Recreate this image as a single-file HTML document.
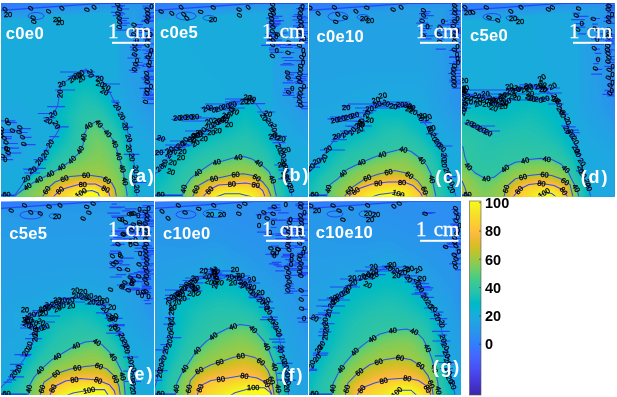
<!DOCTYPE html>
<html><head><meta charset="utf-8"><style>
html,body{margin:0;padding:0;background:#fff;}
svg{display:block;}
.t{letter-spacing:0.3px;font:bold 16.6px "Liberation Sans",Arial,sans-serif;fill:#fff;}
.s{font:21px "Liberation Serif","Times New Roman",serif;fill:#fff;stroke:#fff;stroke-width:0.3px;}
.l{letter-spacing:1.8px;font:bold 18px "Liberation Sans",Arial,sans-serif;fill:#fff;}
.cb{font:bold 14.5px "Liberation Sans",Arial,sans-serif;fill:#000;}
.n{font:7.4px "Liberation Sans",Arial,sans-serif;fill:#000;stroke:#000;stroke-width:0.3px;}
</style></head><body>
<svg width="617" height="397" viewBox="0 0 617 397">
<clipPath id="ca"><rect x="1" y="2.9" width="153" height="193.4"/></clipPath>
<g clip-path="url(#ca)">
<rect x="-11" y="-9" width="177" height="217" fill="#3479fd"/>
<path fill="#317dfb" d="M97.5 -3 166 -3.3 166 208 -11 208 -11 5.1Z"/>
<path fill="#2f80fa" d="M93.7 -1 104 -1.7 166 -1.5 166 208 -11 208 -11 6.9Z"/>
<path fill="#2e83f9" d="M89.9 1 104 0 166 0.2 166 208 -11 208 -11 8.6Z"/>
<path fill="#2e85f8" d="M100.5 2 166 2 166 208 -11 208 -11 10.1Z"/>
<path fill="#2d88f6" d="M95 3 104 2.4 166 2.4 166 208 -11 208 -11 10.7Z"/>
<path fill="#2d8af4" d="M101 3 166 2.9 166 208 -11 208 -11 11.2Z"/>
<path fill="#2d8df2" d="M93.1 4 104 3.2 166 3.4 166 208 -11 208 -11 11.7Z"/>
<path fill="#2c8ff1" d="M99.1 4 166 4 166 208 -11 208 -11 12.1Z"/>
<path fill="#2b91ef" d="M91.2 5 104 4.1 146 4.1 151.4 5 152 55 154 98 156.6 103 166 104.7 166 208 -11 208 -11 12.5Z"/>
<path fill="#2994ed" d="M97.2 5 148.7 5 149.6 61 152 103 154 106 166 108.4 166 208 -11 208 -11 12.9Z"/>
<path fill="#2896eb" d="M103.2 5 146.1 5 146.9 58 149.7 103 154 109.6 166 112.3 166 208 -11 208 -11 13.6Z"/>
<path fill="#2698ea" d="M90.4 7 104 6.1 140 6.1 142.8 7 143.7 55 147.3 103 154 113.3 166 116.1 166 208 -11 208 -11 14.5Z"/>
<path fill="#269be8" d="M92.8 8 104 7.2 137 7.3 139.4 8 140.6 57 142.4 83 144.7 103 154 117.1 166 120.1 166 208 -11 208 -11 15.7Z"/>
<path fill="#259de7" d="M95.2 9 104 8.4 136.1 9 137.4 58 139.4 84 141.9 103 154 121.2 166 124.1 166 208 -11 208 -11 16.9Z"/>
<path fill="#249fe5" d="M97.6 10 130.5 10 132.6 53 139.1 103 144 111.3 154 125.3 166 128 166 208 -11 208 -11 18 40 14.3 54 12.6ZM13 135.8 11 137.3 10.5 140 11.2 142 13 143.1 15.2 142 16.1 139 15 136.4Z"/>
<path fill="#22a1e4" d="M100.1 11 124.9 11 125.6 35 127.6 56 132.4 85 136.3 103 148 122.2 154 129.6 166 132.1 166 208 -11 208 -11 19.2 40 15.4 54 13.2 69 13.2ZM11 132 7.4 136 7.1 142 10 146.9 14 147.8 17 146.1 18.5 144 19.5 141 19.5 137 18 134 16 132.2 14 131.5Z"/>
<path fill="#21a3e3" d="M102.6 12 119.3 12 119.9 34 121.8 52 128.4 86 132.7 103 145 123.1 151.9 132 154 133.8 166 136.1 166 208 -11 208 -11 20.1 35 17 44.1 16 55 13.7 74.8 14ZM10 128.8 7.2 131 5.3 134 4.2 138 4.3 142 5.5 146 7.7 149 11 150.9 14 151.2 18 149.3 20.5 146 22.1 141 22 136 20 132 17 129.2 14 128.2Z"/>
<path fill="#1fa5e2" d="M92.2 13 104 12.2 118 12.2 118.8 13 119 65.7 129.1 103 143.5 127 149 134.1 154 138.2 166 140.2 166 208 -11 208 -11 20.3 36 17.2 47.5 16 55 14.2 63 14.7ZM12 124.9 8 126.4 4.4 130 2.1 135 1.5 140 2.6 146 5 150.3 9 153.5 13 154.4 17.8 153 21.1 150 24 144 24.7 138 23.5 133 20.1 128 16 125.3Z"/>
<path fill="#1ea7e1" d="M94.5 13 104 12.5 118.5 13 119 82 125.6 103 143 133.1 148.4 139 154 142.7 166 144.3 166 208 -11 208 -11 20.6 37 17.4 55 14.7 65 15.1ZM9 121.8 4.3 125 0.8 130 -1.1 136 -1.1 143 0.6 149 4 154 9 157.2 14 157.7 20 155.2 23.8 151 26.7 144 27.3 136 24.5 129 20 123.6 15 121.3Z"/>
<path fill="#1ca9df" d="M96.8 13 118.3 13 119 95 123.1 105 133 122.2 138.4 134 142.5 140 147 144 153 147 166 148.4 166 208 -11 208 -11 20.8 39 17.6 54 15.1 67 15.4ZM9 116.7 3 120 -1.8 126 -4.7 134 -5.2 142 -3.3 150 1 157 7 161.2 13 162.1 19.7 160 25.2 155 29.4 146 30.7 136 27.4 127 22 119.8 16 116.5Z"/>
<path fill="#1aabdd" d="M99.8 13 118 13 118.2 83 118.9 103 129.8 124 135 138.6 139.5 146 145 149.9 153 151.9 166 152.6 166 208 -11 208 -11 162.4 -4 167.9 4 170.4 12 169.8 21 166.2 26.3 162 30.6 156 34.5 146 36.6 135 27 112.3 22 106.1 17 102.6 10 100.5 3 100.9 -4 103.6 -11 109.3 -11 22 -10 21 3 21 4 20 16 20 17.7 19 30 19 31 18 42 17.9 43.8 17 55 15.3 71 15.8 72 15 85 14.9 85.9 14 98 14Z"/>
<path fill="#18addb" d="M52.5 16 60 15.6 64.6 16 64.9 17 64 18.6 62 19.8 56 20.8 50 19.8 48 18.6 47.1 17ZM84 70 86 69 91 74 99 77 104.9 83 105 84 108 87 111.9 95 112 97 113.9 99 126.9 125 128 133 128.9 134 129 138 129.9 139 130 143 130.9 144 131 149 132 150 132 155 133 156 133 159 134 160 134 163 135 164 135 183 136 184 136 189 136.9 190 137 196 138 197 138 200 139 201 139 208 7 208 7 201 10 198 14 196 14 195 20 188 23 182 32 173 33 173 33 172 36 169 36 168 40 164 41 159 48 145 52 140 52 139 55 136 56.1 133 59 129 59 128 56.1 125 56 124 52 124 51 123 47 123 46 122 46 121 55 111 57 107 57 104 58 103 58.1 98 59 97 59.1 92 60 91 60 86 68 79 79 73 81 71.1Z"/>
<path fill="#15afd9" d="M53.6 16 62.3 16 62.7 17 60.8 19 56 19.9 51.2 19 49.3 17ZM84.6 70 86 69.5 91 74.5 99 77.6 106.5 86 126.6 125 130.6 145 131.8 155 134.7 165 134.8 183 136.6 191 136.8 196 137.7 197 137.8 200 138.8 201 138.9 208 7.1 208 7.1 201 10 198.2 14 196.1 14.1 195 20.1 188 23.3 182 33.2 173 40.2 164 42.4 157 47.4 147 55.3 136 59.3 129 59.5 128 56 123.7 46.7 122 55 111.5 57.3 107 61.5 85 68 79.7Z"/>
<path fill="#12b1d7" d="M55 16 60.4 16 60.9 17 59 18.7 56 19.1 53 18.7 51 17ZM85.6 70 91 74.9 100 78.8 106 86.1 126.2 125 131.6 155 134.4 165 134.7 183 136.7 196 137.7 200 138.6 201 138.8 208 7.2 208 7.3 201 10 198.4 14 196.2 14.2 195 20.2 188 24.4 181 33.3 173 40.4 164 42.7 157 46.7 149 59.6 129 59.9 128 56 123.4 48 122 47.5 121 55 111.9 57.6 107 61.9 85 68.6 80Z"/>
<path fill="#0eb2d4" d="M57.9 16 59.2 17 57 18.3 54 18.1 52.8 17ZM84.9 71 86 70.9 91 75.6 99.4 79 106 86.8 125.9 125 131.5 155 134.2 165 134.5 183 136.5 196 137.5 200 138.5 201 138.7 208 7.2 208 7.4 201 14 196.2 20.3 188 24.5 181 33.5 173 40.6 164 47 149.2 56.7 135 60.3 128 56 123.2 48 121 55.5 112 58.4 106 62 85.9 68.2 81Z"/>
<path fill="#09b4d1" d="M83.3 73 86 72.2 90 76 99 79.6 105.3 87 125.4 125 133.9 165 134.3 183 136.4 196 138.5 202 138.6 208 7.3 208 7.5 201 14 196.3 24.7 181 33.7 173 40.8 164 48 148.3 56.6 136 60.4 129 60.2 127 57 123.2 49 121 55.6 113 58.7 107 63 86 69.8 81Z"/>
<path fill="#06b5ce" d="M83.9 74 85 73.4 86 73.8 89.6 77 98 80.2 105 87.9 125 125 133.5 165 133.7 180 136.2 196 138.4 202 138.6 208 7.4 208 7.7 201 14 196.4 24.9 181 33.8 173 40.3 165 48 149.3 57.3 136 61 129 61 127 57 122.3 50.9 120 56.6 113 59.6 107 63.8 87 70 82.2Z"/>
<path fill="#03b7cc" d="M83.3 76 85 75 89 78.2 97 81.1 104 88.3 124.8 126 133.2 165 133.5 180 136.2 197 138.2 202 138.5 208 7.5 208 7.8 201 14 196.5 25.1 181 34 173 40.8 165 49 149 58 136.4 61.8 129 61.8 127 58 121.9 53.2 120 53.1 119 57.1 114 60.7 107 65 88 71 83.2Z"/>
<path fill="#01b8c9" d="M83.2 78 85 77.3 88 79.5 97 82.8 103 89 124.1 126 132.8 165 133.2 180 136.4 199 138.1 202 138.4 208 7.5 208 7.9 201 14 196.5 26 180.3 34 173.5 41.3 165 49.3 150 59.3 136 62.6 129 62.7 127 58.7 121 54.9 119 58.5 114 61.9 107 66.5 89 71.2 85Z"/>
<path fill="#01bac6" d="M83.6 80 85 79.9 95.7 84 101.9 90 111 104.2 123.3 126 132.3 165 132.9 180 136.2 200 138 202.2 138.3 208 7.6 208 8 201.2 14 196.6 26 180.7 34 174 42 165 50 150.6 59.9 137 63.6 129 63.7 127 60 120.5 57.3 118 63 108 68.2 90 73 86.1Z"/>
<path fill="#03bbc3" d="M82.7 83 84 82.3 94 85.4 100.5 91 110 104.7 122.4 126 125.4 136 131.8 165 132.6 181 135.7 200 136.6 202 138 202.9 138.3 208 7.7 208 8 201.6 14 196.7 26 181 34.5 174 42 165.9 51 151 60.8 138 64.4 130 64.9 127 60 117 64.7 108 70.2 91Z"/>
<path fill="#07bcbf" d="M82.3 86 84 85.1 93 87.4 98.8 92 109 105.5 121.8 127 124.9 137 131.2 165 132 180 134.6 197 135.8 202 138 203.9 138.2 208 7.8 208 8 202.1 14 196.8 26.5 181 35 174.1 42.8 166 52 151.6 61.8 139 65.7 130 66.1 127 65.6 124 62.1 117 66.2 109 72.5 92Z"/>
<path fill="#0cbdbc" d="M82.3 89 84 88.1 91 89.4 97 93.5 108 106.5 120.6 127 124 136.9 130.5 165 131.5 180 134.7 201 136 203.7 138 205.3 138.1 208 7.8 208 8 202.9 14 196.8 27 181.1 35 174.8 43.8 166 49 157.9 63 139.9 66.8 131 67.6 127 67 123 64.4 117 64.8 116 75 93.6Z"/>
<path fill="#12beb9" d="M82.9 92 85 91.4 90 92.2 94.7 95 100 99.8 107.9 109 119.8 128 123.1 137 129.8 165 130.9 180 134.3 202 138 208 7.9 208 8 204.1 16 194.1 27 181.6 35.5 175 44 167 64.2 141 68 131.9 69.1 127 68.9 123 67.1 116 77.8 95Z"/>
<path fill="#18bfb6" d="M84 95 87 94.9 91 96.4 102 104.8 107 110.5 118.4 128 122.1 137 129 165 133.5 202 135.3 208 8 208 8 206.5 11.4 200 16 194.2 27.2 182 45.3 167 65.1 143 66.9 140 70.7 128 70.9 123 69.6 116 80.6 97Z"/>
<path fill="#1dc0b3" d="M83.9 99 87 99 93 101.5 103 108.6 116.7 128 120 134.8 128.4 166 131.9 194 132.8 208 10.5 208 11.4 201 16 194.3 27.9 182 46 167.8 66.7 144 69 140 72.5 128 73 115Z"/>
<path fill="#23c1af" d="M84.9 104 88 104.1 94 105.7 99 108.2 102.6 111 115.6 129 119.7 137 127.9 169 131.7 200 130.3 208 13 208 11.9 201 16 194.4 28 182.6 47.4 168 68 145.9 70.9 141 74.3 129 76.2 115Z"/>
<path fill="#27c2ac" d="M85.8 109 95 109.5 101.7 113 113.7 129 118.8 138 126.5 166 130.3 193 130.9 201 128 208 13.1 208 12.6 200 16 194.5 29 182.5 48 169 70 147 72.9 142 79.6 116Z"/>
<path fill="#2ac3a9" d="M90.5 113 96 112.8 101 115.3 112.3 130 117.8 139 126 169 130 200 129.6 202 128 204 127.9 208 13.1 208 12.9 200 16 194.6 29.3 183 50 169 65 155.9 71.5 149 75.4 142 77.3 133 81.4 120 86.1 114Z"/>
<path fill="#2dc4a5" d="M94.2 116 97 115.9 100 117.4 111 131.4 116.7 140 125.2 170 128.8 194 129 200 128 202.2 127.9 208 13.2 208 13.3 200 16 194.8 31.7 182 49 171.4 57.6 165 67 157.3 73.2 151 77.8 143 79.3 134 83.8 122 88 117.9Z"/>
<path fill="#30c5a2" d="M95 119 97 118.5 99 119.7 115.6 141 124.1 170 127.9 194 127.8 208 13.3 208 13.2 201 16 194.9 32 182.6 49 173 61 165.1 68 159.7 75 152.9 80.3 144 81.7 134 85.9 124 90 121.1Z"/>
<path fill="#32c69e" d="M95 122 97 121 109.9 135 114.9 142 115 144 115.9 145 116 147 120.7 160 121 163 122.8 167 123 170 123.8 171 126 187 126.8 188 127.8 208 13.3 208 13.3 201 16 195 19 192.4 33 182.2 50 174 57 169.1 62 167 65 164.1 69 162 77 154.1 78 154 81.1 147 83 145 83.1 136 87 127 90 124.1Z"/>
<path fill="#35c79a" d="M95.3 122 97 121.2 98.7 123 109.5 135 114.7 142 123.6 171 126.7 189 127.7 208 13.4 208 13.4 201 16 195.2 19 192.6 33 182.4 50 174.1 57 169.4 62 167.1 69 162.2 78.2 154 81.4 147 83.2 145 83.5 136 87.3 127 90 124.5Z"/>
<path fill="#38c896" d="M95.6 122 97 121.5 99.4 124 114.4 142 123.4 171 126.5 189 127.7 208 13.4 208 13.5 201 16 195.4 19 192.7 33 182.6 50 174.2 62 167.2 69 162.3 78 154.3 83.3 145 83.8 136 87.6 127Z"/>
<path fill="#3cc992" d="M95.8 122 97 121.7 99.2 124 114.2 142 123.2 171 126.4 189 127.6 208 13.5 208 13.7 201 16 195.7 19 192.9 33 182.8 50 174.3 62 167.4 69 162.4 78 154.5 83.5 145 84.2 136 87.8 127Z"/>
<path fill="#3fca8e" d="M96.7 122 111 138 114 142.3 123 171 126.3 190 127.6 208 13.5 208 13.8 201 16 195.9 19 193 33 183 62 167.5 69 162.6 78 154.7 83.7 145 84.9 134 88.1 127Z"/>
<path fill="#44cb89" d="M95.5 123 97 122.7 110 137.3 114 143.3 123 171.8 126.2 190 127.5 208 13.6 208 13.9 201 16.2 196 18.1 194 33.4 183 62 167.6 69 162.7 78 154.8 83.8 145 85 134.7 88.7 127Z"/>
<path fill="#49cb85" d="M95.1 124 97 123.7 113 142 123 172.9 126 190 127.4 208 13.7 208 14 201 17.4 195 33.8 183 62 167.7 71 161.3 78 155 83.6 146 85.5 135 89 127.6Z"/>
<path fill="#4fcc80" d="M95.3 125 97 125.2 109 138.1 113 143.9 122 169.7 126 191.1 126.2 200 127.2 201 127.4 208 13.7 208 14 201.5 15 200.9 18 195 34.3 183 62 167.9 70 162.5 78.6 155 84.6 145 86 135.9 89.8 128Z"/>
<path fill="#55cc7c" d="M94 127 96 126 108 138.4 112 143.7 122 171.4 126 192.8 126.1 200 127.1 201 127.3 208 13.8 208 14 202.2 15.7 201 17.8 196 22.6 192 33.3 184 63 167.4 71 162.1 79.3 155 85.1 146 87 136 88 134 90.7 129Z"/>
<path fill="#5bcc77" d="M93.5 129 96 128.2 107 139.2 111 144.3 122 173.5 125.8 194 126 200 127.1 202 127.3 208 13.8 208 14 203.1 16 202 18 197 23.6 192 34.2 184 71 162.7 80 155.2 86.2 146 88.4 136 91.9 130Z"/>
<path fill="#61cd71" d="M93.7 131 95 130.4 96 131 108.5 143 114 154.4 120 169 122 175.9 125 191 125.6 200 127 201.7 127.2 208 13.9 208 14 204.4 17 202.4 19.2 197 29.8 188 40 181 71 163.4 80.4 156 87.6 146 89.9 137Z"/>
<path fill="#67cd6c" d="M94.5 134 95 133.3 96 134.1 107.7 145 119 168.8 123.7 186 125.2 200 127 202.3 127.2 208 14 208 14 206.1 16 205.3 18 203.2 20 197.8 34 185.7 72 163.5 81 156.8 88.9 147 92.4 137Z"/>
<path fill="#6dcd67" d="M95.3 138 96 137.6 105.7 146 118.9 171 123 185.5 124.8 201 127 203.2 127.1 208 15.4 208 18.8 205 21.7 198 34.9 186 43.9 180 72 164.5 82 157.6 90.7 148Z"/>
<path fill="#74cc62" d="M96.9 143 98 143 103 147 111 158.9 118 171.9 122.4 186 124.2 201 125 202.9 127 204.6 127.1 208 19.2 208 23 199 35.2 187 46.9 179 73 165 83 158.7 93.2 149Z"/>
<path fill="#7bcc5d" d="M98.9 148 109 159.8 118 174.9 121.8 187 123.6 202 125 204.9 127 206.9 127 208 22.3 208 24 201 26.1 198 33.6 190 40.7 184 52 176.8 84.2 160Z"/>
<path fill="#82cc58" d="M97.9 154 99 153.4 107 161.4 117.6 177 120.9 187 122.8 203 124.2 208 25.3 208 26 202.5 28.5 198 35.6 190 43 183.5 53 177.1 85 161.8Z"/>
<path fill="#88cb53" d="M97.2 159 99 158.8 106 164.5 117 178.9 119.9 187 121.1 194 121.7 201 121 208 28.5 208 28.5 204 31 198 36.8 191 44.1 184 53.1 178 69 170.5Z"/>
<path fill="#8fcb4e" d="M95.6 164 98 163.3 105 167.7 115.9 180 119 188 120.7 200 118 208 32.3 208 32.2 202 34.3 197 44.8 185 53 179.1 69 172Z"/>
<path fill="#96ca49" d="M96.5 168 104 170.9 114.7 181 117.7 188 119.5 199 119.5 201 118 203.2 117.9 208 38.5 208 36.6 206 35.3 202 36.4 198 45.7 186 53.6 180 70 173.2 88 168.8Z"/>
<path fill="#9cc944" d="M87.2 172 96 172.1 102 173.6 113 181.6 116.5 189 118.4 200 117.8 208 40.1 208 40 203.1 38.3 201 38.6 199 46.8 187 54 181.2 70 174.9Z"/>
<path fill="#a3c83f" d="M76.1 176 79 175.2 88 175 101 176.3 111 182.1 112.8 184 115.7 190 117 200 117.8 201 117.8 208 40.2 208 40.1 201 42.1 197 46.2 190 53 183.3 56 181.2 70 176.2Z"/>
<path fill="#a9c73a" d="M78.5 176 88 175.3 99 176.5 103 177.8 111 182.5 114.5 188 115.5 191 116.8 200 117.6 201 117.7 208 40.3 208 40.4 201 47.5 189 52 184.7 56 181.7 70 176.7Z"/>
<path fill="#afc636" d="M81.2 176 89 175.6 101 177.4 111 183 115.1 191 116.6 200 117.5 201 117.6 208 40.3 208 40.7 201 47.9 189 54.6 183 70 177.1Z"/>
<path fill="#b5c533" d="M84.6 176 89 175.9 101 177.7 111 183.4 114.6 190 116.4 200 117.5 202 117.6 208 40.4 208 41 201.1 48.3 189 55 183 70 177.5Z"/>
<path fill="#bbc42f" d="M77 177 88 176.1 101 177.9 111 183.8 114.3 190 116.2 200 117.3 202 117.5 208 40.5 208 41 201.6 42.1 201 48.8 189 54.4 184 70 177.9Z"/>
<path fill="#c1c32c" d="M80.3 177 88 176.5 101 178.3 110.7 184 114.1 190 116 200 117.2 202 117.4 208 40.6 208 41 202.3 42.7 201 49 189.3 55 184 70 178.3Z"/>
<path fill="#c7c12a" d="M85.4 177 101 178.7 110.1 184 113.7 190 115.8 200 117.1 202 117.3 208 40.7 208 41 203.1 43 201.5 48 191.6 49.9 189 56 183.7 70 178.7Z"/>
<path fill="#ccc028" d="M78 178 88 177.2 98 178.5 101 179.2 110 184.4 113.4 190 115.8 201 117 202.1 117.3 208 40.8 208 41 204.2 43.5 202 48.2 192 56 184.3 70 179.2Z"/>
<path fill="#d2bf27" d="M82.6 178 88 177.7 100 179.4 110 185 113 190 115.4 201 117 202.8 117.2 208 40.9 208 41 205.5 43.7 203 48.8 192 56 184.8 71 179.4Z"/>
<path fill="#d7be28" d="M77 179 88 178.1 97 179.1 101 180.1 109 184.7 112.6 190 115 201 117 203.8 117.1 208 41 208 44 204.3 49 192.5 56 185.5 70 180.2Z"/>
<path fill="#dcbd29" d="M80.2 179 88 178.6 97 179.5 101 180.7 109 185.3 112.6 191 115 202.3 117 205.3 117.1 208 43.2 208 49.2 193 57 185.3 71 180.5Z"/>
<path fill="#e1bc2b" d="M76.7 180 88 179.1 96 179.7 100.5 181 108 185.1 112.2 191 114.8 204 116.6 208 45.3 208 46.7 200 49.2 194 51.4 191 56.9 186 71 181Z"/>
<path fill="#e5bb2d" d="M79.5 180 88 179.6 96 180.2 100 181.3 108.4 186 112.1 192 113.9 200 113.7 208 47.2 208 47.2 201 49.4 195 52 191.2 57 186.6 71 181.6Z"/>
<path fill="#eabb30" d="M76.8 181 88 180.1 96 180.6 100 181.9 108 186.3 111.3 191 113.6 200 112 208 49.2 208 48 203.3 48.1 200 50.5 194 53 191 59 186.1Z"/>
<path fill="#eeba34" d="M79.4 181 96 181.1 100 182.4 108 187 111.3 192 113.1 199 111.9 208 51.7 208 49.6 205 48.7 201 50.6 195 53 191.8 59 186.7 71 182.8Z"/>
<path fill="#f2ba38" d="M77.1 182 87 181.2 96 181.6 107 186.8 110.9 192 112.7 199 111.9 208 52.1 208 52 205.7 50 203.3 49.5 200 51.2 195 53 192.6 59 187.3Z"/>
<path fill="#f6ba3b" d="M79.6 182 96 182 107 187.5 110.4 192 112.3 199 111.8 208 52.1 208 52 203.9 50.5 202 50.2 200 51.8 195 54 192.5 59 188Z"/>
<path fill="#f9bb3d" d="M77.7 183 81 182.4 96 182.6 106 187.4 110.3 193 112.2 200 111.7 208 52.2 208 52 202.5 50.9 200 52.5 195 54 193.4 60 188.2Z"/>
<path fill="#fcbc3d" d="M79.9 183 96 183.1 106 188 109.9 193 111.8 200 111.7 208 52.3 208 51.6 200 52.7 196 59 189.5Z"/>
<path fill="#febe3c" d="M78.3 184 95 183.5 106 188.8 109.8 194 111.6 201 111.6 208 52.4 208 52.3 200 53.4 196 59.4 190Z"/>
<path fill="#fec13a" d="M76.6 185 81 184 95 184 105 188.5 109.4 194 111.5 201 111.6 208 52.5 208 52.5 201 54 196 60 190.2Z"/>
<path fill="#fec438" d="M77.6 185 81 184.3 95 184.2 105 189 109 194 111.3 201 111.5 208 52.5 208 52.8 201 54.3 197 60 190.9Z"/>
<path fill="#fec636" d="M78.6 185 95 184.5 105 189.3 108.2 193 111.1 201 111.4 208 52.6 208 53 201.3 54 200.5 54.9 197 60.7 191Z"/>
<path fill="#fec934" d="M79.7 185 95 184.7 105 189.7 108 193.4 110 200 111 201 111.4 208 52.7 208 53 202.2 54.7 201 55.8 197 61 191.6Z"/>
<path fill="#fdcc32" d="M83.6 185 95 185 104.8 190 107.9 194 109.6 200 111 201.6 111.3 208 52.8 208 53 203.3 55.1 202 56.9 197 61.7 192 77.6 186Z"/>
<path fill="#fccf31" d="M78.8 186 95 185.3 104.2 190 107.4 194 109.5 201 111 202.2 111.3 208 52.9 208 53 204.6 55.6 203 57.3 198 61.6 193 69 189.4Z"/>
<path fill="#fbd22f" d="M80 186 95 185.6 103.5 190 106.9 194 109 201.1 111 203 111.2 208 52.9 208 53 206.3 56.3 204 58.4 198 62 193.7 68.9 190Z"/>
<path fill="#fad52e" d="M84.1 186 95 186 104 190.9 106.8 195 108.8 202 111 204 111.1 208 53.7 208 57 205.2 59 199 63 194 72 189.4 80 186.4Z"/>
<path fill="#f9d72c" d="M79.6 187 94 186.2 102.2 190 106.3 195 108.2 202 111 205.3 111.1 208 56.8 208 59 204.1 60.2 199 63.2 195 69.6 191Z"/>
<path fill="#f8da2b" d="M80.9 187 94 186.6 101.5 190 105.7 195 108 203.4 111 208 58.9 208 60.9 200 64 195.5 70.9 191Z"/>
<path fill="#f6dd29" d="M86.5 187 95 187.2 102.1 191 105.1 195 109.1 208 60.8 208 62 200.6 65 196 70.4 192 74.6 190 81 187.4Z"/>
<path fill="#f6e028" d="M80.6 188 93 187.2 101 190.6 104.5 195 105.7 198 106.9 208 62.6 208 63.1 201 65 197.4 71.6 192Z"/>
<path fill="#f5e327" d="M83 188 93 187.5 100.8 191 103.9 195 105.4 199 105 208 64.4 208 64.1 202 65.9 198 72.9 192Z"/>
<path fill="#f5e626" d="M88.9 188 95 188.5 100 190.9 102 193 105.1 200 104.6 204 102.7 208 66.3 208 65.4 203 66 200 71.3 194 81 188.8Z"/>
<path fill="#f5e924" d="M82 189 92 188.2 100 191.4 103.2 196 104.5 200 104 203.1 102 206 101.9 208 68.4 208 66.8 203 68.6 198 73.6 193Z"/>
<path fill="#f5ec22" d="M86.4 189 93 188.7 100 192 103.9 200 103.6 202 102 204.2 101.8 208 71 208 69 205.3 68.3 203 69.9 198 74.9 193 82 189.5Z"/>
<path fill="#f5ef21" d="M91 189 94 189.4 99 191.7 101.3 195 103.4 200 102 202.9 101.7 208 73.1 208 73 206.1 70.5 204 69.8 201 70.4 199 73.4 195 82 190Z"/>
<path fill="#f6f11e" d="M84.9 190 92 189.3 99 192.2 102.8 200 101.8 203 101.6 208 73.2 208 73 203.7 71.1 201 71.5 199 75 194.4 82 190.5Z"/>
<path fill="#f7f41c" d="M89.1 190 93 190 99 193 102.2 200 101.5 208 73.4 208 73 202 72.1 200 75 195.2 83 190.7Z"/>
<path fill="#f8f719" d="M84.1 191 92 190.2 98.5 193 101.6 200 101.4 208 73.5 208 73.1 200 75.2 196Z"/>
<path fill="#f9fa16" d="M88 191 93 191 98 193 101 200 101.3 208 73.7 208 73.8 201 76 196 82.7 192Z"/>
<path fill="#f9fb15" d="M84 194 92 193.2 96 194.9 99 201.4 101 202.5 101.2 208 73.8 208 74 202.5 76 201.4 78 197.8Z"/>
<path fill="#f9fb15" d="M88.2 196 91 195.7 94 196.8 97 203 99 204.6 101 205 101 208 73.9 208 74 205 77 204 80 199.5 85 196.4Z"/>
<path fill="none" stroke="#2f4fe6" stroke-width="1.05" d="M8 200 14 196 20 188 25 180 33 173 40 164 43 156 47 148 51.4 140.8 56 134.8 59.7 128 56 124 46 122 54.5 112 57.5 106 59.4 95.6 61 85 68 79.7 77 74.4 85.9 69 91 74.4 100 78 107 86.7 112 97 117.6 108 123 118.5 126.4 125 129.4 140 132 155 134.4 165 134.4 180 137 196 138 200M14 200 16 195 22.6 190 32.7 183 42 178 50 174 62 167 70 161.5 78 154 83 145 84 135 88 126 97 121 102 127 110 136 114 141 119 156.5 123 170 125.6 185 127 194 127 200M41 200 43 196 48 188 55 182 70 176.6 88 175 101.8 177 111.8 183 115 189 117 200M53 200 54 196 60.3 190 68 187.5 80.4 184 95.5 184 105.5 189 109 193 111 200M74 200 76 196 83 191.6 92 190.5 98 193 101 200"/>
<path fill="none" stroke="#2249f5" stroke-width="1.2" d="M-1 10.6 L101 3.4 L154 3.2M116.2 5.7h8.9M111.4 6.6h11.7M118 9h11.2M111.1 12.4h12.6M117.8 13.8h7.4M112.8 15.6h9.9M117.7 18.4h11.3M119.7 20.6h7.2M118.1 23.1h11.6M118.9 25.4h8.2M116.1 30.1h10.5M135 24.6h7.9M136.8 27.3h5M133.5 30.4h12.3M135.6 32.6h8.4M130 35.6h7M136.5 37.1h6.1M132.9 40.6h6.2M130 43h13.7M132.2 45.3h11.7M129.9 47.2h11.9M130.4 49.9h10.8M131.2 54.6h7M127.4 58h13.2M131.8 62.5h10.8M132.9 65.3h11.1M133.1 67.9h7.4M128.9 70.4h9.1M131.6 72.5h5.7M142.2 6h8.1M142.9 8.1h10.6M145.6 12.7h9.8M142.9 16.2h12.7M145.5 17.7h13.1M141.9 20.3h12.4M141.2 21.5h12.2M140 28.4h12.7M146.8 30.2h11.4M147.3 34h5.8M148.2 35.3h5.4M143.2 38.1h8.3M143.5 39.7h7.2M143 42.3h6.2M147.8 44h6.7M142.1 50h13.7M146.2 51.5h8M143.8 53.5h12.2M144.3 56.7h6.5M143.8 58.3h9.5M147.3 60.5h8.2M143.4 64.2h5.2M142.2 66.5h13.2M147 68h6.4M147 70.1h7.3M143.4 71.4h10M145.9 76.4h7.6M140.8 77.9h13.3M142.3 79.6h11.7M143.4 82.7h6.4M145.1 84.3h6.5M139.4 88.3h12.4M149.7 89.5h5.6M143.3 91.8h8.6M142.9 94.2h13.3M143 95.7h10.6M142.1 97.9h13.4M147.2 99.4h7.4M147.6 103.6h8.7M24.4 173h15.7M23.1 169.1h15.6M29.3 168.3h16.5M33.6 159.6h13.4M43.6 150.4h5.5M49.4 136.6h9.7M55.2 126.9h13.5M43.3 117.8h12.1M37.8 113.5h17.7M47.2 106.7h17.9M67.8 76.5h9.3M83.2 70.7h5.7M103.1 92.4h8.7M111 101h8.1M112.2 102.5h7.6M121.8 127.2h11.1M126 141h6.1M123.7 154.3h15.7M130.8 182.4h15.6M1 120.8h14.4M8.7 122.7h8.2M0.6 130h9.8M-0.8 132.3h13.4M-0.5 136.6h12.4M4.9 138.7h6.7M17.3 128.7h13.6M19.4 132.5h8.2M21.8 137.3h9.7M21.6 144.7h14M1.4 147.9h11.6M6.1 148.1h13M5.7 153h15.7M2.8 155.9h7.9M0 159.6h13.1M3.1 143.5h14.7M12.1 130.6h9.8M60 72H95M70 76H100M55 90H75M100 84H120"/>
<g fill="none" stroke="#2249f5" stroke-width="1"><ellipse cx="36" cy="16" rx="8" ry="3.5"/></g>
<path d="M1 195.2H14" stroke="#1433e8" stroke-width="1.6" fill="none"/>
<text class="n" x="2.5" y="196.5">60</text>
<g class="n"><text transform="translate(23.5 182.8) rotate(-26)">20</text><text transform="translate(30.1 174.2) rotate(-28)">20</text><text transform="translate(38.7 166) rotate(-52)">20</text><text transform="translate(44.4 158.9) rotate(-50)">20</text><text transform="translate(49.7 148.4) rotate(-54)">20</text><text transform="translate(52.3 122.3) rotate(62)">20</text><text transform="translate(43.4 120.7) rotate(30)">20</text><text transform="translate(50.5 117.9) rotate(-25)">20</text><text transform="translate(62.2 98.2) rotate(-85)">20</text><text transform="translate(58.4 87.5) rotate(-15)">20</text><text transform="translate(70.7 83.5) rotate(-38)">20</text><text transform="translate(73.4 78.5) rotate(-5)">20</text><text transform="translate(78.4 78) rotate(-35)">20</text><text transform="translate(78.9 83) rotate(-30)">20</text><text transform="translate(86.7 70.6) rotate(70)">20</text><text x="95.5" y="80.5">20</text><text transform="translate(95.5 85.5) rotate(13)">20</text><text transform="translate(101.6 87.1) rotate(30)">20</text><text transform="translate(99.6 92.1) rotate(26)">20</text><text transform="translate(112.7 105) rotate(53)">20</text><text transform="translate(117.6 113.4) rotate(63)">20</text><text transform="translate(122.6 122.5) rotate(85)">20</text><text transform="translate(125.2 134.7) rotate(73)">20</text><text transform="translate(126.1 144.5) rotate(85)">20</text><text transform="translate(129.1 153.4) rotate(85)">20</text><text transform="translate(132.9 165.3) rotate(85)">20</text><text transform="translate(131.9 175) rotate(85)">20</text><text transform="translate(133.9 185.1) rotate(85)">20</text><text transform="translate(25.7 191) rotate(-35)">40</text><text transform="translate(36.3 184) rotate(-28)">40</text><text transform="translate(48 178.2) rotate(-30)">40</text><text transform="translate(59.2 171.6) rotate(-30)">40</text><text transform="translate(70.7 164.4) rotate(-43)">40</text><text transform="translate(80.6 154.8) rotate(-61)">40</text><text transform="translate(85.9 142) rotate(-84)">40</text><text transform="translate(86.1 130) rotate(-29)">40</text><text transform="translate(94.4 122) rotate(50)">40</text><text transform="translate(102.9 131.9) rotate(48)">40</text><text transform="translate(111.2 140.7) rotate(72)">40</text><text transform="translate(115.2 153.1) rotate(72)">40</text><text transform="translate(118.9 165.4) rotate(73)">40</text><text transform="translate(121.7 177.8) rotate(80)">40</text><text transform="translate(46.6 195.1) rotate(-58)">60</text><text transform="translate(61.5 182.4) rotate(-20)">60</text><text transform="translate(82.2 178.1) rotate(-5)">60</text><text transform="translate(102.2 180.3) rotate(31)">60</text><text transform="translate(58.7 195.1) rotate(-44)">80</text><text x="78.7" y="186.6">80</text><text transform="translate(100.8 189.5) rotate(27)">80</text><text transform="translate(77.1 198.4) rotate(-32)">100</text><text transform="translate(118.9 7.5) rotate(-62)">0</text><text transform="translate(121.1 12) rotate(-65)">0</text><text transform="translate(119.6 16.5) rotate(-66)">0</text><text transform="translate(121 21) rotate(-72)">0</text><text transform="translate(120.5 25.5) rotate(-55)">0</text><text transform="translate(120.7 30) rotate(-66)">0</text><text transform="translate(135.7 27.5) rotate(-70)">0</text><text transform="translate(136.1 32.5) rotate(-62)">0</text><text transform="translate(135.1 37.5) rotate(-61)">0</text><text x="134.8" y="42.5">0</text><text transform="translate(135.8 47.5) rotate(-56)">0</text><text transform="translate(136.1 52.5) rotate(-54)">0</text><text transform="translate(135.9 57.5) rotate(-65)">0</text><text x="135.1" y="62.5">0</text><text transform="translate(137 67.5) rotate(-61)">0</text><text transform="translate(135.4 72.5) rotate(-59)">0</text><text x="149.6" y="8.5">0</text><text transform="translate(148.7 12.5) rotate(-67)">0</text><text transform="translate(148.7 16.5) rotate(-57)">0</text><text transform="translate(149.1 20.5) rotate(-57)">0</text><text transform="translate(147.4 24.5) rotate(-51)">0</text><text transform="translate(147.6 32.5) rotate(-73)">0</text><text x="148.5" y="36.5">0</text><text transform="translate(149.4 40.5) rotate(-58)">0</text><text transform="translate(148.9 44.5) rotate(-62)">0</text><text transform="translate(147.8 48.5) rotate(-53)">0</text><text x="149.2" y="52.5">0</text><text x="148" y="56.5">0</text><text transform="translate(148.9 60.5) rotate(-56)">0</text><text x="147.7" y="64.5">0</text><text transform="translate(149.4 68.5) rotate(-51)">0</text><text transform="translate(147.4 76.5) rotate(-54)">0</text><text transform="translate(148.2 80.5) rotate(-64)">0</text><text transform="translate(148.9 84.5) rotate(-72)">0</text><text x="148.9" y="88.5">0</text><text transform="translate(148.7 92.5) rotate(-68)">0</text><text transform="translate(147.4 96.5) rotate(-50)">0</text><text transform="translate(147.3 104.5) rotate(-72)">0</text><text transform="translate(5.5 12.5) rotate(-47)">0</text><text x="4" y="16.5">20</text><text transform="translate(31.5 11.5) rotate(-54)">0</text><text transform="translate(49.5 14.5) rotate(-55)">0</text><text transform="translate(62.5 11.5) rotate(-49)">0</text><text transform="translate(88.5 12.5) rotate(-68)">0</text><text transform="translate(94.5 10.5) rotate(-46)">0</text><text transform="translate(34.5 20.5) rotate(-64)">0</text><text transform="translate(35.5 24.5) rotate(-71)">0</text><text x="53" y="21.5">20</text><text x="56" y="24.5">20</text><text x="4.8" y="122.9">0</text><text transform="translate(10 125.9) rotate(-73)">0</text><text transform="translate(2.5 132) rotate(-56)">0</text><text transform="translate(2.5 135) rotate(-68)">0</text><text transform="translate(2.5 138.5) rotate(-69)">0</text><text transform="translate(5.6 141.1) rotate(-62)">0</text><text transform="translate(20.7 130.5) rotate(-55)">0</text><text transform="translate(20.7 135) rotate(-69)">0</text><text transform="translate(23.7 140.3) rotate(-61)">0</text><text transform="translate(25.2 147.1) rotate(-65)">0</text><text x="4" y="150.9">0</text><text transform="translate(9.3 151.5) rotate(-70)">0</text><text transform="translate(10 155.5) rotate(-73)">0</text><text transform="translate(4 158.5) rotate(-75)">0</text><text x="3.3" y="161.5">0</text><text transform="translate(7 145.5) rotate(-57)">0</text><text transform="translate(14 133.5) rotate(-67)">0</text></g>
<text x="128.2" y="181.5" class="l">(a)</text>
</g>
<text x="5.8" y="38.6" class="t">c0e0</text>
<text x="108" y="37.8" class="s">1<tspan dx="7.3">cm</tspan></text>
<rect x="112" y="41.8" width="38.5" height="2" fill="#fff"/>
<clipPath id="cb"><rect x="155" y="2.9" width="153" height="193.4"/></clipPath>
<g clip-path="url(#cb)">
<rect x="143" y="-9" width="177" height="217" fill="#3479fd"/>
<path fill="#317dfb" d="M254 -3 320 -3.3 320 208 143 208 143 5.1Z"/>
<path fill="#2f80fa" d="M250.5 -1 320 -1.5 320 208 143 208 143 6.9Z"/>
<path fill="#2e83f9" d="M247 1 258 0.2 320 0.2 320 208 143 208 143 8.6Z"/>
<path fill="#2e85f8" d="M257.4 2 320 2 320 208 143 208 143 10.1Z"/>
<path fill="#2d88f6" d="M249.8 3 258 2.4 320 2.4 320 208 143 208 143 10.7Z"/>
<path fill="#2d8af4" d="M255.7 3 320 2.9 320 208 143 208 143 11.2Z"/>
<path fill="#2d8df2" d="M247.9 4 258 3.3 320 3.4 320 208 143 208 143 11.7Z"/>
<path fill="#2c8ff1" d="M253.7 4 320 4 320 208 143 208 143 12.1Z"/>
<path fill="#2b91ef" d="M245.9 5 258 4.1 300 4.1 305.3 5 305.8 67 307.1 103 308 104.3 320 105.6 320 208 143 208 143 12.5Z"/>
<path fill="#2994ed" d="M251.8 5 302.7 5 303.1 67 304.6 103 308 108 320 109.5 320 208 143 208 143 12.9Z"/>
<path fill="#2896eb" d="M257.9 5 300 5 300.5 66 302.1 103 308 111.6 320 113.3 320 208 143 208 143 13.6Z"/>
<path fill="#2698ea" d="M246.1 7 258 6.2 294 6.2 296.7 7 297.3 66 299.5 103 308 115.4 320 117.1 320 208 143 208 143 14.5Z"/>
<path fill="#269be8" d="M248.4 8 258 7.3 291 7.3 293.4 8 294 67 296.4 103 308 119.1 320 120.9 320 208 143 208 143 15.7Z"/>
<path fill="#259de7" d="M250.7 9 258 8.5 290 9 290.7 67 293.4 103 302.9 117 308 122.9 320 124.6 320 208 143 208 143 16.9Z"/>
<path fill="#249fe5" d="M253 10 284.4 10 285.6 65 287.5 85 290.3 103 297.2 114 308 126.7 320 128.4 320 208 143 208 143 18Z"/>
<path fill="#22a1e4" d="M255.3 11 278.7 11 280.2 65 282.5 86 285.8 103 297.1 119 306.2 129 308 130.5 320 132.2 320 208 143 208 143 19.2 193 15.5 208 13.8Z"/>
<path fill="#21a3e3" d="M257.8 12 273 12 273.4 44 274.5 64 276.9 83 281.3 103 296 122.9 304 131.2 308 134.3 320 136 320 208 143 208 143 20.1 189 17 208 14.4 230 14Z"/>
<path fill="#1fa5e2" d="M246.3 13 258 12.3 272 12.3 272.7 13 273 89.2 273.9 93 276.7 103 297 129.4 303 134.8 308 138.2 320 139.8 320 208 143 208 143 20.3 190 17.2 207 15.1 217 15.1Z"/>
<path fill="#1ea7e1" d="M248.6 13 272.4 13 273 104.4 287.3 124 297 135 308 142.1 320 143.6 320 208 143 208 143 20.6 191 17.3 208 15.3 218 15.3Z"/>
<path fill="#1ca9df" d="M250.9 13 272.2 13 273 111.6 286 130.1 295.8 140 302 143.7 308 146.2 320 147.5 320 208 143 208 143 20.8 193 17.4 209 15.5 220 15.5Z"/>
<path fill="#1aabdd" d="M240 14 272 51.6 272.2 103 273 119.2 284 136.7 292 144.4 297 147.2 304 149.6 320 151.3 320 208 143 208 143 21.2 195 17.7 209 15.7 239 14.9Z"/>
<path fill="#18addb" d="M208.6 16 217.1 16 218.4 18 216 20.8 209 22.4 202 21.4 198.6 19 198.4 18 199.5 17ZM159.7 20 168.5 20 235 104 237 102 246 98 251 98 256 103 256 104 259 107 259 108 262 111 262 112 265 115 265 116 268 119 268 120 270 122 271 125 273.9 129 276 136 277.9 139 278 141 279.9 144 280 146 282 149 282 152 283 153 283 157 284 158 284 163 285 164 285 167 317.5 208 143 208 143 21.8 146 21 158 20.8ZM292 196 292 200Z"/>
<path fill="#15afd9" d="M211.6 16 213.7 16 215.2 17 215.2 19 212 20.6 208 20.9 203.8 20 202 18 202.4 17ZM143 85 152.3 98 158.2 108 161.7 117 162.7 125 160.1 138 150.1 162 143 167.8ZM246.8 99 251 98.7 257.4 106 267.3 119 274.4 132 282.5 153 284.5 165 284.8 172 291.6 192 292.9 208 143 208 143 185.9 149.4 177 159 171 167.5 158 177 148.6 189 139.4 210 127.7 222 122.3 228.6 112 236 103.5 244 99.5Z"/>
<path fill="#12b1d7" d="M204.8 17 212 16.7 213.6 18 212 19.5 208 20 204.8 19 204.2 18ZM244.2 100 251 99.4 266 118.1 272.2 128 281.3 150 283.3 159 284.6 172 291.2 192 292.8 208 143 208 143 186.6 149.8 177 159 171.5 168 158.1 177.3 149 189 139.8 210.4 128 222 122.6 229.9 111 235.9 104Z"/>
<path fill="#0eb2d4" d="M208.8 17 211.3 18 209 19 206.5 18ZM248.7 100 251 100.5 255 104.8 267 120.3 272 128.5 280 147.8 283.2 160 284.4 172 291.1 193 292.7 208 143 208 143 187.4 150.3 177 159.1 172 168.7 158 177.9 149 187.9 141 211.3 128 222 123 231 110.6 236.9 104 245 100.5Z"/>
<path fill="#09b4d1" d="M248.9 101 250.1 101 254 105 267 121.6 271 128 280 149 283 160.8 284.2 172 291 194 292.7 208 143 208 143 188.7 151 177.2 159.7 172 169 158.4 177.6 150 188.9 141 223 123.1 231.7 111 237.2 105 245 101.5Z"/>
<path fill="#06b5ce" d="M244.8 103 249 102.3 253 105.8 266 121.8 271 129.9 280.2 151 282.6 161 284 172 290 190.7 291 200 292.3 202 292.6 208 143 208 143 190.4 151.4 178 160 172.8 169.3 159 178 150.6 189 141.8 210.5 130 223.2 124 232.3 112 237.9 106Z"/>
<path fill="#03b7cc" d="M247.6 104 249 104 252 107 265 122.5 269.9 130 279 149.8 282.1 161 283.5 172 289.6 191 290.6 200 292.1 202 292.5 208 143 208 143 192.5 152 178.9 160.9 173 170.5 159 178.8 151 190 142.3 212 130.3 224 124.8 233.3 113 239 107Z"/>
<path fill="#01b8c9" d="M246.7 106 248 105.9 251 108.6 265 124.9 268.5 130 278.6 151 281.4 161 283.1 172 289.1 191 290.3 201 292 202.2 292.4 208 143 208 143 194.6 153 179.6 161 174.4 170.1 161 173 158 179.2 152 190.8 143 211.2 132 225 125.6 239.6 109Z"/>
<path fill="#01bac6" d="M244.7 109 247 108.2 248 108.8 262.3 124 267.4 131 277 149.8 280.7 161 282.5 172 288.5 191 289.7 201 292 203 292.3 208 143 208 143 196.8 145.7 194 153.7 181 162 175 171 161.8 174 158.6 180 152.9 191 144.3 206.2 136 226 126.6 237 114.3 241 110.6Z"/>
<path fill="#03bbc3" d="M243.5 112 247 111.2 261 125.5 266 132 276 150.3 280 161.5 281.9 172 288 191.7 289 201 290 202.9 292 204.1 292.2 208 143 208 143 199.4 146.7 196 154.9 182 162.8 176 172 162.6 175.5 159 192 145.3 205.3 138 227 128 238 116.5Z"/>
<path fill="#07bcbf" d="M243.9 115 246 114.2 262 129.9 275.5 152 279.2 162 281.2 172 287.3 192 288.5 202 290 204.3 292 205.5 292.1 208 143 208 143 202.7 148 198 156 183.7 163.9 177 173.5 163 181.9 155 192.3 147 200.9 142 228 129.5Z"/>
<path fill="#0cbdbc" d="M243.7 119 246 118.3 261 132.2 274 152.1 278.1 162 286.5 192 287.5 202 289 205 292 208 143 208 143 206.9 147 203.6 149.8 200 157.6 185 165.2 178 175 163.8 183 156.3 193 148.6 201 143.8 230 130.8Z"/>
<path fill="#12beb9" d="M243.9 123 245 122.2 246 122.5 259.3 134 272.8 153 278 165.3 285.6 192 286.8 203 289.3 208 147.9 208 152 201.9 159.1 187 166.6 179 176.3 165 184 157.9 194.2 150 202.7 145 232 132.3Z"/>
<path fill="#18bfb6" d="M244.5 127 246 126.8 248 128.2 257 135.6 271.4 154 276.7 165 280.7 178 285 194 285.6 203 286.8 208 152.8 208 161 188.8 168 180.4 177.2 167 181 163.1 195 152 203 147.1 232.5 135Z"/>
<path fill="#1dc0b3" d="M243.5 132 246 131.2 248 132.4 259 141.8 269 153.5 274 162.3 279.7 178 283.7 193 284.6 208 157.3 208 163 191 181 165.9 196 153.9 204 149 234 137.3Z"/>
<path fill="#23c1af" d="M244.2 136 246 135.6 248 136.8 259 145.7 267.6 155 274.3 166 278.7 178 283 195 283.2 202 282.2 208 161.6 208 162.7 201 165.5 193 172.7 181 183 167.1 198 155.4 206 150.5 235.4 140Z"/>
<path fill="#27c2ac" d="M242 141 246 140.1 257 147.7 266 156.4 273.8 168 277.9 179 281.8 195 281.9 202 279.2 208 166.1 208 166.2 202 167.8 196 174.3 183 184 169.4 195.9 160 207 152.7Z"/>
<path fill="#2ac3a9" d="M241.5 145 245 144.3 256 150.7 265 158.7 272.7 169 276.7 179 280.7 196 280.5 202 279 204.7 277 206.2 277 208 170.9 208 170.3 200 175.5 186 185 172 194.9 164 208.4 155Z"/>
<path fill="#2dc4a5" d="M240.9 149 245 148.7 255 153.7 263.1 160 271.6 170 275.4 179 279.3 196 279.3 201 277 203.6 276.9 208 176.9 208 174.9 205 174.2 201 178.1 187 187 173.8 196 166.7 210 157.3Z"/>
<path fill="#30c5a2" d="M240.2 153 244 152.5 253 156.1 262 162.1 270.4 171 274.4 180 277.9 196 276.9 208 181 208 181 204.2 179 202.7 178.3 200 180.8 188 189 175.8 211 160.1Z"/>
<path fill="#32c69e" d="M239 157 240 156.1 245 156 249 158 251 158 260 163 269.9 172 273.9 181 275 190 276.9 195 276.8 208 181.1 208 181 201 182 200 182.1 194 183 193 183 189 188.1 181 195 174.1 213 162.1 222 161 223 160.1 229 159 230 158.1 233 158 234 157.1Z"/>
<path fill="#35c79a" d="M239.4 157 241 156.3 245 156.3 253 159.2 260 163.2 269.7 172 273.7 181 274.9 190 276.7 195 276.8 208 181.2 208 181.2 201 182.1 200 183.2 189 188.3 181 194 175.2 213 162.3 222 161.1 234 157.3Z"/>
<path fill="#38c896" d="M239.8 157 245 156.5 253 159.4 260 163.4 269.5 172 273.6 181 274.8 190 276.6 195 276.7 208 181.2 208 181.3 201 182.2 200 183.4 189 189.3 180 194 175.4 213 162.5 222 161.3 234 157.6Z"/>
<path fill="#3cc992" d="M240.3 157 244 156.5 253 159.6 260 163.6 269.3 172 273.4 181 274.7 190 276.4 195 276.7 208 181.3 208 181.4 201 182.3 200 183.5 189 189.5 180 194 175.6 213 162.7 222 161.4 234 157.8Z"/>
<path fill="#3fca8e" d="M240.9 157 244 156.7 253 159.8 260 163.8 269.1 172 273.2 181 274.6 190 276.5 196 276.6 208 181.4 208 181.5 201 182.5 200 183.7 189 189.7 180 193 176.6 213 163 222 161.6 231 158.7Z"/>
<path fill="#44cb89" d="M241.9 157 244 156.9 253 159.9 260 163.9 269 172.2 273 181 274.5 190 276.4 196 276.5 208 181.4 208 181.6 201 182.6 200 183.8 189 189.8 180 193 176.8 213 163.2Z"/>
<path fill="#49cb85" d="M236.7 158 244 157.1 252.7 160 261 165 268.6 172 273 181.5 276.2 196 276.5 208 181.5 208 181.7 201 182.7 200 184 189 192 177.8 211.5 164Z"/>
<path fill="#4fcc80" d="M238.7 158 244 157.5 252.1 160 260.6 165 268.3 172 272 179 276.1 196 276.4 208 181.5 208 181.7 202 182.8 200 184.3 189 192 177.9 211.9 164Z"/>
<path fill="#55cc7c" d="M241.4 158 244.6 158 253.2 161 260.2 165 268.1 172 272 179.6 276 196 276.4 208 181.6 208 181.8 202 182.9 200 184.6 189 192 178.2 213 164Z"/>
<path fill="#5bcc77" d="M238 159 244 158.4 252 160.9 260 165.3 268 172.5 271.9 180 273 184.1 275.8 196 276.3 208 181.7 208 181.9 202 183.1 200 184.9 189 192 178.6 213 164.5Z"/>
<path fill="#61cd71" d="M242.3 159 251 161 258.6 165 267.8 173 271.5 180 273 185.2 275.5 196 276.3 208 181.7 208 182 201.8 183.5 200 185.3 189 192 179 213 165Z"/>
<path fill="#67cd6c" d="M240.5 160 244 159.8 251.4 162 259.1 166 267.2 173 271.1 180 273 186.5 275.3 196 276.2 208 181.8 208 182 202.4 183.7 201 185.9 189 192.8 179 213 165.8Z"/>
<path fill="#6dcd67" d="M239.6 161 244 160.7 251 162.7 259 166.8 267 173.8 271 181 272 184.2 275 195.5 276.2 208 181.9 208 182 203.4 184.3 201 186.2 190 193 179.5 203.8 172 213 166.7Z"/>
<path fill="#74cc62" d="M239.8 162 244 161.7 251.5 164 258 167.1 266.2 174 270 180.2 272 185.7 274.8 196 275.1 201 276 202.2 276.1 208 181.9 208 182 204.8 184 203.2 185 201 186.9 190 193.4 180 205 172.1 214 167.3Z"/>
<path fill="#7bcc5d" d="M241.2 163 244 162.9 249 164.2 257 167.6 265.9 175 269.7 181 271.9 187 274.4 196 274.6 201 276 203.4 276.1 208 182 208 185.3 203 187.7 190 194 180.4 205 173 214 168.5Z"/>
<path fill="#82cc58" d="M236.2 165 243 164.1 249 165.5 257 168.8 264.6 175 268.8 181 271 186 274 196 274.3 202 276 208 185.1 208 188.3 191 194.6 181 205.2 174 214 169.9Z"/>
<path fill="#88cb53" d="M240.3 166 245 166 256 169.7 263 175 266 178.3 270.7 187 273.5 196 273.4 203 272.2 208 188.3 208 187.6 200 188.5 194 189.9 190 195 181.8 206 174.8 215 171Z"/>
<path fill="#8fcb4e" d="M237.8 168 244 167.5 255 170.8 265 178.8 270 187 273 196 271.9 208 192 208 189 202.7 189 197 190.6 191 195.2 183 206 176.1 215 172.7Z"/>
<path fill="#96ca49" d="M236.9 170 244 169.4 255 172.4 264.5 180 269.6 188 272.4 196 271.9 208 192.1 208 192 203.7 189.9 201 190.3 196 192 191.1 196 183.8 207.3 177 217 173.9Z"/>
<path fill="#9cc944" d="M237.8 172 244 171.5 254 173.9 263.6 181 268.7 188 271.7 196 271.8 208 192.2 208 192 201.5 191.1 200 191.6 196 197 184.6 208 178.3Z"/>
<path fill="#a3c83f" d="M240.1 174 244 173.2 254 175.3 263.9 183 268.6 189 270.6 194 271 200 271.7 201 271.7 208 192.2 208 192.5 197 195.2 190 198 185.2 209 179.3 232 175 233 174.2Z"/>
<path fill="#a9c73a" d="M242.5 174 254 176 263.5 183 268.2 189 270.6 195 271.7 208 192.3 208 192.4 201 193.5 195 198 185.8 210 179.6 234 174.7Z"/>
<path fill="#afc636" d="M235.2 175 244 174.2 253 176 262 181.8 267.3 188 270.4 195 271.6 208 192.4 208 192.5 202 193.6 196 198.5 186 209 180.3Z"/>
<path fill="#b5c533" d="M238.3 175 244 174.6 253 176.3 262 182.2 267 188 270.1 195 270.4 200 271.4 202 271.5 208 192.5 208 192.7 202 193.9 196 198 187 199 186.1 209 180.6Z"/>
<path fill="#bbc42f" d="M241.8 175 254 177 262.5 183 267.4 189 270 195.4 270.2 200 271.3 202 271.5 208 192.6 208 192.8 202 194.4 196 199 186.6 209 180.9 232.4 176Z"/>
<path fill="#c1c32c" d="M235.5 176 244 175.3 253 177 262 182.8 267.2 189 270 196 270 200 271.2 202 271.4 208 192.6 208 193 202 194 200.7 194.8 196 199.2 187 209 181.3Z"/>
<path fill="#c7c12a" d="M239.7 176 244 175.7 253 177.4 262 183.2 266.9 189 269 194.1 269.8 200 271.1 202 271.3 208 192.7 208 193 202.6 194.4 201 195.3 196 200 187.1 209 181.7 219.9 179Z"/>
<path fill="#ccc028" d="M233.8 177 244 176.1 253 177.8 261.4 183 266.6 189 268 192.3 269.4 196 269.8 201 271 202.1 271.3 208 192.8 208 193 203.5 195 201 196.2 195 200 187.7 209 182.1 217 179.9Z"/>
<path fill="#d2bf27" d="M238.4 177 244 176.6 253 178.2 261 183.1 267 190.5 269.1 196 269.4 201 271 202.8 271.2 208 192.9 208 193 204.6 195.2 202 196 197 198 191.9 200 188.5 204.9 185 209 182.6 217 180.2Z"/>
<path fill="#d7be28" d="M233.1 178 243 177 247 177.4 253 178.7 260.4 183 266.5 190 268.8 196 269 201 271 203.8 271.1 208 192.9 208 193 206.2 195.9 202 197.6 194 201 188.4 210 182.8 218 180.4Z"/>
<path fill="#dcbd29" d="M237.9 178 244 177.5 252 178.9 258 181.7 261 183.9 266.2 190 268.4 196 269 202.3 271 205.3 271.1 208 193.6 208 196 204 197.1 197 199 192.2 201.1 189 206.7 185 217 181Z"/>
<path fill="#e1bc2b" d="M232.9 179 246 178.2 253 179.7 259.3 183 265.8 190 268.1 196 269 204.6 270.6 208 196 208 198 196 202 189.1 209 184.3 217 181.4Z"/>
<path fill="#e5bb2d" d="M238.1 179 245 178.6 252 179.8 258 182.5 261 184.9 265 189.2 267.7 196 267.7 208 198 208 197.8 200 199.3 194 201.9 190 207 186 218 181.6Z"/>
<path fill="#eabb30" d="M233.2 180 246 179.2 253 180.7 257 182.3 260 184.5 265 189.8 267.4 196 267.6 201 266 208 200 208 198.6 203 198.7 198 199.9 194 202.9 190 208 186 217 182.2Z"/>
<path fill="#eeba34" d="M239 180 246 179.7 252 180.9 258 183.3 264 189 267.2 197 265.9 208 202 208 199.2 202 199.6 197 200.6 194 202.7 191 207.5 187 218 182.4Z"/>
<path fill="#f2ba38" d="M233.9 181 246 180.2 257 183.1 259.4 185 264.4 190 266.7 196 266.9 200 266 202.4 265.9 208 202.1 208 202 204.9 199.7 201 200.2 197 203 191.7 207.2 188 218 182.8Z"/>
<path fill="#f6ba3b" d="M240.5 181 246 180.8 257 183.5 263.1 189 266.3 196 265.8 208 202.2 208 202 203.4 200.3 200 201.4 195 204 191.6 209 187.3 218 183.3Z"/>
<path fill="#f9bb3d" d="M235.5 182 246 181.3 256 183.6 258.2 185 263.5 190 265.9 196 265.7 208 202.2 208 202 202.1 201 200 202 195.2 209 188 218 183.7Z"/>
<path fill="#fcbc3d" d="M242.8 182 246 181.9 256 184.1 263.1 190 265.6 196 265.7 208 202.3 208 201.6 200 202.4 196 210 188.1 219 184Z"/>
<path fill="#febe3c" d="M237.9 183 246 182.5 256 184.5 259 186.8 263 190.6 265.2 196 265.6 208 202.3 208 202.2 201 203 196 209.7 189 219 184.5Z"/>
<path fill="#fec13a" d="M233 184 246 183 257 185.5 262.9 191 264.5 195 265.5 208 202.4 208 202.4 201 203.6 196 210 189.3 219 184.9Z"/>
<path fill="#fec438" d="M236 184 246 183.4 257 185.9 262.5 191 264.1 195 265.3 201 265.5 208 202.5 208 202.7 201 204.1 196 210 189.8 219 185.3Z"/>
<path fill="#fec636" d="M240.5 184 246 183.8 256 185.7 262 190.9 265.1 201 265.4 208 202.5 208 202.7 202 204.6 196 210.4 190 219 185.6Z"/>
<path fill="#fec934" d="M231.5 185 246 184.2 256 186.2 262 192 263.5 196 263.9 200 265 201.3 265.4 208 202.6 208 202.8 202 204.1 200 204.7 197 211 190 219 185.9Z"/>
<path fill="#fdcc32" d="M237.4 185 246 184.7 256 186.9 261.5 192 263 196 263.7 201 265 201.9 265.3 208 202.7 208 203 202 204.3 201 205.2 197 211 190.4 219 186.4Z"/>
<path fill="#fccf31" d="M228 186 246 185.2 256 187.6 261 192.3 262.4 196 263.1 201 265 202.7 265.2 208 202.7 208 203 202.7 204.9 201 205.7 197 210.9 191 219 186.8Z"/>
<path fill="#fbd22f" d="M235.6 186 246 185.8 255.6 188 260.7 193 262.1 197 262.5 201 265 203.6 265.2 208 202.8 208 203 203.6 205.1 202 206.4 197 211.7 191 219 187.3Z"/>
<path fill="#fad52e" d="M225.4 187 245 186.3 255 188.3 260.1 193 262.2 202 265 204.8 265.1 208 202.9 208 203 204.8 205.2 203 207 197.1 211.2 192 219 187.9Z"/>
<path fill="#f9d72c" d="M234.7 187 246 186.9 255 189.1 259.4 193 260.9 197 261.8 203 265 206.4 265 208 202.9 208 203 206.4 206.2 203 207.2 198 212 191.9 220 188.1Z"/>
<path fill="#f8da2b" d="M223.9 188 241 187.3 254 189.3 259 193.7 261.4 204 264.2 208 203.8 208 206.6 204 207.8 198 212 192.5 219 189Z"/>
<path fill="#f6dd29" d="M234.9 188 246 188.2 254 190 255.5 191 258.9 195 261.8 208 206.2 208 208.6 198 213 192.4 220 189.2Z"/>
<path fill="#f6e028" d="M223.7 189 241 188.4 254 190.8 257.7 194 258.9 197 259.9 208 208.1 208 208.9 199 212 194 219.4 190Z"/>
<path fill="#f5e327" d="M236.5 189 246 189.5 253 191.1 255.9 193 257.4 195 258.6 199 258.1 208 209.9 208 209.5 199 213 193.7 223 189.7Z"/>
<path fill="#f5e626" d="M223.9 190 240 189.5 254 192.4 256.7 195 257.9 199 257.7 203 256 208 212 208 210.5 204 210 200 212.5 195 215 193.1Z"/>
<path fill="#f5e924" d="M222 191 240 190 253 192.6 256.3 196 257.3 200 256.8 203 254 208 214 208 211.2 203 211 199 214 194.3Z"/>
<path fill="#f5ec22" d="M224.4 191 240 190.6 254 194 255.6 196 256.6 200 256 202.7 254 205.2 253.9 208 214.1 208 214 205.2 211.5 201 213.2 196 215 194.3Z"/>
<path fill="#f5ef21" d="M222.7 192 240 191.3 253 194.2 254.8 196 255.9 200 254 203.6 253.7 208 214.3 208 214 203.6 212.6 202 212.2 200 213.9 196 215 194.9Z"/>
<path fill="#f6f11e" d="M226.7 192 240 191.9 253 195 254 196.1 255.2 200 254 202.3 253.6 208 214.4 208 214 202.3 212.9 200 214.6 196 221 193.1Z"/>
<path fill="#f7f41c" d="M223.3 193 240 192.5 252 195.4 253.1 196 254.5 200 253.5 208 214.5 208 213.6 200 215 196.5Z"/>
<path fill="#f8f719" d="M222.3 194 225 193.2 239 193.1 252 196.2 253.7 200 253.4 208 214.6 208 214.3 200 215.4 197Z"/>
<path fill="#f9fa16" d="M224 194 240 194 252 197 253.2 201 253.3 208 214.7 208 214.8 201 216 197Z"/>
<path fill="#f9fb15" d="M223.1 197 226 196.2 239 196.2 249.8 199 251 201.4 253 202.5 253.2 208 214.8 208 215 202.5 217 201.4 218 199Z"/>
<path fill="#f9fb15" d="M224.9 199 239 198.7 247.6 201 250 204 253 205 253 208 215 208 215 205 218 204 220 200.9Z"/>
<path fill="none" stroke="#2f4fe6" stroke-width="1.05" d="M140 190 150 176 158.5 171.6 167.6 158 176.7 149 188 140 199 134 210.7 127.4 222 122 230 110 236 103 245 99 251 98.5 256 104 262 112 268 120 272.6 127.7 277.5 140 281.7 150.5 283.8 161 284.8 171.6 288 182 291 190.6 292 196 292 200M182 200 182.6 195.8 183.7 188.5 191 178 199.5 171.6 212 163 222.7 161 233 158 243.7 156.4 252 159 260.6 164 269 171.6 273 180 275 190.6 276.4 196 276.5 200M192.5 200 193 196 197.4 186 208 180 222.7 176.9 233 174.8 243.7 173.7 254 175.8 262.7 182 268 188.5 271 196 271 200M203 200 203.7 196 210 189.5 218.5 185 233 184 245.8 183 256.4 185 262.7 190.6 264.8 196 265 200M215 200 216 197 224.8 193.7 239.5 193.7 252 197 253 200"/>
<path fill="none" stroke="#2249f5" stroke-width="1.2" d="M153 10.6 L255 3.4 L308 3.2M267.8 9.3h7.6M270.3 11.6h5.4M270.1 13.9h5.2M269 16.3h13.4M270.3 18.2h5.2M270.3 20.6h13.6M266.8 23.6h13M269.5 24.8h9.8M267.6 27h8M268.8 32.6h10.2M266.5 34.3h10.1M270 37.1h5.5M266.9 40.5h9.1M275.3 45.9h5.2M269.2 48h5.1M269 49.8h8.5M269.8 52.4h13.8M282.5 43.1h12.2M285.3 45.3h11.5M280 47.3h12.9M289.3 52.6h5.1M281.5 57.7h11.7M284.1 60.5h13M282.9 63.5h8.8M280.3 64.8h13.9M285.6 72.7h12.2M288.5 74.8h5.5M285.5 78h11.3M287 80.7h5.9M282.6 82.8h11.2M284.2 88.5h9.3M283.9 90.2h5.3M282.8 92.6h11.2M282.3 95.4h12.3M299.6 5.4h5.5M296.2 8.7h11.5M300.5 9.9h5.2M294.4 14.5h8.3M292.3 16.3h13.8M296.8 17.9h13.1M292.7 20h13.4M295.7 22.6h12.3M293 25.9h12M295.2 27.5h11.1M297 30.1h7.3M299.7 31.6h9.1M299.7 33.6h11.4M295.4 36h7.4M298.2 38.3h14M299.9 40.3h10.3M294.8 42.6h13M294.4 48h10.9M296.5 60.7h9.1M300.2 74.3h8.7M295.1 76.6h11.7M294.4 78.5h11.5M298.3 80.2h8.4M294.3 81.9h10.2M295.1 83.5h8.9M300.1 87.8h9.5M296.3 94.2h8.1M292.8 97.5h12.4M295.9 102.5h11.7M295.6 106.4h14M301.3 108.7h6.5M275.9 44.6h9.7M264.9 34.5h11.6M276.3 40.2h5.7M266.2 18.1h12.5M265.2 26.2h5.7M268.8 36.5h7.3M267.9 26.4h9.4M275.6 24h5.8M261.1 45.3h13.2M268.8 21.6h12.1M281.6 33h5.9M266.9 39.6h7.4M167.1 156.2h5.3M170.7 150.6h6.1M169.8 147.7h15.7M174.3 146h15.9M181.6 144.4h7M187.9 137h12.9M194.9 134.1h12.3M200.7 130.9h9.4M216.3 121.1h8M220.7 120.4h8M223.4 110h10.5M228.7 107.6h5.5M225 102h15.1M230.6 101h14.9M251.2 103.6h14M257.3 112h17.9M269.7 136.4h17.3M270.7 139.9h10.3M272.5 142.6h12.9M274.2 165h13M278.4 170.2h12M282.7 176h10.6M278.2 178.8h14.3M174 118 181 117.5 189 117 197 116.5M203 110 209 107 215 110 222 107.5 229 105.5 236 103.5M157 137 163 139M155 152 161 152M171.4 119.3h11.1M179.6 117.4h6.8M184.4 116.1h9.2M188.4 116.7h13.1M200.7 107.8h10.9M207.2 109.4h10.4M215.1 107.9h7.6M221.2 106.5h8.6M227.4 104.6h9.6M155.4 139.1h10.8M153.1 152.3h11.9M176 118H215M182 121H205M205 104H250M212 108H245M225 99H255M160 150H185M165 145H195M170 141H200M185 131H215"/>
<g fill="none" stroke="#2249f5" stroke-width="1"><ellipse cx="186" cy="16" rx="10" ry="4"/><ellipse cx="209" cy="18" rx="6" ry="2.5"/></g>
<path d="M155 195.2H182" stroke="#1433e8" stroke-width="1.6" fill="none"/>
<text class="n" x="156.5" y="196.5">60</text>
<g class="n"><text transform="translate(158.6 172.5) rotate(-40)">20</text><text transform="translate(165.6 168.1) rotate(-72)">20</text><text transform="translate(166.4 173.1) rotate(15)">20</text><text transform="translate(169.3 159.2) rotate(-60)">20</text><text transform="translate(167.1 154.2) rotate(-29)">20</text><text transform="translate(168.2 164.2) rotate(11)">20</text><text transform="translate(175.2 155.3) rotate(-59)">20</text><text x="176.8" y="160.3">20</text><text transform="translate(178.2 149.3) rotate(-33)">20</text><text x="178.3" y="154.3">20</text><text transform="translate(184.4 145.9) rotate(-55)">20</text><text transform="translate(187 140.9) rotate(19)">20</text><text transform="translate(191.5 142.5) rotate(-50)">20</text><text x="191.7" y="137.5">20</text><text transform="translate(193.3 147.5) rotate(-30)">20</text><text transform="translate(193.3 139.5) rotate(-23)">20</text><text transform="translate(194.2 134.5) rotate(19)">20</text><text transform="translate(200.9 135.7) rotate(-40)">20</text><text transform="translate(199.4 140.7) rotate(4)">20</text><text transform="translate(205.1 129.9) rotate(-8)">20</text><text transform="translate(205.9 124.9) rotate(-16)">20</text><text x="207.2" y="134.9">20</text><text transform="translate(213.1 127.9) rotate(-31)">20</text><text x="213" y="122.9">20</text><text transform="translate(213.5 132.9) rotate(3)">20</text><text transform="translate(217.7 124.9) rotate(-22)">20</text><text transform="translate(220.1 119.9) rotate(25)">20</text><text transform="translate(222.9 122.4) rotate(-38)">20</text><text transform="translate(221.6 117.4) rotate(11)">20</text><text x="225" y="127.4">20</text><text transform="translate(231.8 116.7) rotate(-70)">20</text><text transform="translate(230.3 111.7) rotate(26)">20</text><text transform="translate(242.9 99.3) rotate(10)">20</text><text transform="translate(240.2 104.3) rotate(-3)">20</text><text transform="translate(247 98.9) rotate(26)">20</text><text x="245.8" y="103.9">20</text><text transform="translate(259.8 114.4) rotate(62)">20</text><text transform="translate(265.3 120.3) rotate(58)">20</text><text transform="translate(263.4 115.3) rotate(14)">20</text><text transform="translate(271 124.1) rotate(82)">20</text><text transform="translate(271.6 134.5) rotate(53)">20</text><text transform="translate(269.2 139.5) rotate(-15)">20</text><text transform="translate(275.3 145.1) rotate(66)">20</text><text transform="translate(277 140.1) rotate(13)">20</text><text transform="translate(278 152.4) rotate(56)">20</text><text transform="translate(280.9 158.6) rotate(85)">20</text><text transform="translate(283.3 153.6) rotate(-16)">20</text><text transform="translate(282.8 164.9) rotate(85)">20</text><text transform="translate(280.8 172.8) rotate(56)">20</text><text transform="translate(278.2 167.8) rotate(-12)">20</text><text transform="translate(280.4 177.8) rotate(26)">20</text><text transform="translate(285.2 179.7) rotate(73)">20</text><text transform="translate(287.4 185.6) rotate(73)">20</text><text transform="translate(185.6 193.4) rotate(-81)">40</text><text transform="translate(196.3 177.3) rotate(-37)">40</text><text transform="translate(213.3 165.4) rotate(-11)">40</text><text transform="translate(234.6 160.4) rotate(-9)">40</text><text transform="translate(253.9 163.1) rotate(30)">40</text><text transform="translate(268.6 176.8) rotate(65)">40</text><text transform="translate(196.6 194.2) rotate(-66)">60</text><text transform="translate(210.5 182.1) rotate(-12)">60</text><text transform="translate(231.7 177.5) rotate(-6)">60</text><text transform="translate(251.8 177.4) rotate(35)">60</text><text transform="translate(208.4 194.9) rotate(-46)">80</text><text transform="translate(228 186.9) rotate(-4)">80</text><text transform="translate(251.2 186.7) rotate(11)">80</text><text transform="translate(273.7 7.5) rotate(-59)">0</text><text transform="translate(274.3 12) rotate(-55)">0</text><text transform="translate(274.3 16.5) rotate(-54)">0</text><text transform="translate(273 25.5) rotate(-60)">0</text><text transform="translate(274.5 30) rotate(-69)">0</text><text transform="translate(273.2 34.5) rotate(-56)">0</text><text x="274.2" y="39">0</text><text transform="translate(273.8 43.5) rotate(-51)">0</text><text transform="translate(273.4 48) rotate(-54)">0</text><text x="274.7" y="52.5">0</text><text transform="translate(290.6 45.5) rotate(-67)">0</text><text transform="translate(289.8 55.5) rotate(-71)">0</text><text transform="translate(289 75.5) rotate(-67)">0</text><text transform="translate(289.4 80.5) rotate(-64)">0</text><text x="290.3" y="90.5">0</text><text transform="translate(289.6 95.5) rotate(-55)">0</text><text x="300.6" y="8.5">0</text><text transform="translate(301.7 12.5) rotate(-54)">0</text><text transform="translate(301.5 16.5) rotate(-59)">0</text><text transform="translate(301.2 20.5) rotate(-67)">0</text><text transform="translate(302.5 24.5) rotate(-67)">0</text><text transform="translate(302.7 28.5) rotate(-67)">0</text><text transform="translate(300.6 32.5) rotate(-61)">0</text><text transform="translate(300.9 36.5) rotate(-68)">0</text><text x="302.3" y="40.5">0</text><text transform="translate(302.5 44.5) rotate(-53)">0</text><text transform="translate(301 48.5) rotate(-66)">0</text><text x="301.2" y="52.5">0</text><text x="302.1" y="56.5">0</text><text transform="translate(302.6 60.5) rotate(-53)">0</text><text x="300.9" y="64.5">0</text><text transform="translate(302.5 68.5) rotate(-72)">0</text><text transform="translate(302 72.5) rotate(-64)">0</text><text transform="translate(301.5 76.5) rotate(-65)">0</text><text transform="translate(300.4 80.5) rotate(-73)">0</text><text transform="translate(301.7 84.5) rotate(-74)">0</text><text x="302" y="88.5">0</text><text transform="translate(301.6 92.5) rotate(-51)">0</text><text transform="translate(301.3 96.5) rotate(-56)">0</text><text transform="translate(300.4 100.5) rotate(-58)">0</text><text transform="translate(301.3 104.5) rotate(-67)">0</text><text transform="translate(302 108.5) rotate(-61)">0</text><text transform="translate(278.7 37.4) rotate(-64)">0</text><text transform="translate(272.2 17.8) rotate(-68)">0</text><text x="268.3" y="40.3">0</text><text transform="translate(273.4 21.2) rotate(-74)">0</text><text transform="translate(273.3 12.7) rotate(-68)">0</text><text transform="translate(273.4 59.1) rotate(-59)">0</text><text transform="translate(162.5 14.5) rotate(-63)">0</text><text transform="translate(172.5 16.5) rotate(-51)">0</text><text transform="translate(181.5 10.5) rotate(-45)">0</text><text transform="translate(184.5 17.5) rotate(-51)">0</text><text transform="translate(187.5 21.5) rotate(-50)">0</text><text transform="translate(202.5 14.5) rotate(-74)">0</text><text transform="translate(214.5 10.5) rotate(-61)">0</text><text x="209" y="21.5">20</text><text transform="translate(240.5 12.5) rotate(-63)">0</text><text transform="translate(240.5 18.5) rotate(-58)">0</text><text transform="translate(248.5 10.5) rotate(-45)">0</text><text transform="translate(173.3 120.7) rotate(-4)">20</text><text transform="translate(179.2 120.2) rotate(-4)">20</text><text transform="translate(185.2 119.8) rotate(-4)">20</text><text transform="translate(191.2 119.5) rotate(-4)">20</text><text transform="translate(203.8 112.5) rotate(-27)">20</text><text transform="translate(207.7 109.3) rotate(27)">20</text><text transform="translate(216 112.4) rotate(-20)">20</text><text transform="translate(222.5 110.1) rotate(-16)">20</text><text transform="translate(229.2 108.1) rotate(-16)">20</text><text transform="translate(156.3 139.5) rotate(18)">20</text><text x="155.1" y="154.6">20</text></g>
<text x="281.8" y="180.9" class="l">(b)</text>
</g>
<text x="160.0" y="38.2" class="t">c0e5</text>
<text x="262" y="37.8" class="s">1<tspan dx="7.3">cm</tspan></text>
<rect x="266" y="41.8" width="38.5" height="2" fill="#fff"/>
<clipPath id="cc"><rect x="309" y="2.9" width="152" height="193.4"/></clipPath>
<g clip-path="url(#cc)">
<rect x="297" y="-9" width="176" height="217" fill="#3479fd"/>
<path fill="#317dfb" d="M408.1 -3 473 -3.3 473 208 297 208 297 5.1Z"/>
<path fill="#2f80fa" d="M404.6 -1 473 -1.5 473 208 297 208 297 6.9Z"/>
<path fill="#2e83f9" d="M401.2 1 412 0.2 473 0.2 473 208 297 208 297 8.6Z"/>
<path fill="#2e85f8" d="M411.6 2 473 2 473 208 297 208 297 10.1Z"/>
<path fill="#2d88f6" d="M403.8 3 412 2.4 473 2.4 473 208 297 208 297 10.7Z"/>
<path fill="#2d8af4" d="M409.7 3 473 2.9 473 208 297 208 297 11.2Z"/>
<path fill="#2d8df2" d="M401.9 4 412 3.3 473 3.4 473 208 297 208 297 11.7Z"/>
<path fill="#2c8ff1" d="M407.8 4 473 4 473 208 297 208 297 12.1Z"/>
<path fill="#2b91ef" d="M399.9 5 412 4.1 453 4.1 458.3 5 458.7 65 460.3 103 461 104.1 473 105.8 473 208 297 208 297 12.5Z"/>
<path fill="#2994ed" d="M405.8 5 455.7 5 456.1 65 457.8 103 461 108.4 473 110.2 473 208 297 208 297 12.9Z"/>
<path fill="#2896eb" d="M411.9 5 453 5 453.4 66 455.3 103 461 112.5 473 114.5 473 208 297 208 297 13.6Z"/>
<path fill="#2698ea" d="M400.2 7 412 6.2 447 6.2 449.7 7 450.2 66 452.7 103 456.4 110 461 116.5 473 118.7 473 208 297 208 297 14.5 328 12.7 331 13.1 333 15.3 337 16.4 340 15 339.4 13 340.5 12 344 11.3Z"/>
<path fill="#269be8" d="M402.5 8 412 7.3 444 7.3 446.4 8 447 67 449.7 103 456 114 461 120.5 473 122.8 473 208 297 208 297 15.7 325 14 328 14.4 334 17.2 338 17.6 340.5 17 344.3 13 348 12.1Z"/>
<path fill="#259de7" d="M404.7 9 412 8.5 443 9 443.7 68 446.6 103 454.2 116 461 124.4 473 126.9 473 208 297 208 297 16.9 324 15.2 328 15.9 333 18 338 18.5 342 17.7 346 14.2 350 13.1Z"/>
<path fill="#249fe5" d="M407 10 437.4 10 438.6 67 440.1 82 443.6 103 449.9 115 460 127.4 462 128.7 473 130.9 473 208 297 208 297 18 323 16.3 327 16.8 333 19.2 339 19.5 344.9 18 348 14.9 356 13.3Z"/>
<path fill="#22a1e4" d="M357 14 365 13.3 373.6 14 379 18 382 18.6 431 18.7 431.7 23 432.2 52 433.5 72 435.3 85 439.3 103 448.2 118 458 129.7 461 132.3 473 135 473 208 297 208 297 19.9 300 19 317 19 331 21.6 342 21.7 349 20.1 352.2 15Z"/>
<path fill="#21a3e3" d="M361.7 14 366.5 14 369 14.8 370.7 16 370.8 18 368 19.9 363 20.7 358 19.9 355.2 18 355.4 16 356.6 15ZM353.8 49 378 48.1 426 48.7 429.2 81 435 103.4 447 122 456 132.2 461 136.3 473 139.1 473 208 297 208 297 51Z"/>
<path fill="#1fa5e2" d="M360 15 366 15 368.7 17 368.3 18 366 19.2 360 19.2 357.7 18 357.3 17ZM369.3 71 378 70.2 409 70.3 425 72.7 426.1 91 430.3 103 437 114.4 448 128.8 458 138.3 462 140.8 473 143.1 473 208 297 208 297 82.4 320 80.7 350 74.2Z"/>
<path fill="#1ea7e1" d="M360.4 16 364 15.6 366.6 17 365 18.3 362 18.5 359.4 17ZM377.5 84 392 84.6 410 84.2 417 86.1 425 90.3 426 103.4 434 117 445.1 131 451 137.3 459.3 144 464 145.7 473 147.2 473 208 297 208 297 112 336 103.3 347.8 94 354 90.3 359 88.4Z"/>
<path fill="#1ca9df" d="M376.6 93 392 93.5 407 92.7 413 94.5 425 103 426 111.8 428 115 439 130 451.9 144 456 147.2 461 149.5 473 151.4 473 208 297 208 297 139.7 309 133.7 324 124.2 349.2 114 355.6 103 359 99.3 363 97.2Z"/>
<path fill="#1aabdd" d="M378.1 99 392 99.7 408 99.1 420.7 109 425 114.2 426 118.8 428.2 122 448 147.7 454.8 153 459 160.4 464 166.5 469 170.7 473 172.9 473 208 297 208 297 163.1 311.7 153 330 133.6 339 128.2 356.8 120 362.4 106 364 104.1Z"/>
<path fill="#18addb" d="M378 104 379 103.1 392 104.1 407 103.2 417.9 113 441.9 147 442 149 443.9 152 444 155 445 156 445 160 446 161 446 165 447 166 447 169 448 170 448 173 449 174 449 177 452 183 452 185 454 188 455 193 456 194 457 208 299 208 299 186 306.1 175 309 172 309.1 171 320 160 329.1 146 336 138 343 133.1 349 130.2 351 130 355 127.1 362 124 362.2 121 366 111 366.1 109 370 106.2Z"/>
<path fill="#15afd9" d="M378.6 104 392 104.5 406 103.5 416 111.6 419.4 116 435.4 138 442.5 150 444.5 156 445.8 165 446.6 166 448.8 177 455.6 194 455.8 200 456.8 201 456.9 208 299.1 208 299.3 186 307.4 174 321.1 159 327.6 149 335 139.4 343 133.7 351 130.3 362 124.3 366.7 109 368 107.6Z"/>
<path fill="#12b1d7" d="M405.9 104 416 112.3 435 138.1 441.3 148 443.3 153 448.6 177 455.4 195 456.8 208 299.2 208 299.6 186 308.7 173 321.5 159 335 139.7 343.4 134 362 124.6 368 108.2 380 104.1 392 104.9Z"/>
<path fill="#0eb2d4" d="M378.5 105 392 105.6 406 104.6 416 113 423 122.2 440 146.1 443 153.1 448.3 177 455.1 195 455.3 200 456.5 202 456.7 208 299.2 208 299.8 186 309 173 321.8 159 335.2 140 342.4 135 362 125 362.9 124 367.9 109Z"/>
<path fill="#09b4d1" d="M378.3 106 392 106.3 406 105.5 415.1 113 423 123.1 436 140.8 440 146.9 442 151.6 448.4 178 455 195.6 456.6 208 299.3 208 300 186.2 310 172.4 321 160.7 335.9 140 343 135.3 363 125 368.4 110Z"/>
<path fill="#06b5ce" d="M378.8 107 406 106.8 414.8 114 422 123 436 141.8 439.4 147 442 152.9 448.3 179 454.6 196 454.7 200 456.2 202 456.5 208 299.4 208 300 186.9 301.5 186 310.2 173 321.6 161 336.1 141 343.3 136 363 126 364.4 124 369.2 111Z"/>
<path fill="#03b7cc" d="M400.1 108 405 107.7 414 114.8 427 130.9 439 147.5 442 154.5 447.8 179 454.1 196 454.5 201 456 202 456.4 208 299.4 208 300 187.8 302 186.6 311 173 322.4 161 337 141.3 344 136.7 364 126.5 371 111.3 380 108 392 108.6Z"/>
<path fill="#01b8c9" d="M379.2 110 405 109.5 413 115.7 425 129.8 438 147.3 441.1 154 447.2 179 453.4 196 453.7 201 456 202.8 456.3 208 299.5 208 300 188.9 302.9 187 311.2 174 322.7 162 337.8 142 345 137.4 365 127.2 371.7 113Z"/>
<path fill="#01bac6" d="M402.9 111 404.1 111 412 116.9 425 131.6 438 149 440.6 155 446.6 179 452.6 196 452.9 201 454 202.8 456 203.9 456.2 208 299.6 208 300 190.2 303.5 188 312 174.5 323.9 162 338.6 143 345 138.8 366 128.1 374 113.8 381 111.6 392 111.8Z"/>
<path fill="#03bbc3" d="M401.5 113 404 113.3 411 118.4 423 131.1 436.8 149 439.7 155 446.2 180 451.1 194 452.3 202 454 204.3 456 205.3 456.1 208 299.7 208 300 191.9 304 189.5 312.9 175 324.6 163 332.6 152 339.6 144 346 139.9 367 129.3 369.1 127 374.8 116 376 115.3 381 113.7Z"/>
<path fill="#07bcbf" d="M391.3 116 402 115.1 408.8 119 422 132.2 435.5 149 439 156.1 445.3 180 450.7 196 451.3 202 452.9 205 456 207.1 456 208 299.7 208 300 194 305 190.5 313.6 176 325.3 164 333.6 153 340 145.9 347 141.2 368 130.7 370.7 128 377 117.5 381 116.1Z"/>
<path fill="#0cbdbc" d="M395.4 118 402 117.6 407.6 121 421 133.4 434.7 150 438.8 159 444.4 180 449.1 194 450.4 203 453.6 208 299.8 208 300 196.6 305.9 192 315 176.2 326.2 165 335 153.6 342 146.4 369.5 132 372.7 129 379 119.6 382 118.6Z"/>
<path fill="#12beb9" d="M392.6 121 401 120.2 406 122.9 420 134.9 433 150 436.9 157 441 170 447.9 194 449.1 203 450.9 208 299.9 208 300 199.9 304 197.1 307 193.7 316 177.2 327.3 166 336 155 343 148.1 371 133.6 375 130 381.1 122Z"/>
<path fill="#18bfb6" d="M391.9 124 400 123 405 125.6 419 136.5 432 151.1 435.9 158 440.2 171 447 195.3 448.6 208 300 208 300 204.7 308 196.1 317.3 178 328.6 167 340 153.6 345 149.2 349 146.8 373 135 377.8 131 383.1 125Z"/>
<path fill="#1dc0b3" d="M393 127 399 126.2 406 129.8 418 138.3 431 152.5 434.8 159 439 171 446 197 446.3 208 303.6 208 310.2 197 318.6 179 330 168 340 156.4 350 148.9 374.7 137 385.4 128Z"/>
<path fill="#23c1af" d="M395.4 130 398 129.7 403 131.6 416 139.5 426.8 150 432 157 437.7 171 443.9 194 444.7 200 443.9 208 309 208 319.4 181 322 177.7 331 169.7 340.3 159 349 152.2 376 139.4 388 131Z"/>
<path fill="#27c2ac" d="M393.3 134 396 133.5 402 134.8 415 141.7 425.1 151 431 158.7 436.7 172 442.6 195 443.1 202 441.1 208 313.7 208 314.7 200 321 181.9 323.3 179 332.5 171 341 161.4 353 153 377.4 142 390 134.6Z"/>
<path fill="#2ac3a9" d="M392.8 138 402 138.5 414 144 424.3 153 430.4 161 435.5 173 441 195 441.3 202 439 206.3 437 208 318.5 208 317.4 204 317.6 200 322.7 183 325 180.1 333.5 173 342 163.7 355 155.1Z"/>
<path fill="#2dc4a5" d="M398.8 142 403 142.4 413 146.4 423 154.8 429.7 163 434 173 439.3 195 439.7 201 437 204.5 436.9 208 325.6 208 322 205.4 320.8 203 320.5 200 325 183.3 335 174.7 344 165.2 356 157.9 372 150.8 393 142.5Z"/>
<path fill="#30c5a2" d="M398.3 146 402 145.6 412 148.9 421.1 156 428.2 164 432.7 174 437.5 195 437.9 200 437 201.8 436.9 208 326.1 208 326 203.4 324 202 323.5 200 327 184.3 336 177 345 167.7 358.8 160 373 153.9 393 146.9Z"/>
<path fill="#32c69e" d="M397 150 398 149.1 405 149.1 406 150 409 150.1 411 151 417 155.1 427.9 166 431.9 175 433 183 433.9 184 434 187 434.9 188 435 192 435.9 193 436 200 436.9 201 436.8 208 326.1 208 326.1 195 327 194 327.1 191 328 190 328.1 186 331 183.1 336 180 347 169 365 160.1 367 160 370 158.1 372 158 375 156.1 377 156 378 155.1 380 155 381 154.1 383 154 384 153.1 386 153 390 151.1Z"/>
<path fill="#35c79a" d="M397.4 150 399 149.3 404 149.2 411 151.2 418 156.3 427.6 166 431.7 175 432.9 183 433.7 184 434.9 192 435.7 193 435.9 200 436.8 201 436.8 208 326.2 208 326.3 196 327.3 191 328.1 190 328.4 186 336 180.2 347 169.2 363 161.3 372 158.1 375 156.3 387 152.3Z"/>
<path fill="#38c896" d="M397.8 150 404 149.4 411 151.4 418 156.5 427.3 166 431.5 175 432.8 183 433.5 184 434.8 192 435.5 193 435.8 200 436.7 201 436.7 208 326.3 208 326.5 196 328.6 186 336.3 180 347 169.4 361 162.4 375 156.5 387 152.6Z"/>
<path fill="#3cc992" d="M398.3 150 404 149.6 411 151.6 418 156.7 426.4 165 431.3 175 435.5 194 435.7 200 436.6 201 436.7 208 326.3 208 326.7 196 328.9 186 336.5 180 347 169.6 361 162.6 375 156.8Z"/>
<path fill="#3fca8e" d="M398.8 150 404 149.8 411 151.8 419 157.7 426.2 165 431.1 175 435.4 194 435.6 200 436.5 201 436.6 208 326.4 208 326.9 196 329.1 186 337.8 179 347 169.8 361 162.8 373 157.8Z"/>
<path fill="#44cb89" d="M399.5 150 403.9 150 411 152 419 157.9 426.1 165 431 175.3 435.2 194 435.5 200 436.4 201 436.5 208 326.5 208 327.2 196 329.4 186 338 179 347 170 361 163 373 158 388 152.9Z"/>
<path fill="#49cb85" d="M400.7 150 411 152.4 419 158.3 426 165.3 431 176.1 435.1 194 435.4 200 436.3 201 436.5 208 326.5 208 327.5 196 329.7 186 338 179.4 347.5 170 361.5 163 373.6 158 388.6 153Z"/>
<path fill="#4fcc80" d="M398.1 151 402 150.3 410 152.3 419 158.7 426 165.9 431 177.2 435 194.5 435.2 200 436.2 201 436.4 208 326.6 208 326.8 202 329.9 186 338 179.7 348 170 374.4 158Z"/>
<path fill="#55cc7c" d="M400.3 151 402 150.8 410.4 153 418.6 159 425.6 166 429.7 174 431 178.5 435 195.6 435.1 200 436.1 201 436.4 208 326.7 208 327 201.3 327.9 200 330.5 186 339 179.3 347.4 171 360.9 164 375 158.2 387.9 154Z"/>
<path fill="#5bcc77" d="M398.7 152 402 151.5 410 153.5 418 159.2 425 166 430 176.2 434 192.1 435 200 436 201 436.3 208 326.7 208 327 201.9 328.4 200 330.6 187 348 171.1 362 164 374.4 159Z"/>
<path fill="#61cd71" d="M397.6 153 402 152.3 410 154.5 418 160.1 424.8 167 429 174.7 431 181.7 434 193.6 434.7 200 436 201.5 436.3 208 326.8 208 327 202.8 328.8 201 331.4 187 348 171.9 361.3 165 375 159.4Z"/>
<path fill="#67cd6c" d="M397.1 154 402 153.3 409 155 417 160.5 424 167.2 428.4 175 431 183.5 433.9 195 434.3 200 436 202.1 436.2 208 326.9 208 327 203.9 329.7 201 332 187.7 349 172.1 360.8 166 375.6 160Z"/>
<path fill="#6dcd67" d="M397.6 155 402 154.5 409 156.3 417 161.8 423.4 168 427.6 175 431 185.4 433.2 194 434.1 201 436 202.9 436.1 208 326.9 208 327 205.6 329 204.2 330.3 202 332.9 188 349.4 173 360.7 167 375.5 161Z"/>
<path fill="#74cc62" d="M399.8 156 402 155.8 409.3 158 416 162.5 423 169.4 426.6 175 430 184.5 432.9 195 433.5 201 436 204.1 436.1 208 327 208 330 205.3 331.2 203 334 188.6 350 173.8 361 167.9 376 161.9 390 157.8Z"/>
<path fill="#7bcc5d" d="M395.3 158 402 157.4 407 158.6 414.3 163 421.2 169 425.9 176 429 184 432.1 194 433 202 436 206.2 436 208 330.7 208 332.7 203 333.4 196 335 189.4 350.5 175 361.3 169 376 163.2Z"/>
<path fill="#82cc58" d="M392.9 160 402 159.2 407 160.5 413 164 420 170 424.6 176 429.2 187 431.3 194 432.3 203 433.9 208 333.5 208 334.8 196 336.4 190 351 176.4 364 169.3 377 164.3Z"/>
<path fill="#88cb53" d="M391.8 162 401 161.2 406 162.3 413 166.2 422 174.7 428 186.5 430.5 194 431.2 200 430.4 208 336.4 208 336.1 199 337.7 191 347.8 181 352.8 177 363 171.3 377 166Z"/>
<path fill="#8fcb4e" d="M391.7 164 396 163.3 402 163.6 408 165.5 417 172 421.8 177 427.5 188 429.8 195 430.3 201 428 205.8 428 208 339.9 208 337.8 201 338.9 193 348 182.9 354 178.3 363 173 377 167.8Z"/>
<path fill="#96ca49" d="M392.6 166 402 166.1 408 168 420.4 178 426.8 189 428.8 195 429.3 200 428 202.8 427.9 208 344 208 344 206.6 341.9 205 340.1 202 340.4 195 341.1 193 349 184.5 364 174.6 378 169.6Z"/>
<path fill="#9cc944" d="M394.8 168 407 170.3 419 179.4 425.4 189 427.7 195 427.8 208 344.1 208 344 202.8 342.1 200 342.7 195 350.3 186 365 176.4 378 171.8Z"/>
<path fill="#a3c83f" d="M393 171 395 170.1 406 172.3 416 179.1 418.9 182 424.9 190 426.9 195 427 200 427.8 201 427.8 208 344.2 208 344.4 196 353 186.2 365 178.3 380 173.2Z"/>
<path fill="#a9c73a" d="M394 171 406 173.1 418.6 182 424.5 190 426.6 195 426.8 200 427.7 201 427.7 208 344.2 208 344.4 199 345.3 195 352 187.4 366 178.4 381 173.6Z"/>
<path fill="#afc636" d="M390.7 172 395 171.2 406 173.5 417 180.7 424.2 190 426.3 195 426.7 200 427.5 201 427.6 208 344.3 208 344.4 201 345.6 195 352 187.7 366 178.7 378 174.7Z"/>
<path fill="#b5c533" d="M392.5 172 395 171.6 406 173.8 417 181 423.9 190 425.3 193 426.3 196 426.5 200 427.3 201 427.6 208 344.4 208 345.4 196 352 188 366 179 378.3 175Z"/>
<path fill="#bbc42f" d="M394.9 172 405.5 174 417 181.4 423.6 190 425 193 426.1 196 426.3 200 427.4 202 427.5 208 344.5 208 345.6 196 352.3 188 366 179.3 379 175.1Z"/>
<path fill="#c1c32c" d="M391.7 173 395 172.5 405 174.2 417 181.8 423.4 190 425 193.4 426.2 200 427.3 202 427.4 208 344.5 208 344.6 202 345.7 196 352.7 188 366 179.6 379 175.5Z"/>
<path fill="#c7c12a" d="M394.6 173 405 174.6 416.9 182 423.2 190 425 193.9 426 200 427.2 202 427.4 208 344.6 208 344.7 202 345.9 196 353 188 366 180 379 175.9Z"/>
<path fill="#ccc028" d="M391.5 174 395 173.5 405 175 416.4 182 422.9 190 425 194.4 425.7 200 427.1 202 427.3 208 344.7 208 344.8 202 346.1 196 353 188.3 366.9 180 380 176.1Z"/>
<path fill="#d2bf27" d="M388.3 175 395 174 405 175.6 416 182 422.6 190 424.6 194 425.7 201 427 202.4 427.2 208 344.8 208 345 202 346.4 196 353 188.6 367 180.3 379 176.8Z"/>
<path fill="#d7be28" d="M391.9 175 395 174.6 405 176.1 416 182.5 422.3 190 424 193.2 425 196 425.4 201 427 203.1 427.1 208 344.8 208 345 202.5 345.9 201 346.6 196 353 188.9 367 180.7 380 177Z"/>
<path fill="#dcbd29" d="M388.5 176 395 175.2 404 176.3 416 182.9 422 190 424 193.8 425.1 201 427 204.4 427.1 208 344.9 208 345 203.5 346.2 201 346.9 196 353.3 189 367 181.1 380 177.5Z"/>
<path fill="#e1bc2b" d="M393.2 176 404.6 177 415.6 183 422 190.5 424 194.3 425 202.6 427 208 345 208 347.6 195 357 186.7 371 180.2Z"/>
<path fill="#e5bb2d" d="M389.5 177 395 176.4 404 177.4 415.1 183 422 190.9 424 195 424.2 208 347.1 208 346.8 200 347.4 196 354 189.2 358 186.5 369.8 181Z"/>
<path fill="#eabb30" d="M386.2 178 395 177.1 404 177.9 415 183.5 421.7 191 423.8 195 424.1 201 423 204.7 423 208 348.1 208 347 200 347.7 196 354 189.5 358 186.8 368 182.1Z"/>
<path fill="#eeba34" d="M391.7 178 404 178.5 415 184 421.3 191 423.5 195 423.9 200 423 202.8 422.9 208 348.1 208 347.3 200 348.4 195 357 187.7 371 181.5Z"/>
<path fill="#f2ba38" d="M387.2 179 395 178.4 404 179.1 414.5 184 421 191 423.2 195 423.6 200 422.8 208 348.2 208 347.6 200 348.2 196 354.3 190 358 187.4 371 181.9Z"/>
<path fill="#f6ba3b" d="M384.4 180 395 179.1 404 179.7 414 184.1 420.6 191 422.9 195 422.8 208 348.3 208 347.9 200 348.4 196 354 190.7 358 187.7 371 182.4Z"/>
<path fill="#f9bb3d" d="M390.5 180 404 180.3 414 184.7 420.2 191 422.6 195 422.7 208 348.3 208 348.1 200 349 195.3 358 188.1 372 182.6Z"/>
<path fill="#fcbc3d" d="M385.9 181 404 180.8 413.8 185 420 191.3 422.3 195 422.6 208 348.4 208 349 195.9 358 188.5 372 183Z"/>
<path fill="#febe3c" d="M383.1 182 388 181.4 404 181.4 413 184.9 420 191.8 422 195.1 422.6 208 348.5 208 349.3 196 355.1 191 359 188.3 372 183.5Z"/>
<path fill="#fec13a" d="M380 183 388 182 404 182 413 185.4 419.7 192 422 196 422.5 208 348.5 208 349.6 196 353 193 359 188.7 367 185.7 373 183.8Z"/>
<path fill="#fec438" d="M382.2 183 404 182.4 413 185.9 419.2 192 421.1 195 422.4 208 348.6 208 348.9 201 350 196 357.7 190 372 184.4Z"/>
<path fill="#fec636" d="M385.1 183 404 182.8 412.3 186 418.5 192 421 196 422.4 208 348.7 208 349 201.3 350.3 200 351 196 358.5 190 372 184.8Z"/>
<path fill="#fec934" d="M393.4 183 404 183.3 412.8 187 418.6 193 420.3 196 420.4 200 422 201.8 422.3 208 348.7 208 349 202.3 350.8 201 351.4 197 359.7 190 373 185Z"/>
<path fill="#fdcc32" d="M384.2 184 403 183.7 412 187 417.7 193 419.5 196 419.9 201 422 202.7 422.2 208 348.8 208 349 203.5 351.3 202 352.5 197 359.3 191 372 185.8Z"/>
<path fill="#fccf31" d="M388.6 184 403 184.3 412 187.8 418.7 196 419.1 201 420 202.6 422 203.8 422.2 208 348.9 208 349 204.8 352 202.8 353.1 198 360 191.4 373 186Z"/>
<path fill="#fbd22f" d="M384.3 185 395 184.4 403 184.8 411 187.8 417.3 195 418.6 202 420 204 422 205.1 422.1 208 349 208 349 206.6 353 203.4 354.3 198 360.4 192 372 186.9Z"/>
<path fill="#fad52e" d="M389.9 185 403 185.4 411 188.6 416.4 195 417.3 197 418.1 203 420 205.6 422 206.8 422 208 350.4 208 354 204.1 355.8 198 361.9 192 373 187.2Z"/>
<path fill="#f9d72c" d="M385 186 395 185.4 403 186.1 410.3 189 415.9 196 417.4 204 420.5 208 353.3 208 355.4 204 356.4 199 361.9 193 367 190 373 187.8Z"/>
<path fill="#f8da2b" d="M392.4 186 403 186.7 410.5 190 415.4 197 416 203 418 208 355.4 208 357.2 200 361 195 365 191.9 374 188.2Z"/>
<path fill="#f6dd29" d="M386.4 187 397 186.6 403 187.4 409.3 190 414.5 197 416.1 208 357.3 208 358.6 200 362 195.3 364.7 193 373 189.1Z"/>
<path fill="#f6e028" d="M383.2 188 396 187.1 403 188.1 409 190.7 413.8 198 414.3 208 359.1 208 359.5 201 364.8 194 368 191.8 373 189.8Z"/>
<path fill="#f5e327" d="M388.4 188 395 187.6 402 188.7 409 191.6 412.8 198 412.6 208 360.9 208 361 201 363.2 197 367.3 193 377 189.5Z"/>
<path fill="#f5e626" d="M385.3 189 396 188.3 403 189.6 408 191.8 412 199 410.7 208 362.9 208 362 203 362.4 201 363.8 198 367.3 194 374 190.9Z"/>
<path fill="#f5e924" d="M391.9 189 396 188.9 402 190.1 408.2 193 411.1 200 410.5 204 408.6 208 365 208 363.6 204 363.8 201 365.2 198 369 193.6 378 190.6Z"/>
<path fill="#f5ec22" d="M387.8 190 396 189.5 403 191.2 407 193 410.1 200 409.6 203 408 205.8 406 208 367.5 208 367 207.4 365.5 205 365.2 201 369 194.6 378 191.2Z"/>
<path fill="#f5ef21" d="M385.1 191 395 190 406 193.2 407.4 195 409.1 200 408.3 203 406 205.3 405.8 208 370.1 208 370 206.5 367.9 205 366.6 202 367.1 199 369.7 195 378 191.9Z"/>
<path fill="#f6f11e" d="M391.2 191 396 190.9 406 194.3 408.1 200 407.6 202 406 203.6 405.7 208 370.2 208 370 204 368.1 202 367.9 200 371 195 379 192.4Z"/>
<path fill="#f7f41c" d="M388.1 192 395 191.3 405 194.4 407.1 200 406 202 405.6 208 370.4 208 370 202.1 369 200 370.8 196 379 193.1Z"/>
<path fill="#f8f719" d="M394.4 192 404.4 195 406 200 405.5 208 370.5 208 370 200 372 196.2 379 193.8Z"/>
<path fill="#f9fa16" d="M391.8 193 396 193 404 196 405.2 201 405.3 208 370.6 208 370.8 201 372 197 378 195Z"/>
<path fill="#f9fb15" d="M387.5 196 395 195.3 401 197.2 402 198 403 201.4 405 202.5 405.2 208 370.8 208 371 202.5 373 201.4 374 199 380 196.9Z"/>
<path fill="#f9fb15" d="M391.9 198 395 197.9 399 199.2 402 204 405 205 405.1 208 370.9 208 371 205 374 204 376 200.9 380 199.5Z"/>
<path fill="none" stroke="#2f4fe6" stroke-width="1.05" d="M300 185 309 172 320.3 160 327.7 149 335 139 342.5 134 352.3 129.4 362 124 367 108 379.4 103.5 391.7 104.5 406.5 103.5 416.4 112 423.8 122 431 132 436 139 441 146.7 443.7 153.6 446 165 449.3 178.6 453.9 190 456 196 456 200M326.5 200 326.8 195.6 329 185.4 338 178.6 347 169.5 360.8 162.7 374.5 157 388 152.5 401.7 149 410.8 151.3 419.8 158 426.6 165 431 174 433.5 185.4 435.7 195.6 436 200M344.5 200 345 195.6 351.8 187.6 365.4 178.6 379 174 394.9 170.6 406 172.9 417.6 180.8 424.4 190 426.6 195.6 427 200M349 200 349.5 195.6 358.6 188.8 372 184 388 182 404 182 413 185.4 419.8 192 422 195.6 422 200M371 200 372 197 379 194.5 394.9 192.6 404 195.6 405 200"/>
<path fill="none" stroke="#2249f5" stroke-width="1.2" d="M307 10.6 L409 3.4 L461 3.2M420.5 11.7h10.1M419 13.6h10.1M423.3 15.6h10.5M419.6 18.3h8.5M416.3 23.2h12M423.7 25.9h9.1M421.1 28.7h10.3M419.1 30.7h6.7M421 33.6h6M422.8 35.8h12M420.4 38.9h11.2M440.6 21.1h7.5M437.9 24.9h11.1M438.7 28.6h5.3M436.6 31.8h12M437 35.2h5.7M437.1 38.8h7.3M435.9 42.7h9.9M435.8 49.2h10M453 5.7h5.4M449.4 10.5h13.2M453.6 11.5h11.4M450.3 14.4h9.6M452 17.7h6.2M449.5 20h7.3M450.2 22.4h9.5M447.5 24.4h11.6M449.9 28.1h14M450.1 30.1h11M450.2 31.8h12M454.2 33.4h10M449.2 36.6h9M452 37.3h12.4M455.1 42.5h7M449.3 50.3h7.2M452.6 51.7h11M449.6 56.6h13M449 57.3h12.3M456.1 60.1h6M453.2 61.9h11.9M448.9 63.5h8.8M450.7 67.8h8.1M451.4 70.1h12.1M447.9 73.5h12.5M453.4 76.4h8.3M449.4 80.2h10.9M449.3 82h12.4M453.2 83.8h9.9M451.9 88.1h11.5M307.1 167.2h12.9M311 163.7h8.1M318.6 158.1h6.8M331.2 141.5h6.1M331.6 139.6h15.3M333.9 135.8h11.8M344.1 133.4h10.1M347.6 126.5h7M354.6 121.4h15.1M356.1 112.8h17.1M362.6 110.7h13.8M369.1 105.7h11.1M371.8 106.1h14.3M391.5 105.2h17M392.5 104.5h16.1M397.8 107.1h17.7M407 106.1h6.9M421 120.8h8.2M420.2 122.6h11.4M426 133.8h12.4M435.6 142.6h6.2M435.5 144.2h6M434.8 146h17.7M440.8 156.1h7.5M444.1 176.7h12M331 121 338 119.5 346 117.5 352 116 357 114.5M342 107 349 107M327.5 118.9h13.9M337.8 118.6h7M341.2 115.9h13.7M350.5 114.2h8.6M341.7 105.7h8.6M330 117H362M336 121H358M348 104H392M355 108H400M372 102H410M320 150H345M340 131H365M345 126H372"/>
<g fill="none" stroke="#2249f5" stroke-width="1"><ellipse cx="338" cy="16.5" rx="10" ry="4.5"/><ellipse cx="363" cy="17" rx="6" ry="2.5"/></g>
<path d="M309 195.2H326.5" stroke="#1433e8" stroke-width="1.6" fill="none"/>
<text class="n" x="310.5" y="196.5">60</text>
<g class="n"><text transform="translate(309.4 172) rotate(-41)">20</text><text transform="translate(314 165.3) rotate(-22)">20</text><text transform="translate(324.5 163.2) rotate(-66)">20</text><text transform="translate(325.9 153.5) rotate(-33)">20</text><text transform="translate(332.9 139.6) rotate(-11)">20</text><text transform="translate(343.2 138.4) rotate(-41)">20</text><text transform="translate(351.5 135.9) rotate(-50)">20</text><text transform="translate(357.2 129) rotate(-41)">20</text><text transform="translate(356.2 124) rotate(29)">20</text><text transform="translate(356.9 134) rotate(-29)">20</text><text transform="translate(363.7 126.8) rotate(-85)">20</text><text transform="translate(365.2 121.8) rotate(10)">20</text><text transform="translate(366.9 119.1) rotate(-61)">20</text><text transform="translate(365.8 111.7) rotate(-5)">20</text><text transform="translate(374.7 108.4) rotate(-23)">20</text><text transform="translate(372.4 103.4) rotate(-14)">20</text><text transform="translate(381 103.7) rotate(26)">20</text><text transform="translate(379.1 98.7) rotate(-9)">20</text><text transform="translate(388.9 108) rotate(10)">20</text><text x="396.1" y="107.3">20</text><text transform="translate(402.4 106.1) rotate(29)">20</text><text transform="translate(405.1 111.1) rotate(3)">20</text><text transform="translate(408.5 112) rotate(27)">20</text><text transform="translate(406.5 107) rotate(29)">20</text><text transform="translate(416.8 114.1) rotate(69)">20</text><text transform="translate(419.3 119.1) rotate(-9)">20</text><text transform="translate(426.4 126.7) rotate(71)">20</text><text transform="translate(425.4 121.7) rotate(-28)">20</text><text transform="translate(427.9 131.7) rotate(-13)">20</text><text transform="translate(430.6 133.7) rotate(73)">20</text><text transform="translate(433.5 141.1) rotate(56)">20</text><text transform="translate(437.4 146.7) rotate(46)">20</text><text transform="translate(441.2 153.1) rotate(85)">20</text><text transform="translate(441.5 159.7) rotate(85)">20</text><text transform="translate(443.3 169) rotate(66)">20</text><text transform="translate(446.6 179.7) rotate(58)">20</text><text transform="translate(447.3 186.5) rotate(62)">20</text><text transform="translate(329.9 193.5) rotate(-78)">40</text><text transform="translate(341.9 178.3) rotate(-45)">40</text><text transform="translate(358.8 166.3) rotate(-23)">40</text><text transform="translate(379.1 158.2) rotate(-18)">40</text><text transform="translate(398.7 150.9) rotate(14)">40</text><text transform="translate(417.2 159.1) rotate(46)">40</text><text transform="translate(428.7 175.7) rotate(78)">40</text><text transform="translate(348.7 195.2) rotate(-50)">60</text><text transform="translate(364.2 181.7) rotate(-19)">60</text><text transform="translate(384.9 175.4) rotate(-12)">60</text><text transform="translate(404.5 175) rotate(34)">60</text><text transform="translate(420.7 187.6) rotate(69)">60</text><text transform="translate(354 195.5) rotate(-37)">80</text><text transform="translate(374.4 186.3) rotate(-7)">80</text><text x="398" y="184.6">80</text><text transform="translate(391.8 194.3) rotate(18)">100</text><text transform="translate(424.2 13.5) rotate(-53)">0</text><text transform="translate(424.4 18.5) rotate(-55)">0</text><text transform="translate(424 23.5) rotate(-75)">0</text><text x="425.6" y="28.5">0</text><text transform="translate(424.3 38.5) rotate(-57)">0</text><text x="441.1" y="23.5">0</text><text transform="translate(440.9 30.5) rotate(-57)">0</text><text transform="translate(440.2 37.5) rotate(-62)">0</text><text transform="translate(441.5 44.5) rotate(-72)">0</text><text transform="translate(455.8 8.5) rotate(-60)">0</text><text transform="translate(455.9 12.5) rotate(-57)">0</text><text transform="translate(455.7 16.5) rotate(-56)">0</text><text x="455.5" y="20.5">0</text><text transform="translate(456 24.5) rotate(-59)">0</text><text transform="translate(455.3 28.5) rotate(-75)">0</text><text x="455.2" y="32.5">0</text><text transform="translate(455.8 36.5) rotate(-59)">0</text><text transform="translate(454.8 40.5) rotate(-53)">0</text><text transform="translate(455.9 44.5) rotate(-60)">0</text><text x="455.5" y="48.5">0</text><text transform="translate(456 52.5) rotate(-70)">0</text><text x="455.1" y="56.5">0</text><text x="455.5" y="60.5">0</text><text x="455.9" y="64.5">0</text><text transform="translate(456.3 68.5) rotate(-71)">0</text><text transform="translate(455.3 72.5) rotate(-64)">0</text><text transform="translate(454.5 76.5) rotate(-60)">0</text><text transform="translate(455.6 80.5) rotate(-74)">0</text><text transform="translate(455.6 84.5) rotate(-66)">0</text><text transform="translate(455.5 88.5) rotate(-65)">0</text><text transform="translate(311.5 10.5) rotate(-69)">0</text><text transform="translate(318.5 16.5) rotate(-45)">0</text><text transform="translate(335.5 10.5) rotate(-58)">0</text><text transform="translate(338.5 17.5) rotate(-50)">0</text><text transform="translate(337.5 24.5) rotate(-73)">0</text><text transform="translate(346.5 20.5) rotate(-65)">0</text><text transform="translate(356.5 14.5) rotate(-49)">0</text><text transform="translate(368.5 10.5) rotate(-70)">0</text><text x="360" y="20.5">20</text><text x="366" y="22.5">20</text><text transform="translate(394.5 12.5) rotate(-63)">0</text><text transform="translate(401.5 10.5) rotate(-46)">0</text><text transform="translate(331.2 123.6) rotate(-12)">20</text><text transform="translate(338.1 122.2) rotate(-14)">20</text><text transform="translate(344.9 120.5) rotate(-14)">20</text><text transform="translate(351.8 118.8) rotate(-17)">20</text><text x="342.1" y="109.6">20</text></g>
<text x="435.3" y="182.5" class="l">(c)</text>
</g>
<text x="316.4" y="41.6" class="t">c0e10</text>
<text x="416" y="37.8" class="s">1<tspan dx="7.3">cm</tspan></text>
<rect x="420" y="41.8" width="38.5" height="2" fill="#fff"/>
<clipPath id="cd"><rect x="462" y="2.9" width="152.4" height="193.4"/></clipPath>
<g clip-path="url(#cd)">
<rect x="450" y="-9" width="177" height="217" fill="#3479fd"/>
<path fill="#317dfb" d="M560.6 -3 627 -3.3 627 208 450 208 450 5Z"/>
<path fill="#2f80fa" d="M557 -1 627 -1.5 627 208 450 208 450 6.8Z"/>
<path fill="#2e83f9" d="M553.5 1 565 0.2 627 0.2 627 208 450 208 450 8.5Z"/>
<path fill="#2e85f8" d="M563.9 2 627 2 627 208 450 208 450 10.1Z"/>
<path fill="#2d88f6" d="M556.7 3 565 2.4 627 2.4 627 208 450 208 450 10.7Z"/>
<path fill="#2d8af4" d="M562.6 3 627 2.9 627 208 450 208 450 11.2Z"/>
<path fill="#2d8df2" d="M554.7 4 565 3.3 627 3.4 627 208 450 208 450 11.6Z"/>
<path fill="#2c8ff1" d="M560.6 4 627 4 627 208 450 208 450 12.1Z"/>
<path fill="#2b91ef" d="M552.8 5 565 4.1 607 4.1 612.3 5 613.3 103 615 106 627 106.9 627 208 450 208 450 12.5Z"/>
<path fill="#2994ed" d="M558.7 5 609.7 5 610.8 103 615 110.5 627 111.6 627 208 450 208 450 12.9Z"/>
<path fill="#2896eb" d="M564.8 5 607 5 608.2 103 615 114.9 627 116.2 627 208 450 208 450 13.6Z"/>
<path fill="#2698ea" d="M552.8 7 565 6.1 601 6.2 603.7 7 604 58 605.3 103 610 112.1 615 119.4 627 120.9 627 208 450 208 450 14.5Z"/>
<path fill="#269be8" d="M555.1 8 565 7.3 598 7.3 600.4 8 600.7 59 602.2 103 609 115.8 615 124 627 125.6 627 208 450 208 450 15.6Z"/>
<path fill="#259de7" d="M557.4 9 565 8.5 597 9 597.4 59 599.1 103 604.3 114 614.5 128 627 130.2 627 208 450 208 450 16.8Z"/>
<path fill="#249fe5" d="M559.8 10 591.4 10 592.2 59 595.4 103 602.7 118 612 130.3 615 133 627 134.9 627 208 450 208 450 18Z"/>
<path fill="#22a1e4" d="M562.1 11 585.7 11 586.7 61 590.6 103 601 122.2 609.5 133 615 137.6 627 139.6 627 208 450 208 450 19.1 496 15.8 510 14 525 13.7Z"/>
<path fill="#21a3e3" d="M564.6 12 580.1 12 581.5 65 584.7 95 586.7 105 593.2 118 601 129.7 605 134.4 615 142.2 627 144.4 627 208 450 208 450 20.1 496 17 511 14.6 523 14.9Z"/>
<path fill="#1fa5e2" d="M553.3 13 565 12.3 579 12.3 579.7 13 580 96.3 581.1 103 588.5 120 601.8 138 608 143.1 614 146.6 627 149.2 627 208 450 208 450 20.3 497 17.1 511 15.1 524 15.2Z"/>
<path fill="#1ea7e1" d="M555.6 13 579.3 13 580 112.1 583.2 121 586 126.1 592.2 136 598 142.1 603 146.5 608 149.4 614 151.6 621.2 153 625 188 625.6 199 625.2 208 450 208 450 20.6 498 17.3 512 15.5 525 15.4Z"/>
<path fill="#1ca9df" d="M557.9 13 577 13 577.6 35 579 52.3 580 126.6 588 141.1 596 150 599.8 153 602.2 170 607.4 191 608.2 201 606.8 208 450 208 450 20.8 499 17.4 513 15.7 527 15.5Z"/>
<path fill="#1aabdd" d="M532.8 15 538.7 15 540.1 41 541.7 50 543.9 57 551.2 70 566 92.1 574.8 114 576.7 123 579 128.9 580 140.6 587.3 153 590.8 173 596.9 192 598 200 597.3 203 595 206 592 208 450 208 450 21.1 500 17.6 514 16 531 15.8Z"/>
<path fill="#18addb" d="M519.6 16 521.6 17 521.6 19 518 21.6 512 22.9 502 22.8 500.4 24 500.4 95 502 95 506 92 508 92 518 87.1 523 87 524 86 541 86 546 89 557.9 101 565.9 117 566 120 566.9 121 568 127 572.9 136 574 142 579.9 153 580 158 580.9 159 581 164 582 165 582 168 582.9 169 583 173 584 174 585 179 586.9 182 587 184 588.9 187 589 190 590.9 194 591 200 592 201 591.9 208 450 208 450 86 461 86 450 86 450 21.5 481 18.9 492 18.8 494 18 502 17.8 507 16.7Z"/>
<path fill="#15afd9" d="M506 17 516 16.6 518.6 17 518.9 18 518 19.5 516 20.5 510 21.1 507 20.5 504.4 19 504.1 18ZM455.4 21 461.6 21 460.4 41 459.1 49 456.9 56 454 61.4 450 65.9 450 21.9ZM450 87 450 86.4 461 86.5 472 97.4 484 99.5 495 99.5 509 91.7 519 87.9 526 86.6 540 86.5 547 90.6 556.4 100 561.1 109 565.5 118 567.6 127 572.5 137 573.7 142 578.4 151 579.5 154 582.8 173 588.4 187 590.6 195 590.8 200 591.8 201 591.8 208 450 208Z"/>
<path fill="#12b1d7" d="M507.3 17 515 16.8 516.3 17 516.9 18 515 19.7 511 20.2 507.1 19 506.5 18ZM450 87 461 86.9 472 97.7 484 100 495 100.1 507 93.3 517.2 89 527.6 87 540 86.9 546.5 91 555.8 100 559 106 565 118 567.3 127 578.4 152 582.6 173 588.4 188 590.3 195 590.7 200 591.6 201 591.8 208 450 208Z"/>
<path fill="#0eb2d4" d="M509.9 17 513.7 17 514.8 18 513 19.2 510 19 508.8 18ZM450 88 450 87.4 460 87.4 471.6 98 484 100.7 495 100.8 507 94.2 517.1 90 529 87.7 539 87.7 546.4 92 555 100.2 560 109.2 564.4 118 566.8 127 578.1 152 582.4 173 589.3 192 590.5 200 591.4 201 591.7 208 450 208Z"/>
<path fill="#09b4d1" d="M450 89 450 88.5 460 88.5 471 98.8 484 101.6 496 101.6 508 95.1 518 91 529 89 539 88.9 545.7 93 554.3 101 559 109.3 563.6 118 566.1 127 578 152.6 582.3 173 589.1 192 590.3 200 591.4 202 591.6 208 450 208Z"/>
<path fill="#06b5ce" d="M450 90 459 89.8 471 100 484 102.8 496 103 508 96.9 519 92.4 529 90.7 539 90.7 544.5 94 553 101.7 558 110 562.4 118 565.7 128 577.6 153 582.5 175 589 192.7 590.1 200 591.3 202 591.5 208 450 208Z"/>
<path fill="#03b7cc" d="M450 92 459 91.7 469 100.5 471 101.5 484 104.2 495 104.8 498 104.1 509 98.5 520 94.2 530 92.6 538 92.5 543.9 96 551.8 103 561 118.1 564.5 128 577 153 582.5 176 587 187 589.9 200 591 201.2 591.5 208 450 208Z"/>
<path fill="#01b8c9" d="M450 94 450 93.5 458 93.6 470 102.9 483 105.8 495 106.7 499 106 511 100.2 521 96.4 530 95 537 94.9 542 97.4 550 104.1 559 117.9 563.1 128 576.2 153 582.1 176 587 188.3 589.5 200 591 201.7 591.4 208 450 208Z"/>
<path fill="#01bac6" d="M450 96 457 95.8 467 103.6 470 104.9 483 107.8 495 109 500 108.4 521 99.2 530 97.7 537 97.8 544.8 103 548.3 106 558.1 120 561.9 129 575.8 154 581.6 176 588 193.3 589.3 201 591 202.4 591.3 208 450 208Z"/>
<path fill="#03bbc3" d="M450 99 450 98.4 456 98.5 465 105 469 106.9 483 110.1 496 111.7 502 111 513 105.5 522 102.1 530 100.9 536 100.8 545.3 107 556.1 121 559.9 129 574.8 154 581.1 176 586 188.2 588.7 201 591 203.2 591.2 208 450 208Z"/>
<path fill="#07bcbf" d="M450 102 450 101.3 455 101.5 463.2 107 468 109.1 483 112.7 497 114.9 501 114.9 518 107.2 523 105.5 530 104.4 535 104.3 542.5 109 553.6 122 573.6 154 580.4 176 585.4 188 588.1 201 589 202.8 591 204.3 591.1 208 450 208Z"/>
<path fill="#0cbdbc" d="M450 105 450 104.5 453 104.5 462 109.7 467 111.6 499 118.9 524 109.2 533 108 540 111.9 550.5 123 562.4 139 572.8 155 579.7 176 584.7 188 587.7 202 589 204.3 591 205.8 591.1 208 450 208Z"/>
<path fill="#12beb9" d="M450 108 452 108 464 113.9 498 123.1 504 121.5 525 113.2 532 112.4 536 114.4 547 124.3 560.6 140 571.4 155 584.1 188 586.1 195 587.1 203 590.8 208 450 208Z"/>
<path fill="#18bfb6" d="M450 112 460 116.1 476 120.1 497 127.9 527 117.5 531 117.4 536 120.7 543 126 558 140.5 570 155.4 574.9 166 578.5 177 583.3 188 587.7 208 450 208Z"/>
<path fill="#1dc0b3" d="M450 117 450 116.5 459 119.7 475 123.5 487 128.6 495 133 528 122.4 537.7 128 556 142.1 568.6 156 574 166.6 582.8 189 584.7 196 585.3 208 450 208Z"/>
<path fill="#23c1af" d="M450 122 450 121.4 474 127.2 485 133 493 139.1 526 128.4 553 143.6 566.5 156 573 167 581.2 187 583.7 195 584.2 202 582.8 208 450 208Z"/>
<path fill="#27c2ac" d="M450 127 450 126.4 466 129 473 131.2 481.6 137 490 146.5 507 140 523 135 541 141.4 554 148 565 157 572 167.7 580.7 188 582.7 195 583.3 201 582 204.9 580 208 450 208Z"/>
<path fill="#2ac3a9" d="M450 132 450 131.3 465 133 472 135.6 477.9 141 483.9 151 487 154.7 509 145.1 521 142.1 540 145.7 554 151.4 564 158.8 571.2 169 579.7 188 582 196 582.2 201 580 204.5 579.9 208 450 208Z"/>
<path fill="#2dc4a5" d="M450 137 450 136.4 464 137.4 469 139.2 472.7 143 479.9 158 484 161.2 488 163 502 154.4 511 150.5 518 149 527 148.9 540 150.2 554 154.5 563 160.6 570 169.4 578.6 188 581 196 581.3 200 580 202.5 579.9 208 450 208Z"/>
<path fill="#30c5a2" d="M450 142 463 142 466 143 467.8 145 470.4 154 473.9 162 480 167.2 487 170.7 491 169.9 505 160.1 514 155.9 528 154.5 540 154.5 553 157.1 562 162.4 569 170.4 577.4 188 579 192.9 580.1 197 579.8 208 450 208Z"/>
<path fill="#32c69e" d="M450 148 450 147 463 147 464 148 464 152 464.9 153 465 156 467.9 163 468 165 476 173 485 178 494 177 507 166 514 162 517 162 518 161 523 161 524 160 527 160 528 159 534 159 535 158.1 546 158.1 547 159 552 159 560 163 568.9 172 571.8 178 572 180 573.8 182 576.9 188 578 193 578.9 194 579 200 579.9 201 579.8 208 450 208Z"/>
<path fill="#35c79a" d="M450 148 450 147.2 463 147.3 463.7 148 465 156.9 468 165.3 475.8 173 485 178.2 494 177.2 507 166.3 514 162.4 517 162.1 518 161.3 523 161.1 528 159.2 534 159.1 536 158.3 545 158.3 547 159.1 552 159.2 560 163.2 568.7 172 571.9 180 576.7 188 578.7 194 578.9 200 579.8 201 579.7 208 450 208Z"/>
<path fill="#38c896" d="M450 148 450 147.3 463 147.6 464.8 157 468 165.5 475.5 173 485 178.4 494 177.3 507 166.5 515 162.3 523 161.3 528 159.4 534 159.3 536 158.5 544 158.5 552 159.4 560 163.4 568.5 172 577.7 191 578.7 195 578.8 200 579.7 201 579.7 208 450 208Z"/>
<path fill="#3cc992" d="M450 148 463 147.9 464.6 157 468 165.8 475.3 173 485 178.6 494 177.5 507 166.8 515 162.5 523 161.4 528 159.7 537 158.6 552 159.6 560 163.6 568.3 172 577.5 191 578.6 195 578.7 200 579.6 201 579.6 208 450 208Z"/>
<path fill="#3fca8e" d="M450 148 462.7 148 464.5 157 467.9 166 475.1 173 485 178.8 494 177.6 507.1 167 515 162.7 523 161.5 529 159.7 538 158.8 552 159.8 560 163.7 568.1 172 577.4 191 578.5 195 578.6 200 579.5 201 579.6 208 450 208Z"/>
<path fill="#44cb89" d="M450 148 462.3 148 464.3 157 467.7 166 475 173.2 485 179 494 177.7 509 165.8 515 162.8 523 161.7 529 159.8 538 158.9 552 159.9 560 163.9 568 172.1 577.3 191 578.3 195 578.5 200 579.5 201 579.5 208 450 208Z"/>
<path fill="#49cb85" d="M450 149 450 148.1 462 148.3 463.7 156 467.4 166 475 173.5 485 179.4 494 177.9 509 166 515.1 163 529 160 539.5 159 552 160.2 560 164.1 568 172.4 577.1 191 578.2 195 578.4 200 579.4 201 579.5 208 450 208Z"/>
<path fill="#4fcc80" d="M450 149 461.4 149 463.2 156 467.1 166 475 173.8 485 179.8 494 178.1 508 167 515.9 163 529 160.4 540 159.3 553.1 161 560.8 165 567 171 577 191.1 578.1 195 578.3 200 579.3 201 579.4 208 450 208Z"/>
<path fill="#55cc7c" d="M450 150 461 150 462.5 156 467 166.5 475 174.2 485 180.4 494 178.6 508.6 167 516 163.4 529 160.8 540 159.7 552.2 161 560.3 165 567 171.4 576.1 189 578 195 578.3 200 579.2 201 579.4 208 450 208Z"/>
<path fill="#5bcc77" d="M450 151 450 150.5 460 150.8 462.1 157 466.7 167 475 174.7 485 181.1 495 178.6 509 167.2 516 163.8 529 161.2 540 160.1 551 161.1 553.3 162 560 165.2 567 172 576 189 578 195.7 578.2 200 579.1 201 579.3 208 450 208Z"/>
<path fill="#61cd71" d="M450 152 459 151.9 465.9 167 474 174.7 485 182 495 179.3 509 167.9 516 164.5 529 161.8 540 160.7 552 162 560 165.9 567 172.7 576 189.4 578 196.5 578.1 200 579 201 579.3 208 450 208Z"/>
<path fill="#67cd6c" d="M450 154 450 153.2 458 153.7 465.8 168 474 175.6 485 183.2 495 180 509.9 168 516 165.2 530 162.3 540 161.3 552.6 163 559.1 166 566 171.9 572 181.7 577 193.8 577.9 200 579 201.4 579.2 208 450 208Z"/>
<path fill="#6dcd67" d="M450 155 456.1 155 464.4 168 474 176.7 485 184.7 495 181 509.8 169 516.2 166 530 163.1 540 162.1 550 163 553 164 559 166.8 565.3 172 572 182.1 575.6 190 577.5 197 577.6 200 579 201.9 579.2 208 450 208Z"/>
<path fill="#74cc62" d="M450 157 455 157.5 463.9 169 482 184.9 486 186.9 496 181.7 510 169.9 517 166.7 530 164 540 163.1 550 164 553.1 165 558 167.2 564.3 172 572 182.5 575.3 190 577.2 197 577.4 201 579 202.8 579.1 208 450 208Z"/>
<path fill="#7bcc5d" d="M450 160 450 159.3 453 159.5 461.7 169 468 173.6 482 187.3 486 189.6 496 183.2 511 170.5 517 167.9 530 165.1 540 164.2 550 165.1 553 166.1 558 168.3 564 172.7 572 183 575 190.3 576.8 197 577 201.3 579 204.1 579.1 208 450 208Z"/>
<path fill="#82cc58" d="M450 162 451 162 460 170 467.8 175 481 189.4 486 193.1 510 172.7 515.1 170 528 166.8 540 165.4 550 166.3 553 167.3 557 169 563 173 571.6 183 574.4 190 576.3 197 576.7 203 579 208 450 208Z"/>
<path fill="#88cb53" d="M450 166 467 176.1 480 192.1 486 198.4 501 182 513 172.3 528 168.2 540 166.8 553 168.7 563 174.3 571.7 184 575.8 197 575.6 203 574.6 208 450 208Z"/>
<path fill="#8fcb4e" d="M533.8 169 541 168.4 553 170.2 562 174.9 570 182.5 572 185.9 575.2 197 573.9 208 488.1 208 491.2 199 503.3 182 514 173.5 528 169.8ZM450 171 450 170.1 464 175.9 466.7 178 478.9 196 482.2 203 483.4 208 450 208Z"/>
<path fill="#96ca49" d="M531.6 171 541 170.2 553 171.9 562 176.5 570 183.2 571 184.4 574.5 197 573.9 208 496.3 208 495.1 204 495.5 200 503.6 184 514 175.3ZM450 175 450 174 463 177.5 465.4 179 475 196 476.6 203 475.4 208 450 208Z"/>
<path fill="#9cc944" d="M531.3 173 541 172.1 552 173.5 561 177.4 570 183.8 573.8 197 573.8 208 503 208 503 204.5 500.6 203 499.8 200 505 185.2 515 176.8ZM450 178 463 179.6 464.4 181 471.6 197 471.8 202 469 204.8 468.9 208 450 208Z"/>
<path fill="#a3c83f" d="M532.1 175 541 174 553 175.3 561 178.5 569.5 184 572.7 194 573 200 573.8 201 573.7 208 503.1 208 503.2 198 504 197 506.1 187 516 178.2 528 175.1ZM450 182 450 181 462 181.3 462.7 182 467.7 195 468 200 468.8 201 468.8 208 450 208Z"/>
<path fill="#a9c73a" d="M534.4 175 541 174.4 552 175.5 560 178.5 569 184.1 570.3 186 572.6 195 572.8 200 573.6 201 573.7 208 503.2 208 503.3 201 506.5 187 516 178.8 529 175.4ZM450 183 450 182.2 461.8 183 467 196.7 467.1 200 468.4 202 468.6 208 450 208Z"/>
<path fill="#afc636" d="M536.8 175 541 174.7 552 175.9 560 178.9 569 184.4 572.4 195 572.7 200 573.6 202 573.6 208 503.3 208 503.5 201 507 186.9 516 179.2 529 175.8ZM450 185 450 184.1 460 184.2 461 185 465.6 197 466 201 468 202.2 468.5 208 450 208Z"/>
<path fill="#b5c533" d="M539.7 175 552 176.3 560 179.3 569 184.7 572.1 195 572.5 200 573.3 201 573.5 208 503.4 208 503.6 202 507.5 187 516 179.7 529 176.2ZM450 187 459 186.3 463.5 197 464.3 202 466 203.5 468 203.9 468.3 208 450 208Z"/>
<path fill="#bbc42f" d="M533.4 176 541 175.4 552 176.7 560.7 180 568.9 185 572.1 196 572.3 200 573.2 201 573.5 208 503.5 208 503.7 202 508.1 187 516 180.1 526.9 177ZM455 189 457 188.8 458 190.3 461.2 198 462 203 465 205.6 468 205.9 468.1 208 450 208 450 189.4Z"/>
<path fill="#c1c32c" d="M536.9 176 541 175.7 552 177.1 560 180 568.2 185 572 196.4 572.2 200 573.3 202 573.4 208 503.6 208 503.9 202 508 188 508.8 187 517 180.2 529 176.9ZM450 193 455 192.3 457.5 198 458.7 204 461 206.7 463.2 208 450 208Z"/>
<path fill="#c7c12a" d="M531.2 177 540 176.1 551 177.3 560 180.5 568 185.3 571.7 196 572 200 573.2 202 573.3 208 503.6 208 504 202.2 505.1 201 508.6 188 517 180.7ZM450 197 452 197.1 453.7 204 456.1 208 450 208Z"/>
<path fill="#ccc028" d="M535.1 177 541 176.5 552 178 560 180.9 568 185.8 571.4 196 572 200.8 573.1 202 573.3 208 503.7 208 504 202.9 505.6 201 507 193.9 509.3 188 517 181.2 528 177.9Z"/>
<path fill="#d2bf27" d="M539.3 177 554 179.1 560 181.4 567.6 186 571 195.4 571.7 201 573 202.4 573.2 208 503.8 208 504 203.9 506 201.1 507.1 195 509.3 189 515 183.4 517 181.8 527 178.6Z"/>
<path fill="#d7be28" d="M534.1 178 541 177.4 551 178.7 559 181.5 566.9 186 570.9 196 571.4 201 573 203.1 573.1 208 503.9 208 504 205.3 506.3 202 508 193.7 510.9 188 518 182 527.2 179Z"/>
<path fill="#dcbd29" d="M538.6 178 551 179.2 559 182 566.1 186 567.1 187 570.6 196 571.1 201 573 204.4 573.1 208 504 208 506.6 203 508.1 195 510.2 190 516 184 518 182.6 528 179.3Z"/>
<path fill="#e1bc2b" d="M533.8 179 541 178.4 551 179.7 559 182.5 566 186.5 570.3 196 571 202.6 573 208 506.1 208 508.6 195 511.6 189 518 183.3 528 179.8Z"/>
<path fill="#e5bb2d" d="M538.5 179 550 180.1 555 181.4 565.9 187 570.2 197 570.2 208 508.2 208 508.1 200 509.1 195 511.6 190 516 185.6 518 184 528 180.3Z"/>
<path fill="#eabb30" d="M534 180 541 179.4 551 180.9 557.6 183 565.1 187 569.9 197 570.1 201 569 204.7 569 208 510.5 208 509 203.9 508.6 200 509.7 195 512.5 190 519 184.2 528 180.8Z"/>
<path fill="#eeba34" d="M539 180 555 182.4 565 187.6 569.6 197 568.9 208 512 208 512 206.5 509.6 203 509.1 200 510 195.6 513.4 190 518 185.5 527 181.7Z"/>
<path fill="#f2ba38" d="M534.7 181 541 180.5 551 182 555 183 564.8 188 569.3 197 568.8 208 512.1 208 512 204.5 510 202 509.7 200 510.4 196 513.4 191 519 185.6 528 181.9Z"/>
<path fill="#f6ba3b" d="M530.5 182 540 181 550 182.4 555 183.6 564 188.1 569 197 568.8 208 512.2 208 512 203.1 510.2 200 511 196 514 191.4 519 186.4Z"/>
<path fill="#f9bb3d" d="M535.9 182 541 181.6 554 183.9 564 188.8 568.6 197 568.7 208 512.3 208 512 202.1 510.8 200 511.1 198 511.6 196 515.3 191 519 187.2 528 183.1Z"/>
<path fill="#fcbc3d" d="M531.9 183 540 182.2 550 183.6 555 184.8 563.4 189 568.3 197 568.7 208 512.3 208 511.7 198 515 192.5 520 187.4 528 183.7Z"/>
<path fill="#febe3c" d="M537.5 183 541 182.8 554 185 563 189.4 568 197 568.6 208 512.4 208 511.9 200 512.4 197 519.1 189 529 183.9Z"/>
<path fill="#fec13a" d="M533.5 184 541 183.2 554 185.4 563 190 567.6 197 568.5 208 512.5 208 513 197 516.4 193 521 188.4 529 184.4Z"/>
<path fill="#fec438" d="M536.5 184 541 183.6 554 185.8 562.4 190 567.2 197 568.3 201 568.5 208 512.6 208 512.8 201 513.8 197 520 189.8 529 184.9Z"/>
<path fill="#fec636" d="M539.5 184 554 186.1 562 190.1 566.9 197 568.1 201 568.4 208 512.7 208 512.9 202 514.2 198 520.7 190 529 185.5Z"/>
<path fill="#fec934" d="M535.5 185 541 184.4 553 186.2 562 190.5 566.4 197 567 200.1 568 201.2 568.4 208 512.7 208 513 202.4 514.6 201 515.2 198 521 190.7 529 186.1Z"/>
<path fill="#fdcc32" d="M538.6 185 543 185 553 186.6 562 190.9 565.9 197 566.9 201 568 201.7 568.3 208 512.8 208 513 203.7 515 202.3 516.4 198 521.9 191 530 186.5Z"/>
<path fill="#fccf31" d="M535.9 186 541 185.2 553 186.9 561.2 191 565.3 197 566.3 201 568 202.5 568.2 208 512.9 208 513 205.3 515.9 203 517 199 522.2 192 530 187.1Z"/>
<path fill="#fbd22f" d="M538.7 186 544 185.8 553 187.3 561 191.4 565 197.4 566 201.7 568 203.3 568.2 208 513 208 513 207.1 516.8 204 518.3 199 523 192.5 530 187.9Z"/>
<path fill="#fad52e" d="M536.9 187 543 186.2 553 187.7 561 191.9 564.7 198 565.5 202 568 204.4 568.1 208 515.3 208 518 204.7 519.7 199 524 193 530 188.7Z"/>
<path fill="#f9d72c" d="M539.3 187 544 186.7 553 188.1 560.3 192 564.1 198 565.2 203 568 205.8 568.1 208 517.9 208 520.6 200 524.4 194 530 189.7Z"/>
<path fill="#f8da2b" d="M537.9 188 544 187.1 553 188.5 560 192.4 563.5 198 565 204.4 568 208 520 208 521.6 201 525 195 531 190.1Z"/>
<path fill="#f6dd29" d="M540.1 188 545 187.6 553 188.9 560 193 563 198.3 563.9 204 565.4 208 521.9 208 523 201 525.6 196 531 191Z"/>
<path fill="#f6e028" d="M539 189 544 188 553 189.4 560 193.7 562.6 199 563.4 208 523.8 208 524.2 202 526.3 197 531.2 192Z"/>
<path fill="#f5e327" d="M541.2 189 545 188.5 553 189.9 559.6 194 562 199 561.5 208 525.7 208 525.7 202 527.9 197 532 192.6Z"/>
<path fill="#f5e626" d="M543.9 189 553 190.4 559.7 195 561.5 201 559.4 208 527.7 208 527 204 527.7 200 531.8 194 535.1 192Z"/>
<path fill="#f5e924" d="M542.2 190 545 189.4 552 190.6 559 194.9 560.9 201 557.9 208 529.9 208 528.8 205 528.9 201 531.6 196 534.9 193Z"/>
<path fill="#f5ec22" d="M544 190 552 191 558.3 195 560.3 200 560 202 558 204.7 557.8 208 532 207.5 530.3 202 532.2 197 535 193.9Z"/>
<path fill="#f5ef21" d="M542.9 191 545 190.4 552 191.5 558 195.5 559.7 200 558 203.2 557.7 208 536 208 533.7 206 531.9 202 533 198 536 194.3Z"/>
<path fill="#f6f11e" d="M544.5 191 552 192 557.7 196 559 200 557.8 203 557.6 208 536.2 208 536 204.6 533.6 202 533.8 199 536.5 195Z"/>
<path fill="#f7f41c" d="M543.5 192 545 191.4 552 192.5 557 196.1 558.3 200 557.5 208 536.3 208 536 202.4 534.8 201 535.1 199 537 195.7Z"/>
<path fill="#f8f719" d="M544.7 192 552 193.1 556.9 197 557.7 200 557.4 208 536.5 208 535.9 200 537.1 197Z"/>
<path fill="#f9fa16" d="M544.3 193 552 193.9 556.1 197 557.2 201 557.3 208 536.6 208 536.8 201 538 197Z"/>
<path fill="#f9fb15" d="M544.1 196 546 195.1 550 195.7 553.5 198 555 201.4 557 202.5 557.2 208 536.8 208 537 202.5 538.4 202 540 198.9Z"/>
<path fill="#f9fb15" d="M545.6 198 549 198.1 551 199.2 554 204 557 205 557 208 536.9 208 537 205 540 204 542.5 200Z"/>
<path fill="none" stroke="#2f4fe6" stroke-width="1.05" d="M450 86 461 86 472 97 484 99.5 495 99.5 506.4 92.7 517.7 88 529 86 540 86 547 90.4 551.8 95 556.3 99.5 561 108.6 565.4 117.6 567.6 126.7 572 135.8 574.5 143.6 579 152.7 581 164 583.5 175.4 588 186.7 590 193.5 591 200M450 147 463 147 464.6 155.8 468 165.8 475.3 173 485.4 178.7 494 177.3 501 171.6 508.3 165.8 515.5 162.2 521 161.5 529 159.5 540.4 158.4 551.8 159.5 560.8 164 567.6 170.8 572 180 576.7 189 579 197 579 200M503.5 200 504 197 506.4 186.7 515.5 178.8 529 175.4 540.4 174.2 551.8 175.4 560.8 178.8 570 184.5 573 197 573 200M512.5 200 513 197 520 189 529 184.5 540.4 183.3 554 185.6 563 190 567.6 197 568 200M537 200 538 197 545 192.4 551.8 193.5 556.3 197 557 200M450 181 462.4 181.6 465.3 188.8 468 197 468 200"/>
<path fill="none" stroke="#2249f5" stroke-width="1.2" d="M460 10.6 L562 3.4 L615 3.2M572.5 13.2h7.6M576.3 16.3h12.1M571.1 19.7h13.8M574.5 23.7h10.4M573.5 27.2h11.9M578.1 33.9h7.9M591.4 18.5h8.7M592.1 24.2h5.7M587.3 29h12.5M596.2 33.8h7M591.2 38.8h12.8M590.3 44.1h13.6M593.8 49.1h6.3M594.6 53.4h6.7M595.3 59h6M593.3 63.6h5.7M593.7 69.4h8.5M591.1 74.2h11M605.1 5.6h13.1M606.6 7.9h11.7M606.8 10h10.5M607.1 12.6h10.5M605.7 16.7h12.3M604.2 17.7h12.7M603.5 21.3h7.8M608.4 23.3h7.4M607.2 34.5h11.9M607.2 36.3h13.6M606.5 38.6h10.5M604.9 40.3h8.6M605.5 41.9h8.6M609.6 43.8h7.2M607.2 49.9h8.3M604.5 51.9h7.5M609.7 56.5h5.4M610 59.8h7.7M606.1 62.5h13.8M604.3 66.3h7.9M610.2 67.4h5.8M608 76.6h5.2M609.5 80.4h8.5M607.5 85.4h6.2M604.4 90.3h10.2M606.8 92.2h9M602.5 94.4h11.6M607.1 95.9h9.5M460.3 89.1h6.1M462.3 89.6h7.6M460.7 94.4h13.9M467.4 95.5h17.5M477.2 97.4h11.8M484.5 99h15.1M493 97h5.4M496.4 98.4h7.8M504.9 90.1h16.3M507.2 88.6h16.4M516 89h8.3M519.5 84.8h16.6M531.5 86.7h13M534.5 89.2h14.5M541.3 92.8h8M546.8 93.7h6.8M553.2 100.1h7.4M548.3 104h15.3M560.1 112.3h5.3M560.8 114.2h7.5M561.1 125.8h8.9M562.4 126.8h13.3M564 130.1h14.8M564.3 132.7h15.5M569.7 135.9h7.2M571.4 147.4h6.9M575.2 154.3h6.4M576 170.8h10.2M466 122 472 124 480 128.5 489 133M462 88 464 94 463 100 465 106 463 112M490 102 500 104 510 100M528 98 540 100 548 98M463.7 123h11.2M470.6 126.8h10M476.8 128.1h9.9M483.4 134h9.3M459.2 91.6h7.3M459.8 95.1h7.8M460.3 100.1h6.3M459 107.9h11.7M459 111.2h8.2M490 103.9h6.8M496.1 105.2h8.3M501.7 100.5h10.2M525.6 99.7h11.8M531.8 98.6h13.1M541 98.9h8.3M470 90H520M480 94H540M465 98H505M520 88H560M500 100H545M462 104H480M540 93H562M470 126H495M478 131H500"/>
<g fill="none" stroke="#2249f5" stroke-width="1"><ellipse cx="492" cy="17" rx="9" ry="3.5"/><ellipse cx="512" cy="18" rx="6" ry="2.5"/></g>
<path d="M462 195.2H470" stroke="#1433e8" stroke-width="1.6" fill="none"/>
<text class="n" x="463.5" y="196.5">60</text>
<g class="n"><text transform="translate(459.8 87.7) rotate(53)">20</text><text x="460.1" y="82.7">20</text><text transform="translate(457.1 92.7) rotate(-8)">20</text><text transform="translate(464.5 97.3) rotate(32)">20</text><text transform="translate(462.2 92.3) rotate(-22)">20</text><text transform="translate(464.5 102.3) rotate(17)">20</text><text x="474" y="102.3">20</text><text transform="translate(472.6 97.3) rotate(14)">20</text><text transform="translate(474.9 107.3) rotate(-19)">20</text><text transform="translate(480.2 101.6) rotate(21)">20</text><text transform="translate(481.6 96.6) rotate(-3)">20</text><text transform="translate(482.3 106.6) rotate(6)">20</text><text transform="translate(488.9 104.2) rotate(-13)">20</text><text transform="translate(486.4 99.2) rotate(30)">20</text><text transform="translate(489 109.2) rotate(17)">20</text><text transform="translate(496.5 104.1) rotate(-32)">20</text><text transform="translate(498.4 99.1) rotate(-6)">20</text><text transform="translate(499.4 109.1) rotate(-3)">20</text><text transform="translate(501.2 99.9) rotate(-29)">20</text><text transform="translate(499.9 104.9) rotate(8)">20</text><text transform="translate(507.3 94.5) rotate(-20)">20</text><text transform="translate(505.8 89.5) rotate(-8)">20</text><text transform="translate(509 99.5) rotate(-16)">20</text><text transform="translate(513.6 94.4) rotate(-27)">20</text><text transform="translate(512.8 89.4) rotate(21)">20</text><text transform="translate(512.2 99.4) rotate(12)">20</text><text transform="translate(522.1 93.2) rotate(-30)">20</text><text transform="translate(523.7 88.2) rotate(5)">20</text><text transform="translate(524.7 98.2) rotate(21)">20</text><text transform="translate(525.3 90.6) rotate(-5)">20</text><text x="526" y="95.6">20</text><text transform="translate(535.5 89.8) rotate(-22)">20</text><text transform="translate(537.8 84.8) rotate(24)">20</text><text transform="translate(539.2 87) rotate(49)">20</text><text transform="translate(539.5 82) rotate(-29)">20</text><text transform="translate(538.9 92) rotate(-3)">20</text><text transform="translate(550.9 95.3) rotate(65)">20</text><text transform="translate(549.9 90.3) rotate(-25)">20</text><text transform="translate(550.8 100.3) rotate(29)">20</text><text transform="translate(555 100.1) rotate(71)">20</text><text transform="translate(556.3 108.3) rotate(60)">20</text><text transform="translate(560.1 109.9) rotate(85)">20</text><text transform="translate(563.9 118) rotate(69)">20</text><text transform="translate(563.1 127.5) rotate(62)">20</text><text transform="translate(567.5 130.6) rotate(69)">20</text><text transform="translate(571 138.1) rotate(60)">20</text><text transform="translate(571.9 146.7) rotate(63)">20</text><text transform="translate(574.3 149.9) rotate(73)">20</text><text transform="translate(577.5 160.1) rotate(58)">20</text><text transform="translate(577.3 165.9) rotate(75)">20</text><text transform="translate(578.4 172.4) rotate(56)">20</text><text transform="translate(583.7 179.5) rotate(75)">20</text><text transform="translate(584.7 184.2) rotate(67)">20</text><text transform="translate(463.7 165.3) rotate(45)">40</text><text transform="translate(482.6 181.8) rotate(-9)">40</text><text transform="translate(503.4 173) rotate(-38)">40</text><text transform="translate(521.7 164) rotate(-14)">40</text><text transform="translate(542.5 161.2) rotate(6)">40</text><text transform="translate(561 167.9) rotate(45)">40</text><text transform="translate(572 185.7) rotate(62)">40</text><text transform="translate(507.5 193.6) rotate(-77)">60</text><text transform="translate(519.5 180.5) rotate(-14)">60</text><text transform="translate(540.2 176.8) rotate(6)">60</text><text transform="translate(560.2 181.5) rotate(32)">60</text><text transform="translate(518.3 194.9) rotate(-49)">80</text><text transform="translate(536.9 185.3) rotate(10)">80</text><text transform="translate(559.2 189) rotate(57)">80</text><text transform="translate(540.3 198.6) rotate(-33)">100</text><text transform="translate(579.9 11.5) rotate(-64)">0</text><text transform="translate(577.8 18.5) rotate(-65)">0</text><text x="579.7" y="25.5">0</text><text transform="translate(579 32.5) rotate(-61)">0</text><text transform="translate(595.2 21.5) rotate(-75)">0</text><text transform="translate(596.5 31.5) rotate(-64)">0</text><text x="595.2" y="41.5">0</text><text transform="translate(595.1 51.5) rotate(-52)">0</text><text x="596.1" y="61.5">0</text><text transform="translate(596.7 71.5) rotate(-63)">0</text><text transform="translate(610.7 8.5) rotate(-71)">0</text><text transform="translate(609.4 12.5) rotate(-62)">0</text><text x="609.9" y="16.5">0</text><text transform="translate(609.7 20.5) rotate(-59)">0</text><text transform="translate(610.6 24.5) rotate(-74)">0</text><text transform="translate(610.3 32.5) rotate(-59)">0</text><text transform="translate(611.1 36.5) rotate(-74)">0</text><text transform="translate(609 40.5) rotate(-53)">0</text><text transform="translate(609.5 48.5) rotate(-71)">0</text><text transform="translate(608.9 52.5) rotate(-68)">0</text><text transform="translate(609.2 56.5) rotate(-60)">0</text><text transform="translate(609.9 60.5) rotate(-59)">0</text><text transform="translate(609.5 64.5) rotate(-67)">0</text><text x="610.8" y="68.5">0</text><text transform="translate(611 72.5) rotate(-73)">0</text><text x="610.4" y="76.5">0</text><text transform="translate(610 80.5) rotate(-69)">0</text><text x="610.5" y="84.5">0</text><text transform="translate(611.1 88.5) rotate(-56)">0</text><text x="609.7" y="92.5">0</text><text transform="translate(610.6 96.5) rotate(-52)">0</text><text transform="translate(465.5 10.5) rotate(-49)">0</text><text x="464" y="14.5">20</text><text transform="translate(473.5 15.5) rotate(-51)">0</text><text transform="translate(487.5 10.5) rotate(-60)">0</text><text transform="translate(490.5 20.5) rotate(-66)">0</text><text transform="translate(498.5 23.5) rotate(-53)">0</text><text transform="translate(511.5 14.5) rotate(-51)">0</text><text transform="translate(521.5 10.5) rotate(-49)">0</text><text x="509" y="20.5">20</text><text x="516" y="23.5">20</text><text transform="translate(549.5 12.5) rotate(-59)">0</text><text transform="translate(553.5 10.5) rotate(-59)">0</text><text transform="translate(464.8 124.3) rotate(18)">20</text><text transform="translate(471 126.4) rotate(29)">20</text><text transform="translate(477.1 130) rotate(27)">20</text><text transform="translate(483.4 133.1) rotate(27)">20</text><text transform="translate(459.2 87.7) rotate(72)">20</text><text transform="translate(465.6 100.2) rotate(-81)">20</text><text transform="translate(459.7 98.4) rotate(72)">20</text><text transform="translate(466.1 111) rotate(-72)">20</text><text transform="translate(464.3 116.2) rotate(-72)">20</text><text transform="translate(489.1 104.5) rotate(11)">20</text><text transform="translate(497.6 107.8) rotate(-22)">20</text><text transform="translate(504.1 105.2) rotate(-22)">20</text><text transform="translate(527.2 100.5) rotate(9)">20</text><text transform="translate(534.1 101.6) rotate(9)">20</text><text transform="translate(542 102.2) rotate(-14)">20</text></g>
<text x="580.8" y="182.5" class="l">(d)</text>
</g>
<text x="470.0" y="41.3" class="t">c5e0</text>
<text x="569" y="37.8" class="s">1<tspan dx="7.3">cm</tspan></text>
<rect x="573" y="41.8" width="38.5" height="2" fill="#fff"/>
<clipPath id="ce"><rect x="1" y="201.4" width="153" height="193.3"/></clipPath>
<g clip-path="url(#ce)">
<rect x="-11" y="189" width="177" height="218" fill="#3479fd"/>
<path fill="#317dfb" d="M100 195 166 194.7 166 407 -11 407 -11 203.1Z"/>
<path fill="#2f80fa" d="M96.5 197 166 196.5 166 407 -11 407 -11 204.9Z"/>
<path fill="#2e83f9" d="M93 199 104 198.2 166 198.2 166 407 -11 407 -11 206.6Z"/>
<path fill="#2e85f8" d="M103.5 200 166 200 166 407 -11 407 -11 208.1Z"/>
<path fill="#2d88f6" d="M95.8 201 104 200.4 166 200.4 166 407 -11 407 -11 208.7Z"/>
<path fill="#2d8af4" d="M101.7 201 166 200.9 166 407 -11 407 -11 209.2Z"/>
<path fill="#2d8df2" d="M93.9 202 104 201.3 166 201.4 166 407 -11 407 -11 209.7Z"/>
<path fill="#2c8ff1" d="M99.7 202 166 202 166 407 -11 407 -11 210.1Z"/>
<path fill="#2b91ef" d="M91.9 203 104 202.1 146 202.1 151.3 203 151.7 265 152.8 301 154 303.5 166 305.1 166 407 -11 407 -11 210.5Z"/>
<path fill="#2994ed" d="M97.8 203 148.7 203 149 264 150.2 301 154 308.6 166 310.3 166 407 -11 407 -11 210.9ZM27 213.8 24.9 215 26.6 216 31 216.4 35.3 216 37 215 34 213.7Z"/>
<path fill="#2896eb" d="M103.9 203 146 203 146.4 263 147.7 301 154 313.5 166 315.4 166 407 -11 407 -11 211.6ZM26 212.8 22 214 21.3 215 25 216.8 31 217.3 37 216.8 40.3 215 39.7 214 36 212.8Z"/>
<path fill="#2698ea" d="M92.1 205 104 204.2 140 204.2 142.7 205 143.1 262 144.9 301 149 310.3 154 318.3 166 320.3 166 407 -11 407 -11 212.5ZM24 211.8 19.4 213 17.3 215 18.1 216 22 217.4 31 218.3 40 217.3 42.9 215 42 213 38 211.9 31 211.3Z"/>
<path fill="#269be8" d="M51.5 210 61 210.1 74 212.5 139 212.9 140 268 141.8 301 148.4 315 154 322.9 166 325 166 407 -11 407 -11 213.9 3 213.3 11.2 217 17 218.7 25 219.7 36 219.8 42 218.7 44 216.8 47 211.2Z"/>
<path fill="#259de7" d="M51.1 212 56 211.5 62 212.7 65.4 215 65.6 217 63 219.4 59 220.6 53 220.8 48 219.7 46 218 46.3 215 48 213.1ZM69.1 235 89 234.9 136 236.5 137.3 283 139 302 144 313.5 148.5 321 153 326.5 154 327.5 166 329.6 166 407 -11 407 -11 237Z"/>
<path fill="#249fe5" d="M50.5 213 55 212.3 60 213 63.4 215 63.6 217 62 218.4 58 219.7 50 219.2 47.8 218 47 216 48.4 214ZM65.7 254 87 253.4 131 258.2 134.4 296 135.2 301 139 311.1 147 324.5 154 332 166 334.1 166 407 -11 407 -11 260.3 21 258.6Z"/>
<path fill="#22a1e4" d="M53.1 213 60 213.7 62.1 215 62.2 217 60 218.5 56 219.3 52 219 49 217.8 48.2 217 48.5 215ZM70.4 267 79 266.1 88 266.7 115 272.2 127 276 130.4 301 133.3 308 141 322.3 147.8 331 154 336.5 166 338.5 166 407 -11 407 -11 282.1 24 276.5 60 268.6Z"/>
<path fill="#21a3e3" d="M51 214 58 213.6 60.9 215 61.4 216 59 218.2 53 218.7 49.2 217 49.4 215ZM78.1 275 86 275.5 109 281.7 116 284.7 122.5 289 123.8 291 125.6 301 128.7 309 142 330.5 148.3 337 154 341 166 342.9 166 407 -11 407 -11 303 13 292.1 29 288.3 63 277.7Z"/>
<path fill="#1fa5e2" d="M52.6 214 57.7 214 60.5 216 58 218 52.1 218 49.8 216ZM74.9 282 80 281.3 84 281.7 106 288.4 110.9 291 121 301.6 123.7 309 127.9 317 137.9 332 143 338.1 148 342.4 153 345.1 166 347.1 166 407 -11 407 -11 328.3 -5 324 7.4 308 15 301.8 20 299.7 32 296.4 65 284.2Z"/>
<path fill="#1ea7e1" d="M51.4 215 56 214.2 58.9 215 59.6 216 58 217.5 54 217.9 51.2 217 50.7 216ZM74.9 287 79 286.1 83 286.4 104 293.4 106.8 295 119 309.7 131.8 331 141 343.1 149 348.4 154 350 161.9 351 166 352.9 166 407 -11 407 -11 351.1 2.4 345 14.5 335 14.9 334 12.5 320 13.4 315 15.5 311 18.4 308 22 305.9 34.7 302 67 288.8Z"/>
<path fill="#1ca9df" d="M52.5 215 56 214.6 58.6 216 57 217.3 54 217.5 51.6 216ZM79.3 290 82 290.2 92 294.2 102 297.2 104.7 299 110.5 308 118 316.7 136 345.4 141.4 351 151 366.9 158 373.8 166 377.9 166 407 -11 407 -11 369.3 -1 363.6 12 353 24.2 337 25.8 332 19.3 319 19.4 316 20.8 313 24 310.5 36 306.5 68 292.7Z"/>
<path fill="#1aabdd" d="M54.7 215 57.5 216 55 217.1 52.7 216ZM76.2 294 81 293.2 102 301.3 107.2 310 121.6 329 128.8 342 133.9 353 141 378 146 388.4 150 394.1 155 398.8 160 401.8 166 404 166 407 -11 407 -11 385.6 4 373.5 14 362.8 19.7 356 30 338.3 31.8 331 24 318.5 23.7 317 24.4 315 38 309.8 69 295.9Z"/>
<path fill="#18addb" d="M54.7 216 55.3 216ZM79 296 80 295.2 90 300 93 300.3 99.9 303 105 312 116.7 327 121.8 335 125.9 343 126 345 129.8 355 130 359 130.8 360 131 364.1 131.9 366 133 381 133.9 382 134 387 135 388 135 393 136 394 136 400 137 401 137 407 -5.9 407 -6 396 -5 394 10 378 13.1 373 17 369 19.1 365 24 359 31.3 344 34 340 34.1 336 35 335 35.1 331 36 330 30.1 323 27 317 30 315.3 38 313 49 307.2 58 304 69 298.3Z"/>
<path fill="#15afd9" d="M79.9 296 90 300.3 99 302.7 100 303.7 104.6 312 118.4 330 125.4 343 129.6 356 131.6 366 132.8 381 135.6 394 135.8 400 136.8 401 136.9 407 -5.9 407 -5.7 396 1.5 387 10.3 378 22.3 362 34.3 340 36.3 330 30.8 323 27.6 317 38 313.4 70 298.5Z"/>
<path fill="#12b1d7" d="M77.3 297 80 296.4 90 300.7 99 303.3 104.3 312 119.3 332 125 343 129.2 356 131.4 367 132.7 381 135.4 395 135.7 400 136.6 401 136.8 407 -5.8 407 -5.4 396 2.8 386 10.6 378 22.5 362 34.5 340 36.6 330 29.9 321 28.2 318 28.5 317 39 313.4 70 299Z"/>
<path fill="#0eb2d4" d="M79.7 297 99.2 304 103.9 312 119 332 124 341.7 128.1 353 131.2 367 132.5 381 135.5 400 136.5 401 136.7 407 -5.7 407 -5.1 396 10.8 378 23.5 361 34.8 340 36.9 330 29 317.8 40 313.5 71 299.2Z"/>
<path fill="#09b4d1" d="M79 298 80.6 298 99 304.9 103.2 312 118 331.1 123 340.4 128 353.4 130 362.4 135.3 400 136.5 402 136.6 407 -5.6 407 -5 396.4 10.5 379 24.6 360 34.7 341 37.4 330 30.1 318 40 314.4 71 300Z"/>
<path fill="#06b5ce" d="M79.4 299 98 305 103.1 313 118 332 123 341.3 128 354.5 130 363.7 135.2 400 136.4 402 136.6 407 -5.5 407 -5 397.2 -3.1 396 11 379 24.4 361 35.4 341 38.2 330 31.7 319 71 301.2Z"/>
<path fill="#03b7cc" d="M76.4 301 80 300.2 97.3 306 118 333.2 123.8 344 128 356.2 130.3 367 135 400 136.2 402 136.5 407 -5.4 407 -5 398.2 -2.8 397 11 380 25.7 360 36.2 341 39.1 329 33.9 320 34.4 319 72 302.1Z"/>
<path fill="#01b8c9" d="M78.7 302 96.3 307 116.4 332 122 341.8 127 354.2 130 366.9 134.6 400 136.1 402 136.4 407 -5.3 407 -5 399.6 -2 397.8 25.8 361 37.2 341 40.4 329 36.2 320 72 303.8Z"/>
<path fill="#01bac6" d="M77.7 304 80 303.7 96 308.9 116 332.8 121 341.4 126.7 355 129 364.4 134.2 400 136 402.1 136.3 407 -5.2 407 -5 401.2 -1 398.7 26.7 361 37.8 342 41.9 329 38.8 321 73 305.2Z"/>
<path fill="#03bbc3" d="M77.8 306 80 305.8 94.6 310 114 331.8 121 343 126.1 355 129 366.4 133.8 400 134.7 402 136 402.8 136.2 407 -5.1 407 -5 403.3 -2 401.9 0 399.9 6.4 390 27.7 361 39.2 342 43.6 330 43.4 326 41.9 322 53.6 316 73.9 307Z"/>
<path fill="#07bcbf" d="M78.8 308 93 311.4 112 331 120 343 125.3 355 128.6 367 133.4 401 136 403.8 136.2 407 -5 407 -5 406 -2 404.5 1 401.5 8 390.1 28.8 361 40.1 343 45.6 330 45.3 323 56.7 317 74 309.3Z"/>
<path fill="#0cbdbc" d="M76.7 311 79 310.5 92 313.7 111 331.7 119 343.3 124.9 356 128 367 132.8 401 134 403.6 136 405.2 136.1 407 -0.9 407 2 403.7 16.4 380 41.9 343 47.6 331 48.6 324 55.9 320Z"/>
<path fill="#12beb9" d="M75.9 314 79 313.3 90 315.5 100 323.1 109 331.5 118 343.7 124 356 127.3 367 132.4 402 134 405.4 135.6 407 2.9 407 9.9 393 17.1 381 44 343 50.3 331 52 325Z"/>
<path fill="#18bfb6" d="M76.2 317 79 316.3 88 317.8 98 324 110 334.6 118 345.9 123 356 127 368.4 131.7 403 133 407 6.2 407 10.1 397 18.6 381 45.6 344 52.9 332 55.1 327Z"/>
<path fill="#1dc0b3" d="M77.1 320 79 319.6 86 320.5 98 326.6 109 335.7 116.6 346 122.3 357 126.4 369 130.2 394 130.9 407 9.3 407 11.6 399 20 381.4 26.2 372 48.2 344 58.1 329 62 326.6Z"/>
<path fill="#23c1af" d="M76.3 324 79 323.1 83 323.3 98 329.2 108 337 115.6 347 121.6 358 125.9 370 129.6 396 129.9 402 128.8 407 12.6 407 14.1 399 20.3 384 27.8 372 61.3 331Z"/>
<path fill="#27c2ac" d="M78.4 327 83 327.2 98 331.8 107 338.5 114.6 348 120.9 359 125.1 370 127.2 381 129.1 400 128.6 403 127 405.8 126 407 16 407 16.4 400 22 384.2 28.9 373 45 353.7 64.7 333Z"/>
<path fill="#2ac3a9" d="M76.2 332 78 331.2 83 331.1 97 333.9 105.9 340 113.4 349 120 359.8 124.4 371 126.4 381 128.2 400 127.8 402 126 404.1 125.9 407 19.9 407 19 403.4 19.1 400 23.6 385 30 374.1 46.7 355 67 336.4Z"/>
<path fill="#2dc4a5" d="M82.7 335 95 335.8 104 340.9 112 349.8 118.7 360 123.5 371 125.7 381 127.3 400 126 402.3 125.9 407 25.5 407 24.1 406 22.2 403 22.1 399 25.5 385 31.4 375 48 356.8 69 340 77 336Z"/>
<path fill="#30c5a2" d="M82.7 339 95 338.4 103 342.7 110.8 351 117.9 361 122.5 371 124.9 381 126.2 396 125.8 407 27.1 407 27 403.2 25.3 402 24.7 400 27.2 386 32.8 376 40 367.6 50 358.2 71 343.5 76 341Z"/>
<path fill="#32c69e" d="M85 342 86 341.1 96 341 102 344.1 110.9 353 114 358 116.9 361 122.7 373 124 381 124.8 382 125 393 125.9 395 125.8 407 27.1 407 27.1 396 28 395 28.1 388 31.2 381 36.1 374 47 363.1 48 363 55 357.1 58 356 60 354.1 72 347 78 344.1 80 344 83 342.1Z"/>
<path fill="#35c79a" d="M85.3 342 87 341.3 96 341.3 102 344.3 110.7 353 116.7 361 121.8 371 124.6 382 124.9 393 125.7 395 125.7 407 27.2 407 27.3 397 28.1 395 28.3 389 29.3 385 33.2 378 37.3 373 52 359.3 72 347.2 83 342.3Z"/>
<path fill="#38c896" d="M85.7 342 96 341.5 102 344.5 109.6 352 116.5 361 121.7 371 124.4 382 125.7 407 27.2 407 27.5 397 29.5 385 33.4 378 37.5 373 52 359.5 72 347.4Z"/>
<path fill="#3cc992" d="M86.1 342 95 341.5 102 344.7 109.4 352 116.3 361 121.5 371 123.5 378 125.4 395 125.6 407 27.3 407 27.6 398 29.7 385 33.6 378 38.6 372 52 359.7 72 347.6Z"/>
<path fill="#3fca8e" d="M87.5 342 95 341.7 102 344.9 109.2 352 116.1 361 121.4 371 123.3 378 125.3 395 125.6 407 27.4 407 27.8 398 29.9 385 33.7 378 39.7 371 51 360.7 60 355 74 346.8Z"/>
<path fill="#44cb89" d="M89.6 342 95.7 342 101.7 345 109 352.1 117.1 363 121.2 371 123.2 378 125.2 396 125.5 407 27.4 407 27.9 398 30 385.1 33.9 378 40.8 370 51 360.8 72.1 348 84 342.9Z"/>
<path fill="#49cb85" d="M92.7 342 95.1 342 101.2 345 108.5 352 116 361.4 121.1 371 124.1 384 125.5 407 27.5 407 30 385.5 34.1 378 41.9 369 51 361 72.7 348 84.7 343Z"/>
<path fill="#4fcc80" d="M87.2 343 95 342.5 101 345.3 109 352.9 116 361.8 121 371.1 123 378.5 124.1 385 125.4 407 27.6 407 30 385.9 35 377.1 41 370.3 51.5 361 63 354 73.5 348Z"/>
<path fill="#55cc7c" d="M92.8 343 95 343.1 101 345.9 108 352.4 115.9 362 120 369.7 123 379.1 123.9 385 125.4 407 27.6 407 30.3 386 35 377.5 42 369.7 52 361 72.7 349 85 343.9Z"/>
<path fill="#5bcc77" d="M90 344 95 343.9 101 346.7 108 353.1 116 362.9 120.8 372 123 379.9 125.3 407 27.7 407 27.9 402 28.8 400 30.8 386 35 378 42 370.1 52 361.6 73.9 349 85 344.7Z"/>
<path fill="#61cd71" d="M88.8 345 94 344.5 100.1 347 108 354 116 363.8 120.5 372 123 380.8 125.3 407 27.8 407 28 401.8 29.2 400 31 386.6 35.5 378 42 370.8 52 362.2 66.2 354 76 349 86 345.3Z"/>
<path fill="#67cd6c" d="M89.4 346 94 345.6 100 348.1 107 354 115 363.1 120 371.7 122.7 381 125.2 407 27.8 407 28 402.6 29.5 401 31.9 386 36 378.1 42.5 371 52 362.9 66 355 76 350 86 346.4Z"/>
<path fill="#6dcd67" d="M91.9 347 94 346.9 99 348.8 106 354.3 114 362.7 119 370.8 123 384.6 125.2 407 27.9 407 28 403.7 30.2 401 32.1 387 36 379 43.4 371 53 363.1 68 355 85.1 348Z"/>
<path fill="#74cc62" d="M86.8 349 93 348.4 98.4 350 106 355.7 114 364 119.1 372 122 381.2 125.1 407 28 407 28 405.2 30 403.3 30.9 401 33 387 36.8 379 43 372.4 55.1 363 75 353Z"/>
<path fill="#7bcc5d" d="M85.9 351 93 350 97 351.1 105 356.5 113 364 118.8 373 121.4 381 123.5 400 125 403.2 125.1 407 28.9 407 31.6 402 33.9 387 37.1 380 40 376.5 54 364.7 74.1 355Z"/>
<path fill="#82cc58" d="M85.8 353 93 352 97 353.1 104 357.5 113 365.7 118.1 373 121 381.4 122 385.7 123.2 401 125 407 31.7 407 34.7 388 38.1 380 40 377.7 55 365.5 69 358.8Z"/>
<path fill="#88cb53" d="M86.7 355 93 354.3 100 356.8 110.2 364 117 372.7 121.5 386 122.7 400 121.5 407 34.3 407 33.9 400 35.6 389 38.7 381 41 378 52 368.9 56 366.5 69 360.6Z"/>
<path fill="#8fcb4e" d="M89.1 357 94 357 101 359.6 110 365.6 116.7 374 121 386 122.2 400 121 403.1 120.9 407 37.6 407 35.2 402 35.6 395 37.3 388 41 379.5 53 369.8 56.3 368 69 362.5Z"/>
<path fill="#96ca49" d="M87.7 360 92 359.6 99 360.8 109 366.5 116 374.7 120.4 386 121.7 400 120.9 407 39.1 407 39 404.3 36.8 402 36.5 399 38.4 389 42 380.2 54 371 57 369.5 70 364.3Z"/>
<path fill="#9cc944" d="M87.7 363 98 362.9 108 367.7 115 375.1 119.9 387 120.9 395 120.8 407 39.1 407 39 401.8 37.9 400 38.3 396 43 381.1 56 371.8 70 366.6Z"/>
<path fill="#a3c83f" d="M90 366 92 365.2 98 365.1 106 368.2 114.7 376 119.5 387 120.7 396 120.7 407 39.2 407 39.2 398 40.2 393 43.2 383 46 380.3 56 373.3 68 369.3 82 367 83 366.3Z"/>
<path fill="#a9c73a" d="M92.8 366 97 365.5 106 368.8 114.1 376 119.3 388 120.4 396 120.7 407 39.3 407 40.5 394 43.7 383 45 381.6 56 374.1 66 370.5 79 367.6Z"/>
<path fill="#afc636" d="M85.9 367 98 366.3 107 369.9 113.6 376 118.8 387 120.2 396 120.6 407 39.4 407 40.7 395 44 383.4 45 382.1 57 374 70 369.7Z"/>
<path fill="#b5c533" d="M91 367 97 366.5 106 369.8 113.9 377 118.6 387 120.5 407 39.5 407 41 395 44.6 383 45.7 382 56 374.9 64 372 71 369.8Z"/>
<path fill="#bbc42f" d="M84.8 368 97 367 106 370.4 113 376.4 118.1 386 120.5 407 39.5 407 41.1 396 45 383 57 374.8 71 370.2Z"/>
<path fill="#c1c32c" d="M91.8 368 97 367.7 105 370.6 113 377 118 386.6 120.4 407 39.6 407 39.9 402 41.1 400 42 394 45.1 384 46.9 382 57 375.3 63.4 373 71 370.7Z"/>
<path fill="#c7c12a" d="M85.4 369 97 368.3 105 371.2 112.3 377 118 387.7 120.3 407 39.7 407 40 402.4 41.3 401 42.4 394 46.4 383 56.6 376 61.8 374 71 371.2Z"/>
<path fill="#ccc028" d="M96 369 105 371.9 113 378.6 118 388.8 120.3 407 39.8 407 40 403.3 41.8 401 42.9 394 46 384.2 49.7 381 57.7 376 71 371.7 81.4 370Z"/>
<path fill="#d2bf27" d="M89.2 370 97 369.8 100 370.7 105 372.7 112 378.1 117.7 389 120.2 407 39.9 407 40 404.4 42.4 401 43.1 395 46.3 385 49.1 382 57 376.9 64 374.2 78.2 371Z"/>
<path fill="#d7be28" d="M83.1 371 97 370.5 104.1 373 111.1 378 117 387.5 118.9 401 120 402.7 120.1 407 40 407 40 405.9 42.7 402 43.6 395 46.8 385 48.6 383 58 377 63.2 375 72 372.6Z"/>
<path fill="#dcbd29" d="M79.1 372 97 371.3 104 373.7 111 378.7 117 388.5 120.1 407 41.1 407 43.1 403 44.4 394 48.3 384 57.3 378 62 376Z"/>
<path fill="#e1bc2b" d="M93.1 372 97 372.1 103 374.1 112 380.5 117 389.6 118.4 402 120 407 43 407 44.9 394 48 385.2 50.2 383 58 378.3 65 375.6 80 372.5Z"/>
<path fill="#e5bb2d" d="M81.7 373 98 373.1 103.1 375 111 380.3 116.8 390 117.9 396 117.7 407 44.7 407 45.2 395 48.3 386 49.8 384 58 378.9 64 376.4Z"/>
<path fill="#eabb30" d="M78.3 374 98 374 103 375.8 111 381 116 388.8 117.5 395 117.6 401 116 407 46.4 407 45.2 402 45.5 396 48.9 386 50 384.6 58 379.6 64 377Z"/>
<path fill="#eeba34" d="M76.2 375 86 374.3 98 374.8 103 376.8 111 381.8 116 389.6 117.2 395 117.4 400 116 403.4 115.9 407 48.7 407 46.6 404 45.7 400 46.6 394 50.4 385 64 377.6Z"/>
<path fill="#f2ba38" d="M74.3 376 80 375.1 96 375.3 102 377.1 110 381.7 114 386.8 116 390.7 117.1 400 116 402.3 115.9 407 49.1 407 49 405 46.4 401 46.6 397 51 385.3 64 378.3Z"/>
<path fill="#f6ba3b" d="M78.4 376 98 376.5 110.7 383 115.4 390 116.6 395 116.8 400 116 401.6 115.8 407 49.1 407 49 403.5 47.1 401 47.3 396 50.6 387 52 385.1 65 378.5Z"/>
<path fill="#f9bb3d" d="M76.6 377 81 376.5 98 377.4 110 383.1 115.4 391 116.5 400 115.8 407 49.2 407 49 402.3 47.6 400 47.9 396 52 385.9 65 379.2Z"/>
<path fill="#fcbc3d" d="M74.9 378 80 377.2 97 378.1 110 383.8 115.1 391 116.1 396 115.7 407 49.3 407 49.1 402 48.2 400 48.5 396 52.8 386 65 379.9Z"/>
<path fill="#febe3c" d="M79.3 378 97 379 110 384.6 114.8 391 115.9 396 115.6 407 49.3 407 49.1 396 53 386.7 65 380.6Z"/>
<path fill="#fec13a" d="M77.5 379 81 378.4 96 379.6 109 384.3 114.5 391 115.6 396 115.6 407 49.4 407 49.6 396 53.5 387 66 380.8Z"/>
<path fill="#fec438" d="M79.7 379 97 380.3 109 384.6 114.2 391 115.4 396 115.5 407 49.5 407 50.1 396 54 387.2 66 381.3Z"/>
<path fill="#fec636" d="M76.2 380 81 379.4 97 380.6 109 384.9 114 391.3 115.2 396 115.5 407 49.6 407 50.5 396 54 387.9 66 381.8Z"/>
<path fill="#fec934" d="M79.1 380 97 380.9 109 385.3 114 392.3 114.9 396 115.4 407 49.6 407 51 396 54.6 388 66 382.3Z"/>
<path fill="#fdcc32" d="M76.3 381 81 380.4 97 381.3 109 385.7 113.2 391 114 393.3 115.4 407 49.7 407 50 402 51.2 400 51.5 396 55 388.4 66 382.9Z"/>
<path fill="#fccf31" d="M79.7 381 97 381.7 108.8 386 112.8 391 114 394.3 115.3 407 49.8 407 50 402.6 51.5 401 52.1 396 55.3 389 66 383.5Z"/>
<path fill="#fbd22f" d="M77.3 382 81 381.5 97 382.2 108 385.8 113 392.2 115.1 402 115.3 407 49.8 407 50 403.6 52 401.4 52.8 396 56 389.2 66.6 384Z"/>
<path fill="#fad52e" d="M75 383 81 382.1 96 382.5 107.8 386 113 393.3 115 402 115.2 407 49.9 407 50 404.7 52.5 402 53.4 396 56.2 390 67 384.5Z"/>
<path fill="#f9d72c" d="M78.9 383 96 383 108 386.6 112 391.7 113 394.3 114 401 115 402.6 115.1 407 50 407 52.8 403 54.1 396 57 390.1 67 385.2Z"/>
<path fill="#f8da2b" d="M76.9 384 96 383.5 107 386.4 112 392.6 113.2 396 113.6 401 115 403.6 115.1 407 51.6 407 53.4 404 54.5 397 57.1 391 67 386Z"/>
<path fill="#f6dd29" d="M83.6 384 96 384 107.4 387 111.2 392 112.5 395 115 407 53.4 407 55.1 397 58.1 391 68 386.5Z"/>
<path fill="#f6e028" d="M79.1 385 96 384.5 106.7 387 110.8 392 112.5 396 113.9 407 55 407 55.9 397 58.2 392 68 387.2Z"/>
<path fill="#f5e327" d="M89.6 385 96 385 105 386.6 107 387.6 112.2 396 112.6 401 111.6 407 56.5 407 56.4 398 59.2 392 71 387.1 80 385.6Z"/>
<path fill="#f5e626" d="M83.6 386 96 385.6 105 387 106.9 388 111.8 396 112.3 401 110.9 407 58.2 407 56.9 399 58.1 395 60 392.4 71 387.9Z"/>
<path fill="#f5e924" d="M80.3 387 95 386.1 106 387.8 111.4 396 112 400 111 402.9 110.8 407 60 406.7 58 403.2 57.5 400 60 393.3 70 389Z"/>
<path fill="#f5ec22" d="M87.8 387 96 386.7 106 388.3 111 396 111.7 400 110.7 407 61.1 407 61 405.4 59 403.1 58.2 400 59.3 396 61 393.6 72 389.2Z"/>
<path fill="#f5ef21" d="M84.8 388 93 387.2 105 388.1 108.9 393 110.9 397 111.4 400 110.6 407 61.2 407 61 403.8 59.4 402 59 400 61 394.6 72 390Z"/>
<path fill="#f6f11e" d="M90.4 388 96 387.8 105.6 389 110.5 397 110.5 407 61.3 407 61 402.5 59.7 400 60.9 396 62 394.8 72 390.8Z"/>
<path fill="#f7f41c" d="M87.9 389 93 388.4 105 389 110.2 397 110.4 407 61.5 407 60.5 400 62 395.8 73 391.4Z"/>
<path fill="#f8f719" d="M92.7 389 105 389.6 109.7 397 110.3 407 61.6 407 61.2 400 63 396.1 73 392.2Z"/>
<path fill="#f9fa16" d="M90.3 390 104.3 390 109.1 397 110 400 110.2 407 61.7 407 61.8 401 63 397 73 393Z"/>
<path fill="#f9fb15" d="M87.5 393 93 392.1 103 392.1 107.1 398 108 401.4 110 402.5 110.1 407 61.8 407 62 402.5 64 401.4 65 399 74 395.4Z"/>
<path fill="#f9fb15" d="M90.6 395 102 394.9 104.7 399 106 403 108 404.6 110 405 110 407 62 407 62 405 65 404 68 400.4 75 397.7Z"/>
<path fill="none" stroke="#2f4fe6" stroke-width="1.05" d="M-5 395 2.4 386 9.7 378.6 17 369 24.3 359 29.2 349.5 34 340 36 330 30 322 27 317 39 312.8 48.6 308 60.8 303 70.5 298.2 80.2 295.8 90 300 99.7 303 104.5 311.6 111.8 321.3 119 331 125.2 343 128.9 354.3 131.3 366.5 132.5 378.6 135 393 136 400M27.5 400 28 395.6 29.2 386 34 377.4 41.3 369 51 360.4 60.8 354.3 73 347 85 342 94.8 341 102 344.6 109.4 352 116.7 361.6 121.6 371.3 124 381 125.2 395.6 125.3 400M39.5 400 40 395.6 43.8 382.3 56 373.8 70.5 369 85 366.5 97.3 365.3 107 369 114.3 376 119 386 120.3 395.6 120.4 400M49.5 400 49.8 395.6 53.5 387 65.6 381 80.2 378.6 97.3 380 109.4 384.7 114.3 390.8 115.5 395.6 115.6 400M62 400 63 397 73 393 92.4 389.6 104.5 389.6 109.4 397 110 400"/>
<path fill="none" stroke="#2249f5" stroke-width="1.2" d="M-1 208.6 L101 201.4 L154 201.2M142.6 205.7h12.1M139.2 212.4h13.8M140.1 214.6h9.2M142.7 216.2h8.5M142.3 217.4h9.6M143.9 220.2h12.6M143.5 221.6h13.7M143.2 223.8h13.6M146 226.3h9.7M140.6 228h9.2M142.2 229.6h5.8M145.2 232.1h6.6M138.8 236.2h12M139 240.2h13.2M142.7 242.6h5.6M141.1 246h10.8M140.9 248.3h13.6M143.8 250.7h13.3M141.4 252h12.8M147.8 254.1h5.8M139.5 255.8h11.7M140.4 258.2h9.2M141.4 259.6h8.4M144.8 263.8h10.3M142.1 265.9h10.5M140.5 268.6h8.8M142.9 269.9h11.4M146.4 271.4h5.3M140.3 273.8h13.6M143.4 275.7h7.4M144.3 278.7h5.7M141.9 279.3h9.3M141.4 288.5h10.3M142.7 289.8h7.7M139.3 292.6h11.9M146.5 298.6h6.3M143.8 300.5h5.9M144.8 303.7h6.4M116.1 241.5h9.2M133.4 288.6h7M115.8 274.6h10.5M111.9 217.4h8.3M137.2 223.7h8.3M109.8 277h12M110.3 207.7h11.4M115.5 260.3h7.3M127.9 228.8h9.2M109.6 261.7h13.8M141.8 287.1h9.8M123.6 235h9.3M132.9 281.2h6.5M139.6 225.3h9.3M141.8 284h7.4M126.9 234.7h9.6M123.1 289.7h5.3M135.7 218h9.6M127.3 289.8h11.6M125 227.6h7.8M109.5 267.6h11.6M115.2 235.2h12.5M138.7 217.6h8.1M109.5 207.2h13.2M109.1 253.4h12.3M138.3 262.7h9.7M129.3 233.1h13.8M109 263.4h13.4M116.1 237.6h6M110.1 239.3h9.5M117.6 239.3h9.8M113.5 230.9h12M117.7 207.2h7.5M123.5 232.4h13.6M107.3 213.2h12.9M111.5 204.2h5.2M132.2 234.8h10.5M132 289.9h13.4M124.8 208.9h11.9M121.1 215.8h6.1M110 251.2h10.7M121.9 210.9h8.3M133.2 231.8h11.5M132.3 215.5h8.4M119.4 264.9h10.5M118.2 228.4h10.7M118.8 270h8.5M123.8 224.6h12.1M134 251.5h9.4M113.4 237.4h5.1M121.2 258.2h12.6M110.7 245.5h10.1M124.1 283.2h8.9M142.4 245.1h7.7M132.6 245.5h9.3M129.3 211.5h5.5M116.9 285.2h13.4M134.7 248.1h9.7M143.5 259.2h6.9M140.4 252.4h9.1M115.4 233h8.7M112.3 244.3h12.3M122.7 238.7h10.8M138.1 210.4h5.3M111.4 231.3h8.9M138.4 207.5h12M132.6 236.4h7.7M110.9 216h13.9M136.3 294.4h11.6M128.4 274.2h5.7M131.3 281.7h13.3M130.4 273.9h7.4M125.8 289.5h11.8M129.1 276.7h9.5M141.8 285.9h5.4M133.8 272.5h11.6M139.5 277.6h11.4M142.6 286.4h8.5M130.7 277.4h6.2M137.3 271.4h13.4M129.2 277.2h10.1M129.2 288.2h9.7M128.8 278.2h5.3M141.8 290.2h5.8M3.6 382.1h8.1M6.9 379.8h9.3M8 376.8h16.1M10.2 370.3h9.6M15 366h5.8M9.9 364.4h13.7M20.4 355.9h9.3M14.4 354.6h17.1M25.2 338.7h16.8M29.2 334.5h7.1M30.8 333.9h6.6M28.2 314.9h8M37 311.1h5.9M38.6 310.6h6.4M32.3 310.5h16.5M41.2 307.9h11.8M44.8 304.4h9.5M45.2 305.9h14.1M55.3 304.1h13.5M60.4 299.2h10.1M63.5 302h14.7M67.4 298.1h16.7M68.3 297.8h8.8M79.5 296.3h6.4M89.9 301.7h7.3M97.9 305.3h8.6M95.9 312.9h13M102.6 314h8.5M104.8 318.3h17.7M109.3 324.7h15.5M106.8 325.7h18M116.2 331.6h5.5M106.3 333.2h17.2M115.7 335.3h9.4M120.8 345.5h8.8M122.2 346.4h6.6M123.3 357h15M123.3 371.2h14.1M124.1 381.5h16.9M24 323 32 327 39 329 48 325.5M25 318 31 320M20.5 324.9h12.8M29.3 326.8h6.9M35.1 327.7h7.9M40.2 327.8h9.8M24 319.6h9.5M25 316H60M30 322H55M50 302H85M60 298H100M85 304H110M20 328H40"/>
<g fill="none" stroke="#2249f5" stroke-width="1"><ellipse cx="31" cy="215" rx="11" ry="4"/><ellipse cx="55" cy="216" rx="6" ry="2.5"/></g>
<path d="M1 394.2H27.5" stroke="#1433e8" stroke-width="1.6" fill="none"/>
<text class="n" x="2.5" y="395.5">60</text>
<g class="n"><text transform="translate(13.3 379.3) rotate(-53)">20</text><text transform="translate(19.5 373.6) rotate(-71)">20</text><text transform="translate(26.1 356.8) rotate(-60)">20</text><text transform="translate(30.8 350.3) rotate(-75)">20</text><text transform="translate(37 342.3) rotate(-82)">20</text><text transform="translate(36.8 336.6) rotate(-78)">20</text><text transform="translate(22.3 316.9) rotate(60)">20</text><text transform="translate(20.7 311.9) rotate(4)">20</text><text transform="translate(21.5 321.9) rotate(15)">20</text><text transform="translate(28.9 318.4) rotate(-17)">20</text><text transform="translate(29.5 323.4) rotate(18)">20</text><text transform="translate(39.1 317.3) rotate(-50)">20</text><text transform="translate(39.7 312.3) rotate(-15)">20</text><text transform="translate(36.3 322.3) rotate(27)">20</text><text transform="translate(43 311) rotate(-6)">20</text><text transform="translate(43.2 306) rotate(28)">20</text><text transform="translate(40.2 316) rotate(-8)">20</text><text transform="translate(51.9 307.8) rotate(-30)">20</text><text transform="translate(53.4 302.8) rotate(-4)">20</text><text transform="translate(54.7 312.8) rotate(-25)">20</text><text transform="translate(59.2 303.8) rotate(-10)">20</text><text transform="translate(57.7 308.8) rotate(-6)">20</text><text transform="translate(67.1 303.8) rotate(-16)">20</text><text transform="translate(67.5 308.8) rotate(-9)">20</text><text transform="translate(72.6 298.7) rotate(-7)">20</text><text transform="translate(71.8 293.7) rotate(-9)">20</text><text transform="translate(79.7 298.9) rotate(15)">20</text><text x="79.1" y="293.9">20</text><text transform="translate(87.2 303.9) rotate(4)">20</text><text transform="translate(85.4 298.9) rotate(-6)">20</text><text x="95.7" y="305.4">20</text><text transform="translate(93.5 300.4) rotate(4)">20</text><text transform="translate(100.2 308.6) rotate(40)">20</text><text transform="translate(101.4 303.6) rotate(-8)">20</text><text transform="translate(106 314.2) rotate(74)">20</text><text transform="translate(107.7 309.2) rotate(6)">20</text><text transform="translate(108.9 319.2) rotate(21)">20</text><text transform="translate(112 325.9) rotate(54)">20</text><text transform="translate(111.8 320.9) rotate(-28)">20</text><text transform="translate(109.1 330.9) rotate(-8)">20</text><text transform="translate(118.5 333.6) rotate(77)">20</text><text transform="translate(121.5 340.4) rotate(73)">20</text><text transform="translate(123.9 345.9) rotate(80)">20</text><text transform="translate(127.5 356.5) rotate(79)">20</text><text transform="translate(128.4 366) rotate(58)">20</text><text transform="translate(128.2 372.6) rotate(68)">20</text><text transform="translate(129.2 378.9) rotate(75)">20</text><text transform="translate(129.7 386.9) rotate(77)">20</text><text transform="translate(30.9 393.3) rotate(-83)">40</text><text transform="translate(39.3 375.2) rotate(-49)">40</text><text transform="translate(55 361) rotate(-32)">40</text><text transform="translate(73.3 349.7) rotate(-23)">40</text><text transform="translate(92.2 342.6) rotate(27)">40</text><text transform="translate(108.5 355.1) rotate(53)">40</text><text transform="translate(119.3 372.9) rotate(76)">40</text><text transform="translate(43.2 393.7) rotate(-74)">60</text><text transform="translate(54.2 378.2) rotate(-35)">60</text><text transform="translate(73.6 371.1) rotate(-10)">60</text><text transform="translate(94.2 366.9) rotate(21)">60</text><text transform="translate(111.6 376.3) rotate(65)">60</text><text transform="translate(53.6 393.2) rotate(-67)">80</text><text transform="translate(70.8 382.8) rotate(-9)">80</text><text transform="translate(93.4 381.3) rotate(21)">80</text><text transform="translate(83.5 393.8) rotate(-10)">100</text><text x="146.6" y="210.5">0</text><text transform="translate(147.1 214.5) rotate(-72)">0</text><text transform="translate(147.8 218.5) rotate(-50)">0</text><text transform="translate(148 222.5) rotate(-56)">0</text><text transform="translate(146.8 226.5) rotate(-67)">0</text><text transform="translate(148.2 230.5) rotate(-69)">0</text><text transform="translate(146.5 234.5) rotate(-58)">0</text><text transform="translate(147.8 238.5) rotate(-69)">0</text><text transform="translate(147 242.5) rotate(-64)">0</text><text transform="translate(148.3 246.5) rotate(-75)">0</text><text transform="translate(146.5 250.5) rotate(-68)">0</text><text transform="translate(146.6 254.5) rotate(-51)">0</text><text transform="translate(147.3 258.5) rotate(-62)">0</text><text transform="translate(147.6 262.5) rotate(-52)">0</text><text transform="translate(147.8 266.5) rotate(-58)">0</text><text transform="translate(147.3 270.5) rotate(-72)">0</text><text transform="translate(148.1 274.5) rotate(-60)">0</text><text transform="translate(148.3 278.5) rotate(-75)">0</text><text transform="translate(146.6 282.5) rotate(-66)">0</text><text transform="translate(147.6 286.5) rotate(-54)">0</text><text transform="translate(146.9 294.5) rotate(-58)">0</text><text x="146.6" y="298.5">0</text><text transform="translate(114.3 267.5) rotate(-59)">0</text><text transform="translate(122 259.2) rotate(-62)">0</text><text transform="translate(135.1 216.3) rotate(-57)">0</text><text x="117.8" y="257.1">0</text><text transform="translate(133.2 286.9) rotate(-65)">0</text><text transform="translate(121.2 222.2) rotate(-63)">0</text><text transform="translate(123.6 290) rotate(-73)">0</text><text x="136.2" y="218.2">0</text><text transform="translate(135.3 227.2) rotate(-72)">0</text><text transform="translate(117.3 265.2) rotate(-59)">0</text><text transform="translate(140.5 227.3) rotate(-56)">0</text><text transform="translate(118.9 247.3) rotate(-57)">0</text><text transform="translate(120.4 272.1) rotate(-60)">0</text><text transform="translate(123.4 289.2) rotate(-56)">0</text><text x="137" y="231.5">0</text><text transform="translate(137.4 246.7) rotate(-68)">0</text><text transform="translate(141.4 224.8) rotate(-75)">0</text><text x="128.3" y="243.9">0</text><text transform="translate(124.8 237) rotate(-57)">0</text><text transform="translate(129.2 272.5) rotate(-71)">0</text><text transform="translate(131.2 216.9) rotate(-72)">0</text><text transform="translate(124.3 237.7) rotate(-59)">0</text><text x="128.6" y="246.8">0</text><text transform="translate(113.4 259.2) rotate(-58)">0</text><text transform="translate(133.4 233.1) rotate(-70)">0</text><text x="137.5" y="211.7">0</text><text transform="translate(133.2 216.6) rotate(-68)">0</text><text transform="translate(126.2 285.4) rotate(-64)">0</text><text x="120.3" y="221.5">0</text><text transform="translate(112.1 292.6) rotate(-66)">0</text><text transform="translate(126.7 225.3) rotate(-61)">0</text><text transform="translate(140.3 267.5) rotate(-60)">0</text><text x="133.6" y="242.4">0</text><text x="138.1" y="255.9">0</text><text transform="translate(144.7 295) rotate(-59)">0</text><text x="129.7" y="285.3">0</text><text transform="translate(130 293) rotate(-71)">0</text><text x="140" y="297.6">0</text><text transform="translate(131.5 280.6) rotate(-62)">0</text><text transform="translate(140.2 279.3) rotate(-67)">0</text><text transform="translate(134.5 283.4) rotate(-66)">0</text><text x="135.7" y="295.4">0</text><text transform="translate(12.5 213.5) rotate(-62)">0</text><text transform="translate(25.5 208.5) rotate(-56)">0</text><text transform="translate(31.5 215.5) rotate(-52)">0</text><text transform="translate(41.5 216.5) rotate(-60)">0</text><text transform="translate(50.5 209.5) rotate(-65)">0</text><text transform="translate(60.5 208.5) rotate(-48)">0</text><text x="53" y="218.5">20</text><text transform="translate(88.5 209.5) rotate(-73)">0</text><text transform="translate(94.5 206.5) rotate(-63)">0</text><text transform="translate(90.5 215.5) rotate(-69)">0</text><text transform="translate(84.5 221.5) rotate(-63)">0</text><text transform="translate(22.3 325) rotate(27)">20</text><text transform="translate(28.3 328.6) rotate(16)">20</text><text transform="translate(36.3 332.8) rotate(-21)">20</text><text transform="translate(42.4 330.5) rotate(-21)">20</text><text transform="translate(24.3 320.5) rotate(18)">20</text></g>
<text x="126.8" y="380.4" class="l">(e)</text>
</g>
<text x="9.2" y="239.4" class="t">c5e5</text>
<text x="108" y="235.8" class="s">1<tspan dx="7.3">cm</tspan></text>
<rect x="112" y="239.8" width="38.5" height="2" fill="#fff"/>
<clipPath id="cf"><rect x="155" y="201.4" width="153" height="193.3"/></clipPath>
<g clip-path="url(#cf)">
<rect x="143" y="189" width="177" height="218" fill="#3479fd"/>
<path fill="#317dfb" d="M252.8 195 320 194.7 320 407 143 407 143 203.1Z"/>
<path fill="#2f80fa" d="M249 197 258 196.4 320 196.5 320 407 143 407 143 204.8Z"/>
<path fill="#2e83f9" d="M245.2 199 258 198.1 320 198.2 320 407 143 407 143 206.6Z"/>
<path fill="#2e85f8" d="M256.1 200 320 200 320 407 143 407 143 208.1Z"/>
<path fill="#2d88f6" d="M249.4 201 258 200.4 320 200.4 320 407 143 407 143 208.7Z"/>
<path fill="#2d8af4" d="M255.4 201 320 200.9 320 407 143 407 143 209.2Z"/>
<path fill="#2d8df2" d="M247.4 202 258 201.3 309.9 202 320 208.4 320 407 143 407 143 209.6ZM185 214 187.5 214Z"/>
<path fill="#2c8ff1" d="M253.4 202 272.7 202 320 232.3 320 407 143 407 143 210.1ZM182 212.9 180.7 214 184 215.4 189 215.4 191.7 214 190.9 213 188 212.3Z"/>
<path fill="#2b91ef" d="M231.5 204 240.2 204 271 222.8 305 245.4 308 303.1 320 309.9 320 407 143 407 143 210.5ZM181 211.9 178.4 213 177.9 214 179 215.2 183 216.3 191 216.1 193.7 215 194.3 214 193 212.4 190 211.5Z"/>
<path fill="#2994ed" d="M208.3 206 220 206.2 225 207.4 230 209.7 233.1 213 234 218 235.8 220 263 236 303 264.4 305.1 301 308 314 320 321 320 407 143 407 143 210.9ZM187 210 178 211.2 175 213 174.7 214 178 216.3 185 217.5 193 216.9 196.3 215 196.4 213 195 211.3 192 210.3Z"/>
<path fill="#2896eb" d="M205 208 211 207.2 218 207.5 223 208.6 227.8 211 229.5 214 227 217.5 220 220.4 209.7 222 209.5 223 229 230.3 241 237.6 255 244.5 292.7 273 301 280.3 303 303.3 306.8 320 308 322.9 320 330.7 320 407 143 407 143 211.6 169.6 210 169.2 214 171.1 216 174 217.3 184 219.3 196 219.8 198 218.9 199 210.5Z"/>
<path fill="#2698ea" d="M205.7 209 213 208.1 220 208.7 225.7 211 227.4 214 225 216.9 220 218.8 213 219.5 206 218.7 202 217 200.3 214 201.3 211ZM143 217 162 226.8 179 233.3 187 234.3 211 234.7 219 236.1 226 238.6 237 245.5 245 248.4 252 252.3 260 259.2 268 264.7 290.7 284 299.6 295 303 318 308 331 314 335.9 320 339.4 320 407 143 407Z"/>
<path fill="#269be8" d="M209.4 209 215 208.7 221 209.7 225 211.8 225.9 214 223 216.8 216 218.6 209 218.3 202.9 216 201.7 214 202.2 212 205 210.1ZM143 240 161 245.6 187 247.9 189 248 199 244.2 207 242.4 214 242.2 221 243.5 228 246.7 234.9 252 242 253.8 248 256.8 282 285 292.4 298 297.6 306 301 322.7 307.2 338 312 342.5 320 347.3 320 407 143 407Z"/>
<path fill="#259de7" d="M207.3 210 213 209.2 219 209.7 223 211.3 224.7 214 222.9 216 219 217.5 213 218 208 217.4 204.5 216 203 214 203.5 212ZM208.9 248 215 247.5 221 248.7 227 251.7 232 256.5 239 257.7 245 260.4 253 267.7 260 272.5 281.3 292 288.2 302 296 316.6 301.5 335 304.6 342 308 346.7 313.7 351 320 361.4 320 407 143 407 143 260.1 151 261.6 159 261.5 179 257.2 194 255.8 202 250.5Z"/>
<path fill="#249fe5" d="M209.5 210 214 209.6 219 210.2 222.8 212 223.6 214 221 216.3 215 217.6 209 217.1 204.6 215 204.1 213 204.7 212ZM211 252 216 251.6 221 252.8 226 255.8 230 260.4 238 261.4 243 263.5 250 270.2 258 275.8 277.7 294 284.2 304 289.3 314 295 326.6 300.7 344 304.9 351 320 383.8 320 407 143 407 143 276.7 159 274.2 181 264 198 260.9 204.2 255Z"/>
<path fill="#22a1e4" d="M207.6 211 213 210 218 210.4 221.8 212 222.6 214 221 215.6 218 216.7 210 216.8 207 215.8 205.1 214 205.8 212ZM213.5 255 218 255.2 222 256.8 225 259.3 228 263.5 237 264.4 241.1 266 248 272.7 255.7 278 275 296 281.2 306 293 332 296.9 346 318.5 407 143 407 143 292.5 153 285.7 165 280.4 183 268.7 201 264.7 207 257.7Z"/>
<path fill="#21a3e3" d="M209.1 211 213 210.4 218 210.9 220.7 212 221.7 214 220 215.5 217 216.5 210 216.3 206 214 206.9 212ZM212.8 258 217 257.7 220.5 259 223 261.1 226 266 236 266.9 240 268.4 246 274.5 253.9 280 272.9 298 278.4 307 289.9 334 300.5 371 307.7 400 308.2 407 143 407 143 318.3 148 310.3 152.4 298 154.7 294 158 290.7 168 285 184 272.7 188 270.9 203 267.7 208 261Z"/>
<path fill="#1fa5e2" d="M210.9 211 218 211.3 220 212.3 220.8 214 219 215.4 215 216.3 211 216.1 207.9 215 207 213ZM216 260 220.6 262 225 268.3 236 269.2 239 270.4 244.2 276 252 281.4 269.1 297 275.5 307 286.8 334 296.4 371 301.9 400 301.1 407 143 407 143 341.9 151 333.6 154.8 325 158 301 159.2 297 162 293.5 170.8 288 186.2 275 197 271.6 205 270.1 210.6 262 213 260.5Z"/>
<path fill="#1ea7e1" d="M209.1 212 216 211.3 219 212.3 219.8 214 216 215.8 211 215.7 207.9 214ZM212.8 263 216 262.1 218.7 263 223.1 270 236 271.2 238 272.2 243.4 278 250.7 283 268 298.9 273.6 308 284.5 335 293.3 372 297.6 400 297 404 295.2 407 143 407 143 360.9 151 350.1 159 334.5 161.4 324 161.1 317 162.3 301 163.1 298 165 295.6 173 290.4 188 277 206.5 272Z"/>
<path fill="#1ca9df" d="M210.5 212 217 211.9 218.8 213 218.9 214 216 215.4 211 215.2 208.9 214 208.9 213ZM214.9 264 218.2 265 222 271.9 235 272.9 237 273.7 242 279.2 249.1 284 266.5 300 272 309.1 282.6 336 290.5 372 294.2 400 293.4 403 290 405.5 290 407 143 407 143 380.7 154 359.5 163.4 336 165.5 324 164.8 317 165.9 299 174 293 190 278.4 208 273.8 213 265.5Z"/>
<path fill="#1aabdd" d="M212.5 212 216 212.2 217.7 213 217.8 214 214 215.1 210 214 210 213ZM214.7 266 216 265.5 217 266.2 221 273.4 236 274.9 241 280.5 248 285.2 265.1 301 270.5 310 280.6 336 288.2 372 291.4 400 290 402.2 289.9 407 145.8 407 143.2 404 143 399 151.4 382 167 336 168.5 324 167.7 317 168.2 300 176 294.2 191 280.1 209 275.4Z"/>
<path fill="#18addb" d="M211.5 213 215 212.6 216.3 213 216.4 214 213 214.5 211.4 214ZM215.1 268 216 267.1 216.8 268 220 275 235 276 240.9 282 246 285.2 264 302 268.8 309 273.8 321 276 330 279.7 337 284 361 284.8 362 285 366 285.8 367 286 371 286.8 372 288 388 288.9 390 289 400 289.9 401 289.8 407 149.1 407 149.1 401 150 400 152.1 392 154 389 154.1 387 156 383 158.2 372 161 365 162.2 359 166 349 166.2 346 169 338 170.3 325 171 324 170.1 321 170 301 177 296 192 281.2 201 278.3 210 277Z"/>
<path fill="#15afd9" d="M215.8 268 220 275.4 235 276.4 240.3 282 247 286.5 264 302.3 269.4 311 273.5 321 275.8 330 279.5 338 286.6 373 288.6 391 288.8 400 289.8 401 289.8 407 149.2 407 149.3 401 150.3 400 156.3 383 158.4 373 169.3 338 171.3 324 170.3 317 170.5 301 177 296.4 192 281.6 201 278.9 210 277.4Z"/>
<path fill="#12b1d7" d="M215.7 269 220 275.7 235 276.9 239.7 282 247 286.8 264 302.7 269 311 273.1 321 275.6 330 279.2 338 286.4 373 289.7 407 149.3 407 149.5 401 150.5 400 156.5 383 158.8 373 169.6 338 171.6 324 170.7 317 171 301 177 296.8 192 282.2 198.8 280 210 277.7Z"/>
<path fill="#0eb2d4" d="M215.1 271 216 270.3 219 275.7 220 276.2 234 277.1 235 277.7 239 282.1 247 287.5 264 303 268 309.9 272.1 319 275.4 330 279.1 339 286.1 373 289.6 407 149.4 407 149.8 401 150.8 400 156.8 383 159 373.4 170.3 337 171.9 324 171 317 171.3 302 178 296.7 192 283 210.6 278Z"/>
<path fill="#09b4d1" d="M215.1 273 216 272.5 219 276.9 234.1 278 238.9 283 246.6 288 263.3 303 268 310.7 272 319.8 279 339.7 286 373.9 289.6 407 149.5 407 150 401.1 151.1 400 156.8 384 160 371.3 170.8 337 172.5 324 171.8 317 172.3 302 179 297.1 192.5 284 201 281.1 211 278.9Z"/>
<path fill="#06b5ce" d="M214.7 276 216 275.2 219 278.2 234 279.5 238 283.6 246 288.7 262.4 303 267 310.1 278.1 337 285.6 373 289.5 407 149.6 407 150 401.7 151.7 400 157.2 384 160 372.9 171.5 337 173.4 324 172.8 317 173.4 303 179 298.7 193.4 285 201 282.4 211 280.3 212.8 279Z"/>
<path fill="#03b7cc" d="M214.7 279 216 278.1 219 279.8 233 280.5 237.9 285 245 289.3 262 303.6 267 311.4 278 338.6 285 371.1 288.1 400 289.2 402 289.4 407 149.7 407 150 402.6 151.3 402 152.5 400 172.4 337 174.5 324 174 316.9 175 303.7 194 286.5 212 281.5Z"/>
<path fill="#01b8c9" d="M215.5 281 232.1 282 236.7 286 244 290.2 261 304 266.4 312 270.6 321 278 340.7 285 372.8 287.7 400 289.1 402 289.4 407 149.8 407 150 403.6 152 402.6 153 401 158.6 384 161 373.9 173.4 337 175.7 324 175.5 316 176.6 305 195 288.2 212 283.3Z"/>
<path fill="#01bac6" d="M215.3 284 217 283.3 231.4 284 235.1 287 243.9 292 260.6 305 265.3 312 269.8 321 277 338.9 284.6 373 287.4 400 289 402 289.3 407 149.9 407 150 405 152 404.1 153.7 402 162 373.4 174.3 338 177.3 324 177.3 316 178.6 306 196.3 290Z"/>
<path fill="#03bbc3" d="M216.5 286 230.1 286 242.4 293 259.9 306 264.7 313 276.1 338 284 371.9 287 400 289 402.7 289.2 407 150 407 153 405 154.9 402 162.7 374 175.7 338 179 324 180.9 307 197.8 292Z"/>
<path fill="#07bcbf" d="M216.4 289 229 288.4 241 294.5 259 307 263.9 314 268.1 322 276 340.3 283.9 374 286.6 401 289 403.6 289.1 407 153.3 407 155.9 403 163.8 374 177.2 338 181 324 181.8 316 183.5 308 199 294.5Z"/>
<path fill="#0cbdbc" d="M216.7 292 228 291.3 239.1 296 257 307.4 262.4 314 267 322.2 275 339.6 283.2 373 286.1 401 287 403.2 289 404.8 289.1 407 155.8 407 164.6 375 178.7 339 183.1 325 186.1 310 200.8 297Z"/>
<path fill="#12beb9" d="M217.7 295 226 294.2 238 298.2 256 308.7 261.3 315 274 339.3 280 360.6 282.8 374 285.6 402 289 407 158 407 165.9 375 180.6 339 185.7 325 189.4 311 202.4 300Z"/>
<path fill="#18bfb6" d="M219.8 298 225 297.7 236 300.5 253 309 258.6 314 264 322.3 272.9 339 279.7 362 282.3 375 284.9 402 286.4 407 160.2 407 162 396.2 167 375.8 188.2 326 192.6 313 204 303.3Z"/>
<path fill="#1dc0b3" d="M219.1 302 223 301.4 234 303.3 252 310.9 258 316 263 323.5 271.8 339 279 362 282.7 384 284.3 407 162.4 407 163 399.5 168.4 376 196.2 315 206 306.6Z"/>
<path fill="#23c1af" d="M219.6 306 222 305.7 236 307.4 251.3 313 256.4 317 263 326.4 270.6 339 278.2 362 280.9 375 283.1 393 283.3 401 282.1 407 164.8 407 164.7 400 168.6 380 173.4 368 185.7 343 201 315.6 208 310.3Z"/>
<path fill="#27c2ac" d="M218.4 311 222 310.2 237 311.1 252 316.2 256 319.6 268.7 338 273.2 349 277.4 362 280.1 375 282.6 400 282 403.1 280 407 167.5 407 166.7 400 170 380.8 174.8 369 187 345.7 196.1 331 206 317 210.7 314Z"/>
<path fill="#2ac3a9" d="M222.1 315 239 314.7 252 318.9 258 325.4 267.8 339 276.5 362 279.3 375 281.8 400 280 403.6 279.9 407 170.8 407 170.1 406 168.7 400 171.7 381 176.4 370 189.2 347 199 333 209 321.3 213 318.1Z"/>
<path fill="#2dc4a5" d="M229.9 319 240 318.1 252 321.6 266.8 340 275.9 363 278.4 375 280.8 394 280.9 400 280 401.9 279.9 407 175 407 175 406 172 403.8 170.9 401 173.2 382 178.1 371 191.7 348 201.2 336 211 326.2 216 322.4 224 319.7Z"/>
<path fill="#30c5a2" d="M236.1 322 240 321.3 251 323.8 265.8 341 270.5 351 274.9 363 277 372.8 279.9 394 279.8 407 175.1 407 175 402.6 173.2 400 175.2 382 179.9 372 194 349.5 204 338.5 214 330 219 326.9 226 324.2Z"/>
<path fill="#32c69e" d="M238 325 240 324 243 324.1 244 325 249 325.1 262.9 339 265.9 343 269.9 351 270 353 274.8 364 275 368 275.9 369 277 378 277.8 379 278 386 278.8 387 279.8 407 175.1 407 175.1 392 176 391 176.1 383 181.1 373 195 353 195.1 352 207 340.1 208 340 215 334.1 229 327.1 232 327 233 326Z"/>
<path fill="#35c79a" d="M238.4 325 240 324.3 249 325.3 262.6 339 265.6 343 269.6 351 269.9 353 274.6 364 274.9 368 276.8 374 277.9 386 278.8 388 279.7 407 175.2 407 175.3 393 176.1 391 176.4 383 181.3 373 195.3 352 207 340.4 215 334.4 229 327.4 232 327.2 233 326.3Z"/>
<path fill="#38c896" d="M238.8 325 242 324.7 249 325.5 250 326.4 262.4 339 265.3 343 269.4 351 274.4 364 274.8 368 276.6 374 277.8 386 278.6 388 279.7 407 175.3 407 175.4 394 176.2 391 176.6 383 181.5 373 195.6 352 206 341.5 215 334.8 227 328.5Z"/>
<path fill="#3cc992" d="M239.2 325 249 325.8 250 326.6 264.5 342 269.2 351 274.2 364 276.5 374 278.5 388 279.6 407 175.3 407 175.6 394 176.9 383 181.7 373 195.8 352 206 341.7 217 333.8 227 328.8Z"/>
<path fill="#3fca8e" d="M239.8 325 249 326 250 326.7 264.3 342 269 351 274 364 276.3 374 278.4 388 279.6 407 175.4 407 175.7 394 177.1 383 181.9 373 196.9 351 206 341.9 217 334 227.1 329Z"/>
<path fill="#44cb89" d="M237.4 326 240 325.3 250 326.9 259 336 265 343.7 269 351.4 274.2 365 278.2 388 279.5 407 175.5 407 175.9 394 177.3 383 182 373.2 197 351.2 206.3 342 215.8 335 227.7 329Z"/>
<path fill="#49cb85" d="M238.8 326 243.5 326 250 327.4 263.9 342 269 351.8 274 364.9 276.1 374 278.2 389 278.5 400 279.4 401 279.5 407 175.5 407 176.1 394 177.9 382 183 372 197 351.6 206.8 342 216.5 335 228.7 329Z"/>
<path fill="#4fcc80" d="M237.3 327 240 326.2 249 327.2 263 341.5 268 350.3 273 362.3 276 374.4 278.1 389 278.4 400 279.3 401 279.4 407 175.6 407 178 382.2 182 373.9 197 352 207 342.4 216 335.9 228 329.9Z"/>
<path fill="#55cc7c" d="M239.8 327 249 328 263 342.1 268 351 273 362.8 276 375.1 278 389.2 278.3 400 279.2 401 279.4 407 175.6 407 178 382.9 183 372.8 197 352.7 207 343 216.9 336 229 330.2Z"/>
<path fill="#5bcc77" d="M239.6 328 249 329.2 262.2 342 268 351.8 273 363.6 276 376 279.3 407 175.7 407 178.4 383 183 373.4 197.5 353 207 344 217 336.9 229 331.1Z"/>
<path fill="#61cd71" d="M240.4 329 248 329.8 253 334 262.1 343 268 352.9 272.8 364 275.7 376 279.3 407 175.8 407 179 382.6 183.1 374 198 353.4 208 344.2 218 337.5 229.7 332Z"/>
<path fill="#67cd6c" d="M237.9 331 241 330.3 248 331.4 261 343 267 352.3 272.3 364 275 373.9 278 393.2 278 400 279 401.2 279.2 407 175.8 407 176 402.6 177.7 400 179 384.8 180 381.7 184 373.5 198 354.7 208.7 345 218 338.9 230 333.2Z"/>
<path fill="#6dcd67" d="M240.2 332 247 332.6 253 337.2 261 344.5 268 355.5 272 364.3 275 375.3 277.8 394 277.8 400 279 402 279.2 407 175.9 407 176 403.7 178.2 401 179.8 384 182 378.5 191 364.7 199 354.9 209.5 346 219 339.9 230 334.9Z"/>
<path fill="#74cc62" d="M239.7 334 246 334.2 258 343.3 261 346.4 268 357.1 272 366 275 377.1 277.5 394 277.5 400 279 402.3 279.1 407 176 407 176 405.2 178 403.3 178.9 401 180.4 385 182 380.3 184.5 375 194 362.2 201 354.5 211 346.7 220 341.3 227 338Z"/>
<path fill="#7bcc5d" d="M240.4 336 245 336.1 258 345.2 267 356.9 271 365 274.3 376 277 392.5 277.3 401 279 403.5 279.1 407 176.9 407 179.6 402 181.3 385 183.4 379 185.5 375 194 363.6 202 355.4 212 348.1 227.4 340Z"/>
<path fill="#82cc58" d="M238.4 339 244 338.4 256 345.8 260 349.5 266.6 358 271 367 274 376.8 276.8 394 277 402 279 407 179.7 407 182.5 384 185.2 377 194 365.2 203 356.6 213 349.8 228 342.2Z"/>
<path fill="#88cb53" d="M237.5 342 243 341.2 254 346.8 259 350.7 266 359 271 368.8 274.2 380 276.3 394 276.2 402 275.2 407 182.3 407 182.1 394 183.7 384 186 377.6 194.9 366 204.1 358 214 351.8 228 344.9Z"/>
<path fill="#8fcb4e" d="M237.9 345 241 344.3 244 344.7 253 348.8 258 352.2 265.3 360 270.2 369 273.7 380 275.8 394 274.9 407 185.6 407 183.8 404 183 400 184.7 385 187 378.1 195 367.9 209 357.2 225.6 349Z"/>
<path fill="#96ca49" d="M239.9 348 246 348.6 256 353.1 263.8 360 267 365.1 269.7 370 273 380 275.3 394 274.9 407 187.1 407 187 404.3 185 402.4 184.4 400 186.2 385 187.9 379 196 368.9 209 359.8 230 350.6Z"/>
<path fill="#9cc944" d="M239.1 352 245 351.6 255 355.1 263 361.2 266 365.7 269 370.6 272.5 381 274.7 394 274.8 407 187.1 407 187 401.8 185.9 400 186.2 394 188.9 380 197.2 370 210 362.2 231 354Z"/>
<path fill="#a3c83f" d="M239.3 356 241 355.2 247 355.1 255 357.2 262 362.1 265.7 367 268.8 372 272.5 383 273.8 390 274.7 407 187.2 407 187.3 394 190.3 380 198.2 371 211 364.2 223 361 232 357.2Z"/>
<path fill="#a9c73a" d="M241.8 356 246 355.6 255 358 262 362.8 267.2 370 271.6 380 272.4 384 273.7 391 273.9 400 274.7 401 274.7 407 187.3 407 187.9 394 190.4 381 199 371 212 364.6 233 357.7Z"/>
<path fill="#afc636" d="M245 356 254 358.2 260.1 362 267.4 371 271.3 380 272.4 385 273.7 392 273.8 400 274.6 401 274.6 407 187.4 407 188.3 394 190.8 381 199 371.6 212 365.2 233 358.3Z"/>
<path fill="#b5c533" d="M243.2 357 245 356.7 254.2 359 261 363.3 267 371 271.3 381 273.5 392 274.6 407 187.5 407 188.6 394 191.2 381 199.3 372 212 365.7 233 359Z"/>
<path fill="#bbc42f" d="M241.8 358 245 357.5 254 359.7 260.8 364 266.4 371 271.1 381 273.5 393 274.5 407 187.5 407 189 393.6 191.7 381 200 372.1 212 366.3 233 359.8Z"/>
<path fill="#c1c32c" d="M240.8 359 245 358.4 254 360.7 260 364.2 266 371.3 271 381.4 273.4 393 274.4 407 187.6 407 187.9 402 189 400 189.3 394 192 381.7 200 372.8 212 367 234 360.3Z"/>
<path fill="#c7c12a" d="M240.1 360 245 359.3 253 361.1 259.8 365 265.9 372 271 382.4 273.3 393 274.4 407 187.7 407 188 402.3 189.4 400 189.9 393 192.4 382 200 373.6 212 367.7Z"/>
<path fill="#ccc028" d="M239.7 361 245 360.3 253 362.2 259 365.4 265.2 372 270.4 381 273.2 393 274.3 407 187.8 407 188 403.1 189.7 401 190.4 393 193 382 200.6 374 212 368.5Z"/>
<path fill="#d2bf27" d="M239.5 362 245 361.3 252.4 363 258.4 366 265 372.7 270.1 381 273.1 393 274.2 407 187.9 407 188 404.1 190.2 401 190.8 393 193.6 382 201 374.5 213 369Z"/>
<path fill="#d7be28" d="M239.5 363 245 362.3 252 363.9 258 366.8 264.4 373 270 381.6 273 393 274.2 407 187.9 407 188 405.6 190.5 402 191.3 393 194 382.8 196 380 201.5 375 213 369.8Z"/>
<path fill="#dcbd29" d="M239.8 364 245 363.4 252 365.1 258 368 264 373.5 269.8 382 273 393.6 274.1 407 188.7 407 191 402.4 191.8 393 194.6 383 198 378.9 202.9 375 210 371.7Z"/>
<path fill="#e1bc2b" d="M240.2 365 245 364.6 251 365.8 256 367.9 262.5 373 268 379.4 269.5 382 273 394 274 407 190.7 407 192.6 392 195.2 383 198 379.8 203 375.8 210 372.6Z"/>
<path fill="#e5bb2d" d="M240.8 366 245 365.7 255.8 369 262 373.5 268 380 269.2 382 272.8 394 273 407 192.4 407 192.9 393 196 383 198 380.6 203 376.8 210 373.4Z"/>
<path fill="#eabb30" d="M241.7 367 250 367.9 255 369.8 261 373.6 268 380.6 272.7 394 273 407 194.2 407 192.9 401 193.4 393 196.3 384 198.6 381 204 377.1 210 374.3Z"/>
<path fill="#eeba34" d="M236.9 369 245 368.1 254 370.6 260 373.9 268 381.1 272.6 394 272.9 407 196 407 193.5 401 193.9 394 197 384 198.5 382 204.1 378 210 375.2Z"/>
<path fill="#f2ba38" d="M238 370 244 369.3 253 371.4 259 374.1 268 381.7 272.4 394 272.9 407 196.1 407 196 404.4 194.1 401 194.4 394 197.8 384 199 382.5 210 376.1Z"/>
<path fill="#f6ba3b" d="M239.3 371 245 370.7 257 374.2 267.8 382 272.3 394 272.9 407 196.2 407 196 403 194.6 400 195 394 198.1 385 199.5 383 210 377Z"/>
<path fill="#f9bb3d" d="M240.8 372 248 372.5 257 375.2 267.2 382 271.9 393 272.8 407 196.3 407 196 402 195.2 400 195.6 394 200 383.5 210 377.9Z"/>
<path fill="#fcbc3d" d="M236.6 374 243 373 257 376.2 267 382.3 271.8 393 272.8 407 196.4 407 195.8 400 196.2 394 200.6 384 211 378.6Z"/>
<path fill="#febe3c" d="M238.2 375 243 374.3 257 377.1 267 382.8 271.8 393 272.8 407 196.5 407 196.9 394 201 384.6 211 379.6Z"/>
<path fill="#fec13a" d="M240 376 243 375.4 256 377.5 266.8 383 271.7 393 272.7 407 196.5 407 197.5 394 200.9 386 202 385 211 380.4Z"/>
<path fill="#fec438" d="M236.2 377 243 376 255 377.9 266.5 383 271.6 393 271.9 399 272.7 400 272.7 407 196.6 407 198.3 394 202 385.8 211 381.1Z"/>
<path fill="#fec636" d="M239.1 377 243 376.5 256 378.4 266.1 383 271.6 393 271.9 399 272.6 400 272.7 407 196.7 407 197 401.8 198.7 400 199.3 394 203 386.3 212 381.7Z"/>
<path fill="#fec934" d="M236.6 378 243 377 256 378.8 266 383.2 271.5 393 271.8 399 272.6 400 272.6 407 196.8 407 197 403.1 199.6 401 200.5 394 204 387 212 382.6Z"/>
<path fill="#fdcc32" d="M240.1 378 243 377.6 256 379.2 266 383.5 271.4 393 271.8 399 272.6 400 272.6 407 196.9 407 197 404.7 199 403.9 200.6 402 201.5 395 204.6 388 212 383.6Z"/>
<path fill="#fccf31" d="M238.2 379 243 378.2 256 379.6 266 383.8 271.6 394 272.6 407 197 407 200 405.1 201.6 403 202.8 395 205.5 389 213 384.5Z"/>
<path fill="#fbd22f" d="M241.8 379 256 380.1 266 384.1 271.6 394 272.5 407 200.5 407 203.2 403 204 396 206 390.7 210.7 387 218.6 384Z"/>
<path fill="#fad52e" d="M240.3 380 243 379.6 256 380.6 265.4 384 271.5 394 272.5 407 203 407 204.7 403 205.4 396 207 391.9 211.5 388 219 384.9Z"/>
<path fill="#f9d72c" d="M239 381 243 380.3 255.7 381 265 384.1 271.5 394 272.5 407 205.1 407 208 393.3 212.3 389 220 385.7Z"/>
<path fill="#f8da2b" d="M237.9 382 243 381 252 381.1 256 381.6 265 384.4 271.4 394 272.4 407 207.1 407 208.9 395 210 393 213.3 390 221 386.5Z"/>
<path fill="#f6dd29" d="M241.6 382 255 382 265 384.7 271.4 394 271.5 399 272.4 400 272.4 407 209.1 407 210 396.7 211 394.3 214.3 391 222.8 387Z"/>
<path fill="#f6e028" d="M240.7 383 253 382.3 265 385.1 271.3 394 271.5 399 272.3 400 272.4 407 211 407 211.6 397 215 392.5 222 388.4 231.8 385Z"/>
<path fill="#f5e327" d="M248.5 383 255 383.1 265 385.5 271.3 394 271.4 399 272.3 400 272.3 407 213 407 213.3 397 219.5 391 232 385.8 242 383.5Z"/>
<path fill="#f5e626" d="M245.2 384 255 383.6 265 385.9 271.2 394 271.4 399 272.2 400 272.3 407 215.1 407 214.8 398 220.4 392 232 386.8Z"/>
<path fill="#f5e924" d="M243.3 385 253 384.1 265 386.2 271.2 394 271.3 399 272.2 400 272.3 407 217.2 407 216.4 399 221.3 393 233 387.4Z"/>
<path fill="#f5ec22" d="M249.2 385 255 384.8 265 386.6 271.1 394 271.3 399 272.2 400 272.2 407 219.6 407 218.2 403 218.2 400 223.4 393 233 388.4Z"/>
<path fill="#f5ef21" d="M247.5 386 254 385.3 265 386.9 270 392 271.1 394 271.2 399 272.1 400 272.2 407 222 406.7 220.5 404 220.1 401 224.1 394 234 389Z"/>
<path fill="#f6f11e" d="M251.4 386 264 386.9 270 392.2 271 394 271.2 399 272.1 400 272.2 407 226 407 226 406.1 223 403.9 222.3 400 226 394.1 234 390Z"/>
<path fill="#f7f41c" d="M249.9 387 262.1 387 266 388.5 271 394.2 271.1 399 272.1 400 272.1 407 226.2 407 226 403.4 224.4 402 224 400 226.8 395 234.1 391Z"/>
<path fill="#f8f719" d="M248.9 388 253 387.2 265 388 270 392.7 271 394.6 271.1 399 272 400 272.1 407 226.4 407 225.6 400 227.4 396 235 391.7Z"/>
<path fill="#f9fa16" d="M251.8 388 264 388 267 390 271 395 271 399 272 400 272.1 407 226.6 407 226.7 401 228 397 235 392.9Z"/>
<path fill="#f9fb15" d="M250.2 391 253 390.3 264 390.7 268.1 394 269.7 401 272 402.5 272 407 226.8 407 227 402.5 229 401.4 231 398.1 236 395Z"/>
<path fill="#f9fb15" d="M252.3 393 263 393.1 266.2 396 268 403 270 404.6 272 405 272 407 226.9 407 227 405 230 404 232.7 400 237 397.4Z"/>
<path fill="none" stroke="#2f4fe6" stroke-width="1.05" d="M150 400 156.2 383 158.6 373 162.3 361 166 349 169.6 336.7 171 324 170 317 170 306 170 301 177 296 184 289 191.5 281.7 200 279 210 277 215.8 267 220 275 228 275.7 235 276 240 281.7 247.4 286.6 254.7 294 264.4 302.4 269.3 311 273 320 276 330 279 336.7 281.4 349 283.9 361 286.3 373 287.5 383 288.7 396 289 400M175.5 400 175.7 393.9 176.9 383 181.7 373.2 189 362.3 196.3 351.3 206 341.6 215.8 334.3 228 328.2 240 324.6 249.8 325.8 257 333 264.4 341.6 269.3 351.3 274 363.5 276.6 375.6 279 393.9 279 400M187.5 400 187.8 393.9 190.3 380.5 198.8 370.8 211 364.7 223 361 232.8 357.4 245 355 254.7 357.4 262 362.3 268 370.8 271.7 380.5 274 393.9 274 400M197 400 197.5 393.9 201.2 385.4 211 380.5 228 378 242.5 375.6 257 378 266.8 383 271.7 393.9 272 400M227 400 228 397 235 392.7 252.3 387.8 264.4 387.8 270.5 392.7 271.7 397 272 400"/>
<path fill="none" stroke="#2249f5" stroke-width="1.2" d="M153 208.6 L255 201.4 L308 201.2M287.1 218.7h10.3M288.2 221.3h9.2M285.9 226.1h6M286.8 228.6h13.3M286.4 230.8h10.3M281.6 232.8h10.5M284.2 234.8h6.1M288.4 237.7h9.8M285.7 239.7h5.7M287.6 241.8h6.3M284.9 243.4h5.5M287.9 245.8h10.1M283 248.3h11M282.6 255.4h12.4M281 256.8h12M285.1 259.7h7M288.3 261.2h7.9M286.6 264.2h12.5M283.7 265.7h13M288 268.7h9M286.9 270.2h10.9M283.5 275.3h11.2M285.2 277.9h6.6M285.6 283.8h8.1M283.6 286h9.9M285.7 288.5h9.1M288.6 291.1h9.2M284.3 293.4h9.1M295.2 204.2h13M295.4 205.6h8.3M297.5 207.8h10.9M299.5 213.7h8.4M301.1 215.5h5.3M297.2 218.4h9.3M296.8 219.6h10.6M295.1 221.4h8.5M300.2 223.7h8.6M295.6 230h12.4M294.1 233.4h10.8M301.1 238.4h5.5M299.6 240.1h11.3M298.2 243.5h5.8M294.3 247.4h9.5M300 252.3h8.5M296.9 253.4h11.9M295.7 256.1h9.8M298.8 257.7h7.8M302.7 260h5.1M295.2 262.6h8.9M294.6 264h9.5M298.9 266.3h9M300 268.1h9.4M296.5 269.8h6.4M299.1 272.7h12.1M299.3 273.9h9.5M292.3 275.4h13.7M298.1 290.9h10.7M301 295.5h9.8M302.1 309.4h6.8M297 318.1h12.9M298.2 322.2h12.1M274.7 210.4h6.3M275 220.3h8.8M257 232.2h12M268.6 207.7h10M264.5 234.1h10M270.7 219.2h6.3M276.3 220.1h13.5M267.9 207.9h12.8M266.8 234.5h5.9M278.2 235.4h11.8M263.7 212.7h11.7M275.2 235.5h12M278 212.9h10.7M267.5 209h7.5M275.2 233.9h12.7M273.7 204.9h6.6M270.6 227.5h5.9M255.8 214.8h10.9M265.4 254.4h9.5M275.3 270.8h9.5M282.8 254.4h9.1M269 263.8h9.1M271.1 246.1h7.8M271.8 262.3h9.6M270.7 255.8h6.9M273.8 264.2h5.2M275.4 238.7h13.4M273.5 265.1h8.2M279.8 248.4h7.2M276.3 266.7h11.4M151.7 380.3h10.6M151.1 375.8h8.9M154.1 370.6h13.5M155.4 349.8h12.7M160.4 344.6h10.5M165.8 337.6h15.5M163.3 324.1h12.7M164.9 317.7h10.1M163.7 298.7h14.2M165 295.4h17.6M176.8 293.7h6M179.6 289.2h6.1M174.9 290.7h12.9M179.2 284.7h12.6M182.6 280.5h12.3M192.3 282.9h11.2M193.3 276.3h11M203.6 278.1h6.7M205.4 273.5h7.7M202.5 269.4h17.6M204.5 273.2h17.9M219.6 274.9h6.3M216 274.8h15M225.4 276.7h10.8M224.4 277h16.9M234.9 279.1h14.3M234.9 280.2h16.7M241 284.4h9.6M238.5 286.9h12.8M248.2 289.4h7M249.6 295.1h13.6M249.4 298h14.4M248.5 297.1h15.6M256.3 301.7h11.8M261.3 301.9h11.7M258.8 307.2h9.6M264.3 308.2h10.2M262 317.1h15.8M260 319.6h17.5M271.3 326.9h6.3M276.1 334.8h7M269.2 339.2h15.5M272 342.2h13.3M272.7 347.2h12.5M275.7 348.7h8.2M276.9 351.3h8.1M276.7 363.3h15.8M282.2 366.2h6.7M277.3 373.3h11.7M280.9 373.6h13M276.4 379.8h17.8M280 380.4h16.5M213 268 215 274 216 280 215 285M188 283 193 287 197 292M208.6 271.4h10.3M209.2 274.7h12M210.6 279.2h10.8M211.4 285h7.2M184.8 286.1h10.3M186.7 287.9h13.9M191.1 290.9h11.3M185 278H225M200 276H250M165 290H200M168 299H190M210 271H235M235 283H260"/>
<g fill="none" stroke="#2249f5" stroke-width="1"><ellipse cx="186" cy="214.5" rx="10" ry="4"/><ellipse cx="214" cy="213.5" rx="11" ry="4"/></g>
<path d="M155 394.2H175.5" stroke="#1433e8" stroke-width="1.6" fill="none"/>
<text class="n" x="156.5" y="395.5">60</text>
<g class="n"><text transform="translate(161.3 378.4) rotate(-79)">20</text><text transform="translate(162.6 371.5) rotate(-76)">20</text><text transform="translate(162.3 363.9) rotate(-52)">20</text><text transform="translate(167.6 354.6) rotate(-80)">20</text><text transform="translate(170.7 347.8) rotate(-76)">20</text><text transform="translate(171.8 339.5) rotate(-74)">20</text><text transform="translate(172 331.5) rotate(-81)">20</text><text transform="translate(168.2 317.7) rotate(77)">20</text><text transform="translate(173.7 315.5) rotate(-85)">20</text><text transform="translate(170.9 305.3) rotate(-85)">20</text><text transform="translate(170.9 300.3) rotate(-25)">20</text><text x="168.5" y="310.3">20</text><text transform="translate(175.5 301) rotate(-50)">20</text><text transform="translate(176.3 296) rotate(7)">20</text><text transform="translate(173.6 306) rotate(-15)">20</text><text transform="translate(177.5 296.4) rotate(-28)">20</text><text transform="translate(179.2 291.4) rotate(-6)">20</text><text x="178.5" y="301.4">20</text><text transform="translate(185.9 290.6) rotate(-58)">20</text><text transform="translate(187 295.6) rotate(8)">20</text><text transform="translate(190.4 285.2) rotate(-20)">20</text><text transform="translate(190.3 280.2) rotate(11)">20</text><text x="191.7" y="290.2">20</text><text transform="translate(202.6 278) rotate(8)">20</text><text x="199.6" y="273">20</text><text transform="translate(204.6 283) rotate(16)">20</text><text transform="translate(215.6 278.4) rotate(-78)">20</text><text transform="translate(215.1 283.4) rotate(17)">20</text><text transform="translate(211.4 269.4) rotate(46)">20</text><text transform="translate(226.2 280.4) rotate(-10)">20</text><text transform="translate(229.1 285.4) rotate(-3)">20</text><text transform="translate(233 276.5) rotate(38)">20</text><text x="230.8" y="271.5">20</text><text transform="translate(237.8 283.4) rotate(25)">20</text><text x="236.7" y="278.4">20</text><text transform="translate(240.6 288.4) rotate(-19)">20</text><text transform="translate(245.3 287.5) rotate(59)">20</text><text transform="translate(248.1 282.5) rotate(-9)">20</text><text transform="translate(249.4 293.8) rotate(34)">20</text><text transform="translate(247.8 288.8) rotate(10)">20</text><text transform="translate(256.3 299.6) rotate(44)">20</text><text x="256.5" y="294.6">20</text><text transform="translate(263.4 302) rotate(77)">20</text><text transform="translate(263.8 309.1) rotate(51)">20</text><text transform="translate(263.3 304.1) rotate(-21)">20</text><text transform="translate(267.1 318.9) rotate(48)">20</text><text transform="translate(272.7 321.9) rotate(82)">20</text><text transform="translate(275.8 329) rotate(84)">20</text><text transform="translate(278 345.2) rotate(85)">20</text><text transform="translate(279.3 356.1) rotate(65)">20</text><text transform="translate(281.8 362.3) rotate(70)">20</text><text transform="translate(284.6 369.4) rotate(85)">20</text><text transform="translate(283.8 378.5) rotate(68)">20</text><text transform="translate(283.9 384.4) rotate(85)">20</text><text transform="translate(178.4 393.2) rotate(-84)">40</text><text transform="translate(184.5 373.7) rotate(-56)">40</text><text transform="translate(195.9 355.4) rotate(-45)">40</text><text transform="translate(211.6 340.7) rotate(-37)">40</text><text transform="translate(229.9 330.3) rotate(-17)">40</text><text transform="translate(248.5 328.2) rotate(45)">40</text><text transform="translate(262.7 343.9) rotate(63)">40</text><text transform="translate(271.3 363.4) rotate(78)">40</text><text transform="translate(275.2 384.8) rotate(83)">40</text><text transform="translate(190.5 393.4) rotate(-79)">60</text><text transform="translate(196.8 374.7) rotate(-27)">60</text><text transform="translate(216.4 365.8) rotate(-17)">60</text><text transform="translate(237.1 359.2) rotate(-11)">60</text><text transform="translate(256.1 361.5) rotate(34)">60</text><text transform="translate(267.8 377.5) rotate(69)">60</text><text transform="translate(200.7 393.1) rotate(-66)">80</text><text transform="translate(217.1 382.2) rotate(-8)">80</text><text transform="translate(240 377.8) rotate(9)">80</text><text transform="translate(262.9 380.6) rotate(66)">80</text><text x="247.1" y="390.4">100</text><text x="288.5" y="221.5">0</text><text transform="translate(289.9 226) rotate(-52)">0</text><text transform="translate(288.5 230.5) rotate(-72)">0</text><text transform="translate(290 235) rotate(-60)">0</text><text transform="translate(289.4 239.5) rotate(-55)">0</text><text transform="translate(290.1 244) rotate(-72)">0</text><text transform="translate(289.8 248.5) rotate(-72)">0</text><text transform="translate(289.8 253) rotate(-53)">0</text><text x="289.8" y="257.5">0</text><text x="289.4" y="262">0</text><text x="289" y="266.5">0</text><text transform="translate(288.5 271) rotate(-69)">0</text><text transform="translate(290 275.5) rotate(-63)">0</text><text transform="translate(289.4 280) rotate(-71)">0</text><text transform="translate(290.7 284.5) rotate(-66)">0</text><text transform="translate(289 289) rotate(-56)">0</text><text transform="translate(288.8 293.5) rotate(-57)">0</text><text transform="translate(302.2 206.5) rotate(-62)">0</text><text transform="translate(301.4 210.5) rotate(-54)">0</text><text x="302.5" y="214.5">0</text><text transform="translate(301.5 218.5) rotate(-56)">0</text><text transform="translate(302.4 222.5) rotate(-65)">0</text><text transform="translate(302.4 226.5) rotate(-54)">0</text><text transform="translate(301.8 230.5) rotate(-66)">0</text><text transform="translate(300.6 234.5) rotate(-63)">0</text><text transform="translate(302 238.5) rotate(-55)">0</text><text transform="translate(300.6 246.5) rotate(-54)">0</text><text x="302.6" y="250.5">0</text><text x="301.3" y="254.5">0</text><text transform="translate(301.9 258.5) rotate(-74)">0</text><text transform="translate(300.6 262.5) rotate(-59)">0</text><text transform="translate(302.1 266.5) rotate(-57)">0</text><text transform="translate(301.4 270.5) rotate(-67)">0</text><text transform="translate(301.6 274.5) rotate(-74)">0</text><text transform="translate(302.4 278.5) rotate(-71)">0</text><text transform="translate(302.2 293.5) rotate(-58)">0</text><text transform="translate(302.6 302.5) rotate(-61)">0</text><text transform="translate(303.2 311.5) rotate(-69)">0</text><text x="301.9" y="320.5">0</text><text transform="translate(268.8 221.2) rotate(-68)">0</text><text transform="translate(275.6 209.8) rotate(-63)">0</text><text x="256.9" y="227.7">0</text><text x="267.9" y="235.1">0</text><text transform="translate(274.5 216.7) rotate(-65)">0</text><text x="283.7" y="206.5">0</text><text transform="translate(264.8 215.4) rotate(-56)">0</text><text x="257.3" y="218.8">0</text><text x="271" y="225.1">0</text><text transform="translate(274.7 256) rotate(-68)">0</text><text transform="translate(279.9 252.1) rotate(-72)">0</text><text x="274.9" y="255.4">0</text><text transform="translate(272.6 251.3) rotate(-68)">0</text><text x="272.3" y="257.8">0</text><text transform="translate(278.7 252.3) rotate(-58)">0</text><text transform="translate(162.5 214.5) rotate(-47)">0</text><text transform="translate(168.5 221.5) rotate(-46)">0</text><text transform="translate(179.5 208.5) rotate(-59)">0</text><text transform="translate(186.5 215.5) rotate(-65)">0</text><text transform="translate(200.5 211.5) rotate(-72)">0</text><text transform="translate(214.5 208.5) rotate(-52)">0</text><text x="206" y="216.5">20</text><text x="218" y="216.5">20</text><text transform="translate(240.5 209.5) rotate(-59)">0</text><text transform="translate(240.5 216.5) rotate(-71)">0</text><text transform="translate(246.5 206.5) rotate(-70)">0</text><text transform="translate(210.1 267.5) rotate(72)">20</text><text transform="translate(212 271.7) rotate(81)">20</text><text transform="translate(217.8 284.4) rotate(-79)">20</text><text transform="translate(216.8 289.3) rotate(-79)">20</text><text transform="translate(185.3 284.2) rotate(39)">20</text><text transform="translate(189.2 286.4) rotate(51)">20</text><text transform="translate(192.3 290.3) rotate(51)">20</text></g>
<text x="280.8" y="380.9" class="l">(f)</text>
</g>
<text x="163.0" y="239.4" class="t">c10e0</text>
<text x="262" y="235.8" class="s">1<tspan dx="7.3">cm</tspan></text>
<rect x="266" y="239.8" width="38.5" height="2" fill="#fff"/>
<clipPath id="cg"><rect x="309" y="201.4" width="152" height="193.3"/></clipPath>
<g clip-path="url(#cg)">
<rect x="297" y="189" width="176" height="218" fill="#3479fd"/>
<path fill="#317dfb" d="M405.7 195 473 194.7 473 407 297 407 297 203.1Z"/>
<path fill="#2f80fa" d="M401.8 197 412 196.3 473 196.5 473 407 297 407 297 204.8Z"/>
<path fill="#2e83f9" d="M397.9 199 412 198.1 473 198.2 473 407 297 407 297 206.6Z"/>
<path fill="#2e85f8" d="M408.7 200 473 200 473 407 297 407 297 208.1Z"/>
<path fill="#2d88f6" d="M403.1 201 412 200.4 473 200.4 473 407 297 407 297 208.7Z"/>
<path fill="#2d8af4" d="M409.1 201 473 200.9 473 407 297 407 297 209.2Z"/>
<path fill="#2d8df2" d="M401.1 202 412 201.2 473 201.7 473 407 297 407 297 209.7Z"/>
<path fill="#2c8ff1" d="M407.1 202 445 202 473 219.9 473 407 297 407 297 210.1Z"/>
<path fill="#2b91ef" d="M399.2 203 411.1 203 458 232.4 461 284.3 471.8 301 473 301.9 473 407 297 407 297 210.5Z"/>
<path fill="#2994ed" d="M377.9 205 409 220.4 442 240.3 456 250.5 458.1 280 460.9 301 473 312.3 473 407 297 407 297 210.9Z"/>
<path fill="#2896eb" d="M359.3 208 369 207.4 377 209.9 379.6 212 380.5 214 380.2 217 378.4 220 379 221.7 399 228.9 424 242.6 441 253.6 454 265.8 457.6 295 461 308.7 473 322.2 473 407 297 407 297 211.6 333 208.9 343 208.9 349 211.2Z"/>
<path fill="#2698ea" d="M362.1 209 368 208.6 374 210 377.7 213 377.5 216 375 218.2 370 219.9 365 220.1 359 218.8 355.4 216 355.3 213 358 210.4ZM304.1 212 308.3 212 332 224.6 351 231.5 360 233.2 383 233.8 396 237.1 408 244.1 420 249.8 433 257.9 439 263 447 272 453 279.6 456.4 301 461 316 467 324.9 473 331.2 473 407 297 407 297 212.6Z"/>
<path fill="#269be8" d="M361.8 210 367 209.3 372 210.1 375.4 212 376.3 215 374.6 217 371 218.6 366 219 361 218.1 357.7 216 357 214 358 212ZM297 229 318 238.7 339 243.8 359 245 366 244.3 379 241.3 385 241.2 391 242.2 397 244.5 405 249.6 417 255.1 429 262.5 433.3 266 451.2 289 461 324.6 466 332.1 473 339.2 473 407 297 407Z"/>
<path fill="#259de7" d="M365.3 210 370 210.2 373 211.3 374.9 213 375 215 372 217.4 368 218.3 363 217.9 359.3 216 358.4 214 359.5 212ZM379.9 247 387 246.6 394 248.4 403 254 415 259.3 427 266.8 431.4 271 443.1 288 450 296.1 461 332.8 467 341 473 346.5 473 407 297 407 297 251.4 310 255.9 322 256.8 363 252.5Z"/>
<path fill="#249fe5" d="M363 211 367 210.4 371 211.1 373.8 213 373.9 215 370 217.4 363 217.2 360.6 216 359.5 214 360.8 212ZM381.9 251 388 250.7 393 252.2 401 257.3 413 262.4 425 269.9 428.2 273 439.3 290 449 302.2 451.7 309 457.1 330 460 338.2 464 344.7 470.3 351 473 357.2 473 407 297 407 297 272.1 308 273 319 271.6 338 263.6 365 257.8Z"/>
<path fill="#22a1e4" d="M365.5 211 371.6 212 372.8 213 372.9 215 371 216.4 368 217.2 361.9 216 360.8 215 360.9 213ZM384.5 254 388 254 392 255.2 400 260.3 412 265.4 423.9 273 431.4 283 436.4 292 449 308.5 457 338.9 460 345.9 463.8 351 473 375.7 473 407 297 407 297 290.6 305 289 313 285.8 328 277.7 342 268.4 367 261.5 375 258.4 381 254.9Z"/>
<path fill="#21a3e3" d="M363.5 212 369 211.6 371 212.4 372.2 214 370 216.2 365 216.6 363 215.9 361.5 214ZM383.8 257 387 256.6 391 257.7 398 262.3 411 267.9 422 274.8 428.8 284 434.3 294 447 311 449.8 319 455 341.9 460.5 355 464.6 370 472.7 392 473 407 297 407 297 310.6 302 307.4 311.4 298 342.6 273 368 264.7 376.8 261Z"/>
<path fill="#1fa5e2" d="M365.4 212 370 212.6 371.3 214 370.8 215 367 216.2 363 215 363.1 213ZM386.9 259 390 259.8 398 264.9 409 269.4 421 277 426.6 285 432 295 444.6 312 447.8 320 452.2 342 467.2 392 468.5 401 467.8 407 297 407 297 334.1 302 330.7 304 328.1 317 302 327 291.6 344 276.3 347 274.7 369 267.3 378 263.3 384 259.5Z"/>
<path fill="#1ea7e1" d="M364.4 213 368 212.5 370.2 214 369 215.3 366 215.6 364 214.7 363.6 214ZM383.8 262 386 261.1 389 261.6 396 266.2 409 271.6 419.1 278 425 286.4 430 296 442.5 313 445.8 321 450.4 345 463.3 393 463.9 401 462.4 406 461.6 407 297 407 297 352.4 302 348.2 307 342.4 312.4 333 316.4 316 320.6 305 329.9 294 346.5 278 370 269.5 379 265.3Z"/>
<path fill="#1ca9df" d="M365 214 367 213.2 368.8 214 367 215ZM385.9 263 388 263.1 395.5 268 408 273.1 418 279.4 423.2 287 428.4 297 440.8 314 443.6 321 448.8 348 459.9 393 460.4 400 459.6 403 456 405.7 456 407 297 407 297 366.1 302 362.4 305 358.6 313.9 344 318.2 333 320.5 317 324.1 306 332.1 296 348 279.9 371 271.3 380 267Z"/>
<path fill="#1aabdd" d="M385.6 265 387 264.5 395 269.6 407 274.4 417 280.7 421.9 288 427 298 439.3 315 442 322 446.7 348 457.1 393 457.5 400 456 402.3 455.9 407 299 407 299 399.2 297 399.1 297 380.7 301.8 372 308 365.3 312.8 357 318 345.6 321.9 334 323.5 318 326.7 307 334 297.6 349 281.8 372 272.8 381 268.4Z"/>
<path fill="#18addb" d="M385.1 267 386 266.2 388 266.3 393 270 406 275.2 416 281.3 420.7 288 426 299 437.9 315 440.8 322 445 349 447.8 357 449 367 449.8 368 450 373 450.9 374 451 377 451.9 378 452 381 452.8 382 453 385 454.9 391 455.8 407 299.1 407 299.1 391 302 385 302.1 383 304 380 305.1 376 312 367 321 346.4 322.2 341 324 337 325 331 325.3 319 328.3 308 334.2 300 351 282.2 373 274 381 270Z"/>
<path fill="#15afd9" d="M385.7 267 387 266.5 395 271.5 406 275.7 416 281.9 421.3 290 425.6 299 433.4 309 438.5 317 440.4 322 444.8 349 447.4 357 449.8 373 454.5 391 455.7 407 299.2 407 299.3 391 300.3 390 305.5 376 312.3 367 321.2 347 324.3 337 325.9 320 329 308.1 335.7 299 351 282.8 373 274.4 381 270.5Z"/>
<path fill="#12b1d7" d="M386.8 267 394 271.5 406 276.2 415.4 282 420 288.7 425.3 299 438.1 317 440.1 322 444.6 349 447.4 358 449.6 373 454.4 392 455.7 407 299.2 407 299.6 391 300.6 390 305.9 376 312.6 367 321.5 347 325.2 334 326.8 317 329 308.8 336 299.4 351 283.4 373 274.9 382 270.4Z"/>
<path fill="#0eb2d4" d="M386.8 268 394 272.3 406 276.9 415 282.4 420 289.6 424.9 299 437 315.6 440 323.5 444.4 349 447.1 358 449.4 373 454.1 392 455.6 407 299.3 407 299.9 391 300.9 390 306.4 376 311.8 369 316.9 359 321.8 347 325.7 334 327 318.6 330 308.4 337 299.2 351 284.2 373 275.6Z"/>
<path fill="#09b4d1" d="M385.7 270 387 269.2 393 273 406 278 414.3 283 419 289.4 424.9 300 437 316.5 439.4 323 444.2 349 447 358.8 449.2 373 454 392.8 454.2 400 455.4 402 455.5 407 299.4 407 300 391.4 301.4 390 307 375.7 312.8 368 322.3 347 326.2 334 327.9 318 330.7 309 337.5 300 351.8 285 373 276.8Z"/>
<path fill="#06b5ce" d="M386.9 271 393 274.4 405 278.8 413.8 284 418.2 290 423.9 300 436.5 317 438.9 323 443.5 347 446.7 359 449.2 374 453.9 394 454 400 455.2 402 455.4 407 299.5 407 300 392.2 301.8 391 307.6 376 313.5 368 323 347 326.8 335 328.8 319 331.4 310 338.2 301 352.8 286 374 277.8Z"/>
<path fill="#03b7cc" d="M385.5 274 387 273 392 275.8 404 280 412.9 285 423 300.4 435.7 317 438.2 323 446.2 359 453.4 394 453.5 400 455.1 402 455.4 407 299.6 407 300 393.2 302.7 391 308 376.9 313.7 369 323.4 348 327.8 335 330 319 333 310.1 339.3 302 354 287.2 374 279.5Z"/>
<path fill="#01b8c9" d="M386.2 276 387 275.5 403 281.5 411.4 286 416 291.6 421.9 301 435 317.5 437.4 323 445.8 359 452.9 394 453 400 455 402.3 455.3 407 299.6 407 300 394.5 302 393.7 303.5 392 309 377 314.2 370 324.4 348 329 335 331.6 319 334.4 311 340.8 303 354.8 289 375 281.2Z"/>
<path fill="#01bac6" d="M385.4 279 387 278.3 402 283.4 410 287.4 434.1 318 437 325.1 445.2 359 452.3 394 452.6 401 455 403.1 455.2 407 299.7 407 300 396.1 302.5 395 304.3 393 310 377.4 315.3 370 325.6 348 330.4 335 333.2 320 336 312 342 304.7 356 290.9Z"/>
<path fill="#03bbc3" d="M385.1 282 387 281.3 401 285.6 409 289.4 433 318.4 436 325.3 444.5 359 451.6 394 451.9 401 453 403 455 404.2 455.1 407 299.8 407 300 398.1 303 396.7 305.4 394 311 378 316 371 326.5 349 331.7 336 335.3 320 338 313 344 305.9 357.5 293Z"/>
<path fill="#07bcbf" d="M385.6 285 387 284.6 400 288.1 407 291 418.2 304 427 312.8 431.9 319 436 329.2 444 360 450.9 394 451.3 402 453 404.5 455 405.7 455.1 407 299.9 407 300 400.6 304 398.4 306.7 395 312.1 379 317.4 371 328.1 349 333.5 336 337.7 320 340.4 314 346 307.5 359 295.4Z"/>
<path fill="#0cbdbc" d="M384.3 289 387 288 399 290.9 405 293.2 426 314 430.8 320 435 329.9 443 359.2 450 393.9 450.4 402 451.8 405 453.8 407 299.9 407 300 403.9 305 400.5 308.3 396 313.4 380 318.4 372 329.8 349 335.1 337 340.2 321 343.1 315 348 309.5 361 297.8Z"/>
<path fill="#12beb9" d="M386.3 292 397 293.8 403 295.9 424.5 315 431 323.6 434.4 332 442.3 360 448.9 393 449.4 402 451.3 407 302.1 407 306 403.4 309.6 398 315.2 380 319.6 373 331.7 349 345.4 317 350 312 363 300.7Z"/>
<path fill="#18bfb6" d="M386.6 296 396 297.4 402.4 300 423 316.2 427.5 321 429.9 325 433.3 333 441.3 360 447.9 393 449.2 407 307.4 407 312.1 398 316.8 381 338.4 340 348.8 318 365 303.8Z"/>
<path fill="#1dc0b3" d="M384.7 301 388 300.2 396 301.5 399 302.9 421 317.3 425 321 427.8 325 432.2 334 440.3 360 446.9 393 447.3 407 311.6 407 319 381 351.9 320 367.5 307Z"/>
<path fill="#23c1af" d="M386.5 305 393 305.4 409 312.5 421 320.1 426.2 326 431 335 438 356.1 441 367.8 445.9 394 445.2 407 315.4 407 318.3 392 321.7 380 335.2 355 354.7 323 359 318.8 370 310.6Z"/>
<path fill="#27c2ac" d="M386.1 310 389 309.7 406 314.8 416 319.9 422.1 324 429 334.5 437.1 357 442.9 382 444.6 394 444.8 400 444.1 404 442.7 407 319.2 407 320.6 393 323.7 381 337 356.4 346 342.5 357.2 327 361.9 322 373 314.2Z"/>
<path fill="#2ac3a9" d="M383.4 316 386 315.2 389 315.5 408 319 420 325.3 427.2 335 432.3 347 439.2 370 443.3 394 443.4 401 442 404.3 440 407 323.2 407 322.4 400 325.8 382 331.7 370 339 357.7 348.6 344 364.4 326 374 319.3Z"/>
<path fill="#2dc4a5" d="M389.4 321 406 322 411 323.8 419 327.7 426.4 337 434.6 358 440.4 382 442 400 441.5 402 440 403.5 439.9 407 328.5 407 326.1 404 325.4 401 328.3 382 333.8 371 341.2 359 351 346.1 362 334.8 370 327.8 379 322.8 384 321.4Z"/>
<path fill="#30c5a2" d="M390.9 326 408 326.1 417 329.5 424.8 338 433 357.6 436.8 371 439.3 383 440.5 394 439.9 407 331 407 331 403.6 329.1 402 328.5 400 330.7 383 336 372 343 361 353 348.8 365 338 377 329.4 382 327.7Z"/>
<path fill="#32c69e" d="M397 330 398 329.1 409 329.1 413 331 416 331.1 423.9 339 430.8 354 433 362 433.9 363 434 366 435.9 370 436 373 436.8 374 437 378 437.9 379 438 383.1 438.9 385 439 400 439.9 401 439.8 407 331.1 407 331.1 395 332 393 332.1 386 333 385 333.1 382 337.1 374 345 363 345 362 357 349.1 358 349 367 341.1 370 340 372 338 375 337 377 335 381 333 387 332 391 330.1Z"/>
<path fill="#35c79a" d="M397.5 330 399 329.4 408 329.2 413 331.2 416 331.5 423.5 339 424.7 341 431.7 357 433.9 366 435.7 370 438.7 385 438.9 400 439.8 401 439.8 407 331.2 407 331.4 396 333.3 382 337.3 374 345.3 362 357 349.4 372 338.3 381 333.3 387 332.2 391 330.4Z"/>
<path fill="#38c896" d="M398.1 330 408 329.4 416 331.8 424.4 341 431.5 357 435.5 370 438.5 385 438.8 400 439.7 401 439.7 407 331.2 407 331.7 396 333.5 382 337.5 374 345.5 362 356 350.5 372 338.6 381 333.6 392 330.5Z"/>
<path fill="#3cc992" d="M398.8 330 408 329.6 415.7 332 424.1 341 431.3 357 435.3 370 438.5 386 438.7 400 439.6 401 439.7 407 331.3 407 332.6 388 333.7 382 337.7 374 345.7 362 356 350.7 369 340.7 381 333.9 392 330.7Z"/>
<path fill="#3fca8e" d="M400.1 330 408 329.9 415.2 332 424 341.2 431.1 357 435.4 371 438.3 386 438.6 400 439.6 401 439.6 407 331.4 407 332.8 388 333.9 382 337.9 374 343.9 365 353.9 353 366 343 379 334.9 392 330.9Z"/>
<path fill="#44cb89" d="M402.4 330 407.7 330 416 332.8 423 339.8 427 347.6 432 360.2 436.2 375 438.3 387 438.5 400 439.5 401 439.5 407 331.4 407 334 382.3 338 374.2 344 365.1 355 352.1 367.8 342 379.4 335 392 331.3Z"/>
<path fill="#49cb85" d="M405.8 330 416 333.2 422.8 340 428 350.3 433 364 437.1 380 439.5 407 331.5 407 334 382.7 338.9 373 345 364 355.5 352 368 342.1 380 335 392 331.7Z"/>
<path fill="#4fcc80" d="M401.1 331 406 330.6 415 333.1 422.3 340 427 348.8 431 358.4 436 375.7 438 387.1 438.3 400 439.3 401 439.4 407 331.6 407 334.1 383 339 373.3 346 363 355 353 367.5 343 380 335.6 392 332.1Z"/>
<path fill="#55cc7c" d="M397.8 332 406 331.2 415 333.9 421.6 340 423 342.4 430 356.8 435 371.9 438 388.5 438.3 400 439.2 401 439.4 407 331.6 407 334.5 383 339 373.9 347 362.4 356.6 352 370 342 380.6 336 392 332.7Z"/>
<path fill="#5bcc77" d="M396.1 333 406 332 414 334.4 422 342 430 357.8 435 373.1 437 382 438.2 400 439.1 401 439.3 407 331.7 407 332 401.6 333.2 400 334.9 383 339.4 374 347.1 363 356.4 353 369 343.4 381 336.7Z"/>
<path fill="#61cd71" d="M396 334 406 333.1 413 335.1 421 341.9 429 356.8 434 370.5 437 383.2 438.1 400 439 401 439.3 407 331.8 407 332 402.2 333.7 400 335.5 383 340 374 347.9 363 357.4 353 369.6 344 381 337.6Z"/>
<path fill="#67cd6c" d="M397.7 335 406 334.4 413 336.4 419.8 342 425 350.4 429 358.2 434 371.8 436.8 384 437.9 400 439 401.4 439.2 407 331.8 407 332 403 333.5 402 334.3 400 336 383.4 340.1 375 348 363.9 358 353.6 370 344.9 382 338.5Z"/>
<path fill="#6dcd67" d="M403.3 336 406 336 412 337.6 418 342.1 428 357.8 433.2 371 436 381.7 437.6 394 437.6 400 439 401.9 439.2 407 331.9 407 332 404.2 334 402.8 334.8 401 336.5 384 339 378.4 348.2 365 358 354.9 370 346.3 382 339.9 393 337Z"/>
<path fill="#74cc62" d="M398.3 338 406 337.8 412 339.6 417.8 344 427 357.8 433 371.9 435.9 383 437.2 400 439 402.8 439.1 407 332 407 332 406 334 404.5 335.4 402 337.2 385 339 380.2 341.9 375 350 364.4 359.7 355 371.5 347 383 341.2Z"/>
<path fill="#7bcc5d" d="M397.3 340 405 339.7 411 341.4 417 345.8 426 358.2 432 371.1 435 381.4 436.8 394 436.9 401 439 404.1 439 407 334.2 407 336.5 402 337.1 392 338.2 385 339.7 381 342.4 376 351 365 360.6 356 372 348.5 383 343.2Z"/>
<path fill="#82cc58" d="M399.1 342 405 342 409 343 414 345.8 426 360.3 432 373 435 383.4 436.5 402 438.6 407 336.8 407 338 393 340 383.1 343 377.1 351.9 366 361.8 357 373.1 350 384 345Z"/>
<path fill="#88cb53" d="M394.7 345 405 344.6 411.1 347 416 350.7 425 361 431.2 373 434.5 384 435.8 394 435.7 402 434.9 407 339.4 407 339.2 394 340.7 385 343.1 379 352 368 362 359 367 355.6 382 348.2Z"/>
<path fill="#8fcb4e" d="M393.7 348 401 347.3 405 347.6 409 349.1 415 352.9 424 362.1 430.7 374 434 384.5 435.2 400 434 403.5 433.9 407 342.5 407 341 404 340.3 400 340.6 393 342.1 385 344 380 353 369.3 367 357.9 382 350.9Z"/>
<path fill="#96ca49" d="M394.2 351 400 350.3 407 351.8 413.6 355 423.5 364 430 374.9 433.4 385 434.5 394 433.9 407 345 407 345 404.9 343 403.4 341.9 401 342 394 344.7 382 347 378.7 355 369.9 367.8 360 383 353.5Z"/>
<path fill="#9cc944" d="M396.6 354 403 354.2 412 357.1 422.3 365 429 375 432.6 385 433.8 394 433.8 407 345.1 407 345 402.1 343.5 400 343.6 395 346.1 383 356 371.7 369 362.1 384 356.5Z"/>
<path fill="#a3c83f" d="M395 358 400 357.1 411 359.3 419 364.3 422.8 368 428.6 376 431.7 384 432.8 389 433.8 407 345.2 407 345.1 394 347.6 383 357 373.3 370 364.2 385 359.2Z"/>
<path fill="#a9c73a" d="M397.7 358 412 360.8 420 365.7 427.4 375 431.3 384 432.5 389 433.7 407 345.3 407 345.6 394 347.9 384 357.2 374 370 365 385 360.1Z"/>
<path fill="#afc636" d="M395.2 359 399 358.4 411 360.8 421 367.3 427.6 376 431.4 385 432.7 392 432.8 400 433.6 401 433.6 407 345.4 407 346.1 394 348.4 384 357.8 374 371 365.2 384 360.9Z"/>
<path fill="#b5c533" d="M393.3 360 399 359.1 410 361.1 420.1 367 427.3 376 431.2 385 432.6 392 432.7 400 433.5 401 433.6 407 345.5 407 346.5 394 348.9 384 355 377.4 358.7 374 370.8 366 385 361.3Z"/>
<path fill="#bbc42f" d="M398.4 360 411 362.4 420 367.7 426.9 376 431.2 386 432.5 393 432.7 400 433.4 401 433.5 407 345.6 407 346.9 394 349.4 384 358.3 375 371 366.6 385 362.1Z"/>
<path fill="#c1c32c" d="M397.4 361 410 362.7 419 367.6 426.4 376 431.1 386 432.4 393 433.4 407 345.7 407 346 402.1 347.2 400 347.4 394 350 384.2 358 376.1 371 367.5 385 362.9Z"/>
<path fill="#c7c12a" d="M396.8 362 399 361.7 410 363.6 419 368.5 426 376.2 431 386.8 432.3 393 433.4 407 345.7 407 346 402.9 347.6 401 348 394 350.4 385 358 377 372 368 385 363.8Z"/>
<path fill="#ccc028" d="M396.6 363 399 362.7 410 364.6 418 368.6 425.2 376 430.6 386 432.2 393 433.3 407 345.8 407 346 403.9 348.2 401 348.7 393 351 385 358 377.9 372 368.9 386 364.6Z"/>
<path fill="#d2bf27" d="M396.7 364 409 365.1 418 369.6 425 376.5 430.3 386 432.1 393 433.2 407 345.9 407 346 405.2 348.5 402 349.3 393 351.4 386 358 378.8 373 369.6 386 365.5Z"/>
<path fill="#d7be28" d="M397.1 365 409 366.1 417.2 370 424.8 377 429 383.6 431 389.4 432.1 394 433.2 407 346 407 349 402.8 349.9 393 352.2 386 358 379.7 373 370.6 386 366.6Z"/>
<path fill="#dcbd29" d="M397.8 366 409 367.2 417 370.9 424.1 377 428 382.4 430 386.8 432 393.7 433.1 407 348.2 407 349.8 403 351.3 390 353 386 358 380.7 373 371.6 386 367.7Z"/>
<path fill="#e1bc2b" d="M390.9 368 399 367 408 367.9 416 371.3 421 374.8 426 380.3 429.4 386 431.9 394 433 407 349.9 407 351.7 391 353.9 386 357.6 382 362 378.8 374 372.4Z"/>
<path fill="#e5bb2d" d="M392 369 399 368.2 407 368.7 415 371.8 422 376.6 428 383.7 431 391.4 431.8 394 432 407 351.5 407 352.1 392 354.3 387 358 382.7 363 379.2 374 373.5 387 369.7Z"/>
<path fill="#eabb30" d="M393.5 370 399 369.4 407 369.8 415 372.8 422.6 378 427.8 384 431.4 393 431.9 407 353.2 407 352.1 401 352.5 393 355.2 387 358.8 383 375 374.3 387 370.8Z"/>
<path fill="#eeba34" d="M395.3 371 407 371 415 373.9 420 376.6 422.8 379 427.4 384 431.2 393 431.9 407 355.2 407 353 402 353.2 393 356 387.4 359 383.9 375 375.5 388 371.8Z"/>
<path fill="#f2ba38" d="M397.7 372 406 372 413 374.1 420 377.4 426.9 384 431.4 394 431.8 407 357 407 353.8 402 353.8 394 356.6 388 360 384.2 376 376.4 388 373Z"/>
<path fill="#f6ba3b" d="M390.4 374 406 373.2 420 378.2 427 384.7 431 393.3 431.8 407 357.1 407 357 404.3 354.4 401 354.5 394 357 389 360 385.3 374 378.3Z"/>
<path fill="#f9bb3d" d="M393.3 375 407 374.5 419 378.4 421 379.9 426.7 385 431 393.8 431.7 407 357.2 407 357 402.9 355 400 355.3 394 358 389.1 361 385.6 376 378.9 388 375.6Z"/>
<path fill="#fcbc3d" d="M396.8 376 406 375.6 411 376.8 419 379.2 426 384.7 430.9 394 431.6 407 357.3 407 357.1 402 355.8 400 356 394 361 386.8 377 379.8 389 376.7Z"/>
<path fill="#febe3c" d="M402.1 377 407 376.9 418 379.7 425.8 385 430.6 394 431.6 407 357.4 407 356.8 394 362 387 374 382 389 378Z"/>
<path fill="#fec13a" d="M393 379 399 378.2 409 378.3 418 380.2 425 384.9 430.4 394 431.5 407 357.5 407 357.6 394 362.3 388 376 382.4 388 379.3Z"/>
<path fill="#fec438" d="M396.8 379 407 378.4 418 380.7 425 385.4 430.2 394 431.4 407 357.6 407 358.5 394 363 388.5 377 382.9 389 379.7Z"/>
<path fill="#fec636" d="M402 379 407 378.9 418 381.1 425 385.9 429.8 394 431.4 407 357.7 407 358 401.8 359.2 400 359.4 395 364 389 375 384.2 389 380.2Z"/>
<path fill="#fec934" d="M394.9 380 406 379.2 412 380.2 418 381.7 424.3 386 429.3 394 429.9 400 431 401.3 431.3 407 357.8 407 358 403.3 360.3 401 360.7 395 364.6 390 375.3 385 389 380.8Z"/>
<path fill="#fdcc32" d="M400.8 380 406 379.7 417 381.8 424 386.4 428.7 394 429.4 400 431 401.9 431.3 407 357.9 407 358 405 360 403.9 361.4 402 362.3 395 365.4 391 375.3 386 389 381.5Z"/>
<path fill="#fccf31" d="M395.1 381 406 380.2 413 381.4 418 382.9 423.8 387 428.1 394 429.1 401 431 402.7 431.2 407 358 407 362 404 363.1 401 363.4 396 366 392.3 376 386.8 389.6 382Z"/>
<path fill="#fbd22f" d="M401.5 381 406 380.7 416 382.7 423 387.2 427.5 394 428.5 401 431 403.6 431.1 407 361.8 407 364.2 403 365 396.3 367.6 393 376 388 388.8 383Z"/>
<path fill="#fad52e" d="M396 382 406 381.3 417.6 384 423 388 426 392.5 427.3 395 428.2 402 431 404.8 431.1 407 364.3 407 365.8 403 366.4 397 368 394.6 378.6 388 390 383.4Z"/>
<path fill="#f9d72c" d="M404.1 382 415 383.5 422 388 426.7 395 427.5 402 431 407 366.5 407 368.2 397 375.7 391 390 384.2 396 382.6Z"/>
<path fill="#f8da2b" d="M397.4 383 406 382.5 413 383.5 417 385.1 422 388.9 425 393.1 426 395.2 427 403 429.2 407 368.6 407 369.6 398 372.8 395 383 388.3 390.2 385Z"/>
<path fill="#f6dd29" d="M395.5 384 406 383.2 413 384.1 417 385.9 422 390 425 394.5 427.4 407 370.6 407 371.2 399 375.2 395 383 389.5Z"/>
<path fill="#f6e028" d="M401 384 413 384.7 416 386 421 389.9 424.9 396 425.8 407 372.7 407 373.1 400 378.6 394 391 386.5 396 384.6Z"/>
<path fill="#f5e327" d="M396.9 385 406 384.5 412 385.1 416 386.8 420 390 424.2 396 424.2 407 374.8 407 375 401 378.6 396 385 390.9Z"/>
<path fill="#f5e626" d="M396 386 405 385.2 411 385.6 416 387.7 420 391 423.5 396 424 401 422.5 407 376.9 407 376.6 403 379.8 397 385.3 392Z"/>
<path fill="#f5e924" d="M399.7 386 412 386.4 419 391.1 422.3 395 423.2 399 422.8 403 421 406.4 420.4 407 379.2 407 378.8 405 379.6 401 382.8 396 391 389.6 397 386.4Z"/>
<path fill="#f5ec22" d="M397.4 387 412 387 418.8 392 422 396 422.6 400 422 402.7 420 405.2 419.9 407 381.8 407 381.5 402 383.8 397 387.8 393Z"/>
<path fill="#f5ef21" d="M397 388 399 387.4 411 387.5 415 389.7 421.2 396 421.8 401 420 403.6 419.8 407 385.5 407 383.7 403 384.9 398 388.3 394Z"/>
<path fill="#f6f11e" d="M403.6 388 412 388.4 420 395.5 421.2 400 420 402.3 419.7 407 389.1 407 389 405.7 387 404.5 385.7 402 386.6 398 389 394.9 398 388.3Z"/>
<path fill="#f7f41c" d="M398.3 389 411 388.8 414.2 391 419.9 397 420.5 400 419.5 407 389.2 407 389 403.1 387.3 401 387.6 399 390 395.6Z"/>
<path fill="#f8f719" d="M398.1 390 405 389.5 411.8 390 419.2 397 419.4 407 389.4 407 389.1 399 391.2 396Z"/>
<path fill="#f9fa16" d="M398.3 391 405 390.5 411.7 391 418.1 397 419.2 401 419.3 407 389.6 407 390 400 392 396.9Z"/>
<path fill="#f9fb15" d="M399.7 393 410 392.7 415.8 398 417 401.4 419 402.5 419.2 407 389.8 407 390 402.5 391.4 402 394 398.3Z"/>
<path fill="#f9fb15" d="M400.1 396 401 395.2 409 395.2 413.2 399 416 404 419 405 419 407 389.9 407 390 405 393 404 395.8 400Z"/>
<path fill="none" stroke="#2f4fe6" stroke-width="1.05" d="M300 390 306 375 311.4 368.4 316.3 358.6 321.2 346.5 324.8 334.3 326 318.2 328.5 308.5 335.7 298.8 343 291.5 350.3 283 362.5 278 372.2 274.5 382 269.6 386.8 266 394 270.8 406.3 275.7 416 281.7 420.8 289 425.7 298.8 433 308.5 437.9 315.8 440.3 322 442.7 336.7 445 349 447.6 358.6 450 373.2 452.4 383 454.9 393.9 455 400M331.8 400 332 393.9 333.3 383 338.2 373.2 345.5 362.3 355.2 351.3 367.4 341.6 379.5 334.3 391.7 330.7 406.3 329 416 331.9 423.3 339.2 428.1 348.9 431.8 358.6 435.4 370.8 437.9 383 439 393.9 439 400M345.3 400 345.5 393.9 347.9 383 357.6 373.2 369.8 364.7 384.4 359.8 399 357.4 411 359.8 420.8 365.9 428 375.6 431.8 385.4 433 393.9 433 400M357.4 400 357.6 393.9 362.5 387.8 374.6 383 389.2 379.3 406.3 378 418.4 380.5 425.7 385.4 430.6 393.9 431 400M390 400 391.7 397 399 390.2 411 390.2 418.4 397 419 400"/>
<path fill="none" stroke="#2249f5" stroke-width="1.2" d="M307 208.6 L409 201.4 L461 201.2M451.3 209.5h7M454.3 213.5h7.6M454 215.2h9.3M452.3 218.9h6M450.4 224.2h6.8M452.9 225.3h6.9M451 228.1h5.2M453.1 230.2h7.3M455.1 231.8h6.2M447.8 235.8h13.8M451.4 238.5h13.8M450.5 240.9h6.4M446.7 243.1h13.9M447.6 244.3h13.9M449.8 247.1h9.7M455.6 250.4h6.6M454 253.2h11.7M452.5 254.7h5.8M456.2 258h5.2M454.3 259h10.9M449.4 263.9h11.8M455.1 269.8h5.9M422.6 212.6h12.9M422.8 213.4h9.9M443.1 246.7h9.1M442.9 247h5.3M306.7 370.3h10.4M305.5 369.4h11.6M312.8 355.2h14.8M313 353.2h15.4M318.2 335.6h7.5M318.6 331.9h12.7M319.9 329h9.9M320.7 323.6h13.8M315.4 314.6h15.3M322.6 315.7h7.9M323.8 310.3h9.4M321.6 306.3h11.4M328.5 304.2h7.5M326.6 298.1h17.1M340.7 292h9.1M345 285.7h12.1M345.6 285.6h7.5M355 280.4h6.5M361.8 276h11.4M371.1 274.6h14.4M376.6 271h6.4M375 269.3h13.5M381.9 266.2h8.1M393.9 271.6h9M400.2 275.8h16.3M406.1 278.1h5.7M411.4 283.7h17.7M413.2 286.7h17.1M416.1 287.9h17.1M414.6 292.7h12.6M411.6 294.1h16.7M420.5 297.3h13.3M423.9 308h12.7M430.6 312.1h12.8M433.5 315.2h8.5M430 318.7h17.2M437.1 324.1h10M431.9 331.3h17.8M437.4 335h9.8M432.5 341h17.9M440.4 343.7h6.7M442.5 351.7h6M434.9 355.8h15.8M438.6 362.5h17.2M439.7 368.5h13.3M444.4 372.6h10.1M449 380.9h6.1M311 316 315 318M330 300 338 296 346 292M307.9 317.8h13.4M327.3 298.4h11.7M335.4 296.4h7.9M342.4 292.8h6.6M365 267H410M355 271H400M340 279H372M330 287H360M318 300H350M316 306H345M318 313H340M405 282H425M415 290H432M395 276H420"/>
<g fill="none" stroke="#2249f5" stroke-width="1"><ellipse cx="335" cy="214" rx="8" ry="3"/><ellipse cx="367" cy="214" rx="8" ry="3.5"/></g>
<path d="M309 394.2H331.8" stroke="#1433e8" stroke-width="1.6" fill="none"/>
<text class="n" x="310.5" y="395.5">60</text>
<g class="n"><text transform="translate(312.9 368.9) rotate(-71)">20</text><text transform="translate(316.3 362.7) rotate(-50)">20</text><text transform="translate(317.9 354) rotate(-49)">20</text><text transform="translate(321.2 349.9) rotate(-56)">20</text><text transform="translate(327.3 340.5) rotate(-85)">20</text><text transform="translate(328.2 332.8) rotate(-85)">20</text><text transform="translate(327.4 325.8) rotate(-85)">20</text><text transform="translate(330.1 318.1) rotate(-76)">20</text><text transform="translate(331.2 309.2) rotate(-50)">20</text><text transform="translate(333.4 304.7) rotate(-33)">20</text><text transform="translate(345.9 293) rotate(-39)">20</text><text transform="translate(349.7 285.8) rotate(-12)">20</text><text transform="translate(348.3 280.8) rotate(-4)">20</text><text transform="translate(359.2 281) rotate(-26)">20</text><text transform="translate(364.5 280.2) rotate(-30)">20</text><text transform="translate(364.7 275.2) rotate(27)">20</text><text transform="translate(362.9 285.2) rotate(25)">20</text><text transform="translate(370.3 274.8) rotate(-6)">20</text><text transform="translate(369.9 269.8) rotate(-8)">20</text><text transform="translate(372.1 279.8) rotate(-29)">20</text><text transform="translate(384.2 266.6) rotate(40)">20</text><text x="391.2" y="272.6">20</text><text transform="translate(388.4 267.6) rotate(-4)">20</text><text x="392.3" y="277.6">20</text><text x="398.8" y="275.1">20</text><text transform="translate(401.5 270.1) rotate(20)">20</text><text transform="translate(404.2 276.9) rotate(51)">20</text><text transform="translate(406.1 271.9) rotate(-9)">20</text><text transform="translate(413.5 278.7) rotate(69)">20</text><text transform="translate(415.8 273.7) rotate(-27)">20</text><text transform="translate(415.9 286.2) rotate(57)">20</text><text x="418.1" y="281.2">20</text><text transform="translate(420.4 295.5) rotate(55)">20</text><text transform="translate(425 302) rotate(61)">20</text><text transform="translate(428.7 308.2) rotate(35)">20</text><text transform="translate(434.1 313.5) rotate(77)">20</text><text transform="translate(438.9 319.7) rotate(85)">20</text><text transform="translate(439.6 335.2) rotate(75)">20</text><text transform="translate(441.1 344.2) rotate(59)">20</text><text transform="translate(442.4 351.6) rotate(65)">20</text><text transform="translate(443.5 359.3) rotate(62)">20</text><text transform="translate(444.7 368.6) rotate(66)">20</text><text transform="translate(445.8 377) rotate(63)">20</text><text transform="translate(449.2 382.3) rotate(70)">20</text><text transform="translate(334.7 393.2) rotate(-83)">40</text><text transform="translate(341 373.8) rotate(-56)">40</text><text transform="translate(354 356.6) rotate(-49)">40</text><text transform="translate(370.2 343) rotate(-31)">40</text><text transform="translate(388.9 333.6) rotate(-7)">40</text><text transform="translate(409.5 332.7) rotate(17)">40</text><text transform="translate(423.5 345.5) rotate(64)">40</text><text transform="translate(431.1 365.6) rotate(74)">40</text><text transform="translate(435.6 386.6) rotate(84)">40</text><text transform="translate(348.3 393.5) rotate(-78)">60</text><text transform="translate(357.5 376.4) rotate(-35)">60</text><text transform="translate(375.5 365.5) rotate(-19)">60</text><text transform="translate(395.5 359.4) rotate(11)">60</text><text transform="translate(415.4 365.6) rotate(32)">60</text><text transform="translate(427.4 381.3) rotate(69)">60</text><text transform="translate(360.9 394) rotate(-51)">80</text><text transform="translate(380.2 384.3) rotate(-14)">80</text><text transform="translate(402.8 379.9) rotate(12)">80</text><text transform="translate(423.3 386.5) rotate(60)">80</text><text transform="translate(394 398.4) rotate(-43)">100</text><text transform="translate(456.3 211.5) rotate(-52)">0</text><text transform="translate(456.9 215.7) rotate(-57)">0</text><text x="455.8" y="219.9">0</text><text transform="translate(456.8 224.1) rotate(-52)">0</text><text x="457.6" y="228.3">0</text><text x="455.9" y="232.5">0</text><text transform="translate(457.7 236.7) rotate(-55)">0</text><text transform="translate(455.5 240.9) rotate(-56)">0</text><text transform="translate(456.1 245.1) rotate(-65)">0</text><text transform="translate(456.8 249.3) rotate(-54)">0</text><text x="456.7" y="253.5">0</text><text transform="translate(455.7 257.7) rotate(-67)">0</text><text transform="translate(457.2 261.9) rotate(-61)">0</text><text transform="translate(455.9 266.1) rotate(-62)">0</text><text transform="translate(456.1 270.3) rotate(-50)">0</text><text transform="translate(426.7 216.4) rotate(-70)">0</text><text transform="translate(447.5 249.4) rotate(-74)">0</text><text transform="translate(312.5 208.5) rotate(-71)">0</text><text x="313" y="212.5">20</text><text transform="translate(334.5 208.5) rotate(-64)">0</text><text transform="translate(340.5 213.5) rotate(-66)">0</text><text transform="translate(344.5 222.5) rotate(-68)">0</text><text transform="translate(352.5 211.5) rotate(-64)">0</text><text transform="translate(368.5 208.5) rotate(-54)">0</text><text x="364" y="215.5">20</text><text x="372" y="216.5">20</text><text x="366" y="221.5">20</text><text transform="translate(394.5 209.5) rotate(-50)">0</text><text transform="translate(400.5 206.5) rotate(-61)">0</text><text transform="translate(309.9 318.4) rotate(27)">20</text><text transform="translate(330.8 302.5) rotate(-27)">20</text><text transform="translate(337.1 299.4) rotate(-27)">20</text><text transform="translate(343.3 296.2) rotate(-27)">20</text></g>
<text x="432.7" y="372.5" class="l">(g)</text>
</g>
<text x="315.8" y="237.5" class="t">c10e10</text>
<text x="416" y="235.8" class="s">1<tspan dx="7.3">cm</tspan></text>
<rect x="420" y="239.8" width="38.5" height="2" fill="#fff"/>
<linearGradient id="cbar" x1="0" y1="0" x2="0" y2="1"><stop offset="0.0000" stop-color="#f9fb15"/><stop offset="0.0159" stop-color="#f7f51b"/><stop offset="0.0317" stop-color="#f6ef20"/><stop offset="0.0476" stop-color="#f5e924"/><stop offset="0.0635" stop-color="#f5e327"/><stop offset="0.0794" stop-color="#f7dc2a"/><stop offset="0.0952" stop-color="#fad62d"/><stop offset="0.1111" stop-color="#fccf30"/><stop offset="0.1270" stop-color="#fec934"/><stop offset="0.1429" stop-color="#fec338"/><stop offset="0.1587" stop-color="#febe3c"/><stop offset="0.1746" stop-color="#f8ba3d"/><stop offset="0.1905" stop-color="#f0ba36"/><stop offset="0.2063" stop-color="#e6bb2d"/><stop offset="0.2222" stop-color="#dcbd29"/><stop offset="0.2381" stop-color="#d1bf27"/><stop offset="0.2540" stop-color="#c5c22a"/><stop offset="0.2698" stop-color="#b9c431"/><stop offset="0.2857" stop-color="#abc739"/><stop offset="0.3016" stop-color="#9dc943"/><stop offset="0.3175" stop-color="#8fcb4e"/><stop offset="0.3333" stop-color="#81cc59"/><stop offset="0.3492" stop-color="#72cd64"/><stop offset="0.3651" stop-color="#64cd6f"/><stop offset="0.3810" stop-color="#57cc7a"/><stop offset="0.3968" stop-color="#4acb84"/><stop offset="0.4127" stop-color="#3fca8e"/><stop offset="0.4286" stop-color="#37c897"/><stop offset="0.4444" stop-color="#31c69f"/><stop offset="0.4603" stop-color="#2cc4a7"/><stop offset="0.4762" stop-color="#24c1ae"/><stop offset="0.4921" stop-color="#19bfb6"/><stop offset="0.5079" stop-color="#0bbdbd"/><stop offset="0.5238" stop-color="#02bac3"/><stop offset="0.5397" stop-color="#01b8ca"/><stop offset="0.5556" stop-color="#08b5d0"/><stop offset="0.5714" stop-color="#12b1d6"/><stop offset="0.5873" stop-color="#18addb"/><stop offset="0.6032" stop-color="#1ca9df"/><stop offset="0.6190" stop-color="#20a5e3"/><stop offset="0.6349" stop-color="#23a0e5"/><stop offset="0.6508" stop-color="#259be8"/><stop offset="0.6667" stop-color="#2797eb"/><stop offset="0.6825" stop-color="#2b91ef"/><stop offset="0.6984" stop-color="#2d8cf3"/><stop offset="0.7143" stop-color="#2e87f7"/><stop offset="0.7302" stop-color="#2f81fa"/><stop offset="0.7460" stop-color="#327cfc"/><stop offset="0.7619" stop-color="#3875fe"/><stop offset="0.7778" stop-color="#3e6fff"/><stop offset="0.7937" stop-color="#4269fe"/><stop offset="0.8095" stop-color="#4563fd"/><stop offset="0.8254" stop-color="#465efb"/><stop offset="0.8413" stop-color="#4758f8"/><stop offset="0.8571" stop-color="#4852f4"/><stop offset="0.8730" stop-color="#484df0"/><stop offset="0.8889" stop-color="#4747eb"/><stop offset="0.9048" stop-color="#4741e5"/><stop offset="0.9206" stop-color="#463cde"/><stop offset="0.9365" stop-color="#4537d5"/><stop offset="0.9524" stop-color="#4332cb"/><stop offset="0.9683" stop-color="#422ec0"/><stop offset="0.9841" stop-color="#402ab4"/><stop offset="1.0000" stop-color="#3e26a8"/></linearGradient>
<rect x="469.5" y="201" width="11.5" height="194" fill="url(#cbar)" stroke="#555" stroke-width="0.6"/>
<line x1="479.0" x2="481.0" y1="202.7" y2="202.7" stroke="#333" stroke-width="0.6"/>
<text x="485" y="207.9" class="cb">100</text>
<line x1="479.0" x2="481.0" y1="231.0" y2="231.0" stroke="#333" stroke-width="0.6"/>
<text x="485" y="236.2" class="cb">80</text>
<line x1="479.0" x2="481.0" y1="259.3" y2="259.3" stroke="#333" stroke-width="0.6"/>
<text x="485" y="264.5" class="cb">60</text>
<line x1="479.0" x2="481.0" y1="287.6" y2="287.6" stroke="#333" stroke-width="0.6"/>
<text x="485" y="292.8" class="cb">40</text>
<line x1="479.0" x2="481.0" y1="315.9" y2="315.9" stroke="#333" stroke-width="0.6"/>
<text x="485" y="321.1" class="cb">20</text>
<line x1="479.0" x2="481.0" y1="344.2" y2="344.2" stroke="#333" stroke-width="0.6"/>
<text x="485" y="349.4" class="cb">0</text>
</svg>
</body></html>
